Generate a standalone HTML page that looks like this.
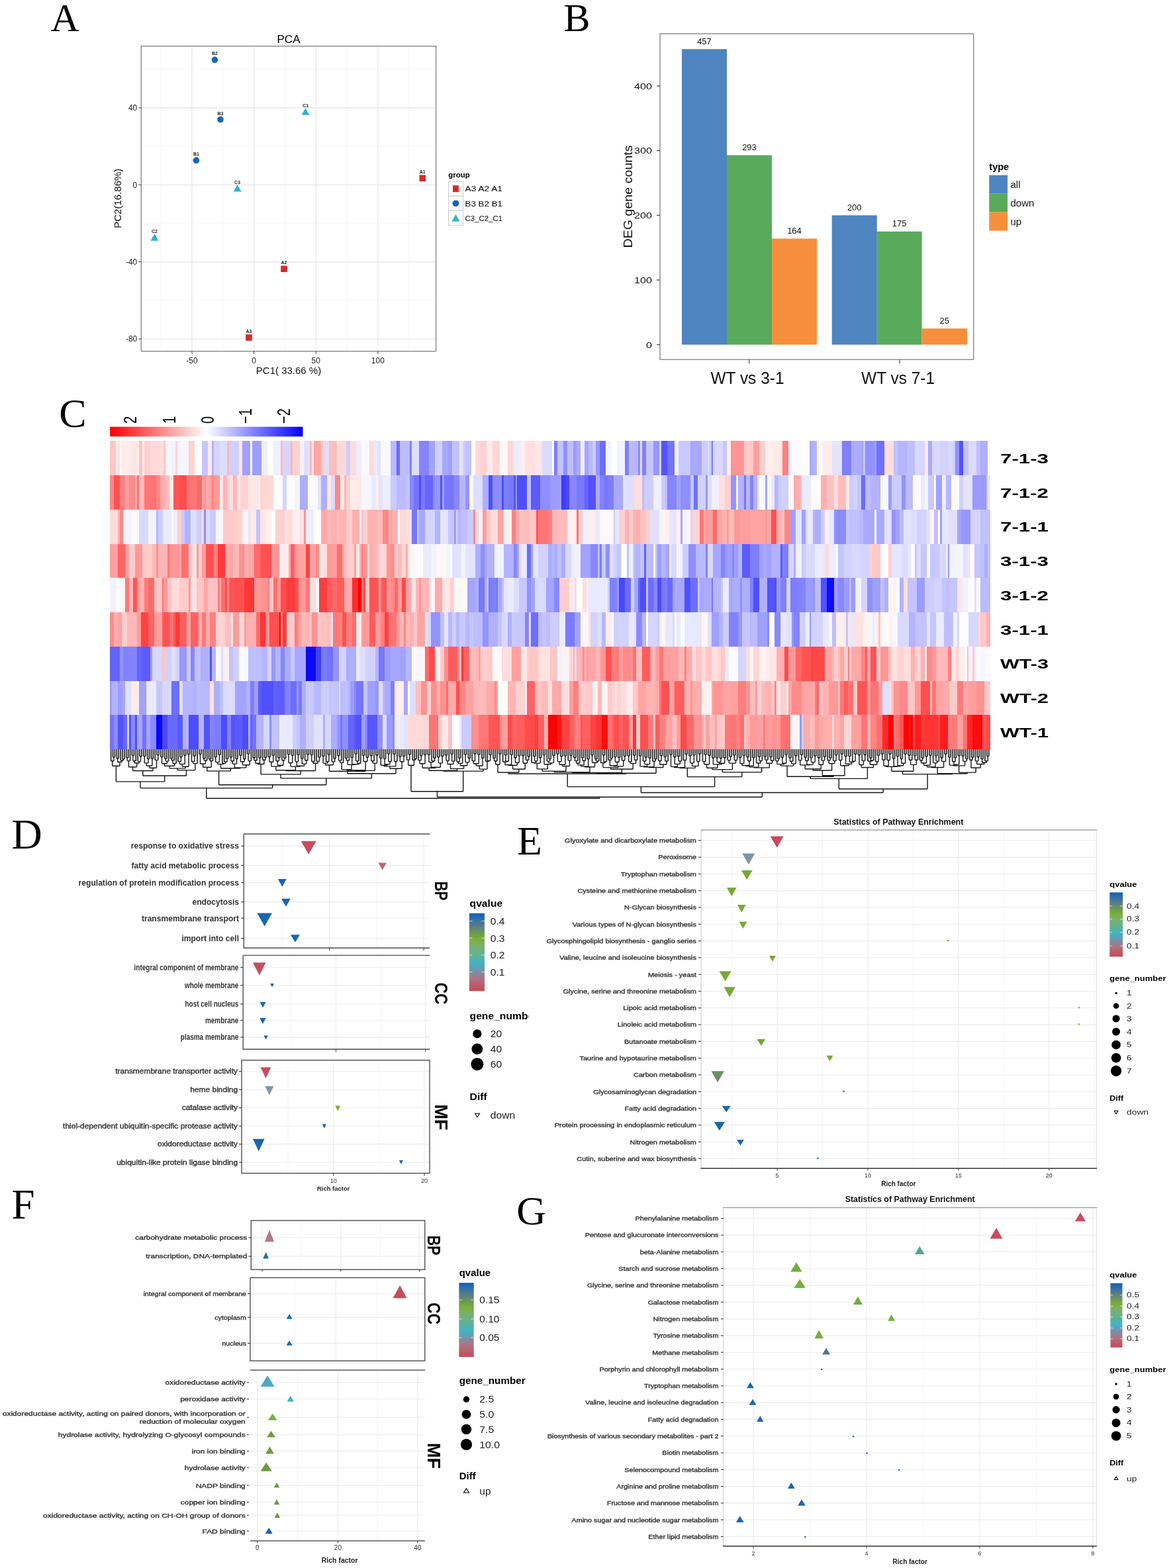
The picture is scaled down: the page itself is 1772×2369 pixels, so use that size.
<!DOCTYPE html>
<html lang="en"><head><meta charset="utf-8"><title>Figure</title>
<style>
html,body{margin:0;padding:0;background:#fff;width:1772px;height:2369px;overflow:hidden}
svg{display:block}
.hm rect{height:51.8px}
svg text{font-family:'Liberation Sans',Arial,Helvetica,sans-serif}
svg text[font-family]{font-family:'Liberation Serif','Times New Roman',serif}
</style></head><body>
<svg width="1772" height="2369" viewBox="0 0 1772 2369" font-family="'Liberation Sans', Arial, Helvetica, sans-serif">
<defs><linearGradient id="qg" x1="0" y1="0" x2="0" y2="1"><stop offset="0" stop-color="#1060b8"/><stop offset="0.1" stop-color="#3a74a0"/><stop offset="0.18" stop-color="#608080"/><stop offset="0.32" stop-color="#7aae32"/><stop offset="0.42" stop-color="#7ab070"/><stop offset="0.54" stop-color="#60b290"/><stop offset="0.64" stop-color="#40b4c8"/><stop offset="0.75" stop-color="#7890a8"/><stop offset="0.85" stop-color="#b07080"/><stop offset="1" stop-color="#c84858"/></linearGradient></defs>
<rect x="213.3" y="69.7" width="445.3" height="461" fill="#fff"/>
<line x1="243.2" y1="69.7" x2="243.2" y2="530.7" stroke="#f5f5f5" stroke-width="1"/>
<line x1="336.8" y1="69.7" x2="336.8" y2="530.7" stroke="#f5f5f5" stroke-width="1"/>
<line x1="430.4" y1="69.7" x2="430.4" y2="530.7" stroke="#f5f5f5" stroke-width="1"/>
<line x1="524" y1="69.7" x2="524" y2="530.7" stroke="#f5f5f5" stroke-width="1"/>
<line x1="617.6" y1="69.7" x2="617.6" y2="530.7" stroke="#f5f5f5" stroke-width="1"/>
<line x1="213.3" y1="104.7" x2="658.6" y2="104.7" stroke="#f5f5f5" stroke-width="1"/>
<line x1="213.3" y1="221.1" x2="658.6" y2="221.1" stroke="#f5f5f5" stroke-width="1"/>
<line x1="213.3" y1="337.5" x2="658.6" y2="337.5" stroke="#f5f5f5" stroke-width="1"/>
<line x1="213.3" y1="453.9" x2="658.6" y2="453.9" stroke="#f5f5f5" stroke-width="1"/>
<line x1="290" y1="69.7" x2="290" y2="530.7" stroke="#e6e6e6" stroke-width="1.2"/>
<line x1="383.6" y1="69.7" x2="383.6" y2="530.7" stroke="#e6e6e6" stroke-width="1.2"/>
<line x1="477.2" y1="69.7" x2="477.2" y2="530.7" stroke="#e6e6e6" stroke-width="1.2"/>
<line x1="570.8" y1="69.7" x2="570.8" y2="530.7" stroke="#e6e6e6" stroke-width="1.2"/>
<line x1="213.3" y1="162.9" x2="658.6" y2="162.9" stroke="#e6e6e6" stroke-width="1.2"/>
<line x1="213.3" y1="279.3" x2="658.6" y2="279.3" stroke="#e6e6e6" stroke-width="1.2"/>
<line x1="213.3" y1="395.7" x2="658.6" y2="395.7" stroke="#e6e6e6" stroke-width="1.2"/>
<line x1="213.3" y1="512.1" x2="658.6" y2="512.1" stroke="#e6e6e6" stroke-width="1.2"/>
<rect x="213.3" y="69.7" width="445.3" height="461" fill="none" stroke="#808080" stroke-width="1.3"/>
<line x1="290" y1="530.7" x2="290" y2="534.7" stroke="#333" stroke-width="1"/>
<text x="290" y="549" font-size="12" text-anchor="middle" fill="#222">-50</text>
<line x1="383.6" y1="530.7" x2="383.6" y2="534.7" stroke="#333" stroke-width="1"/>
<text x="383.6" y="549" font-size="12" text-anchor="middle" fill="#222">0</text>
<line x1="477.2" y1="530.7" x2="477.2" y2="534.7" stroke="#333" stroke-width="1"/>
<text x="477.2" y="549" font-size="12" text-anchor="middle" fill="#222">50</text>
<line x1="570.8" y1="530.7" x2="570.8" y2="534.7" stroke="#333" stroke-width="1"/>
<text x="570.8" y="549" font-size="12" text-anchor="middle" fill="#222">100</text>
<line x1="209.3" y1="162.9" x2="213.3" y2="162.9" stroke="#333" stroke-width="1"/>
<text x="207.3" y="167.2" font-size="12" text-anchor="end" fill="#222">40</text>
<line x1="209.3" y1="279.3" x2="213.3" y2="279.3" stroke="#333" stroke-width="1"/>
<text x="207.3" y="283.6" font-size="12" text-anchor="end" fill="#222">0</text>
<line x1="209.3" y1="395.7" x2="213.3" y2="395.7" stroke="#333" stroke-width="1"/>
<text x="207.3" y="400" font-size="12" text-anchor="end" fill="#222">-40</text>
<line x1="209.3" y1="512.1" x2="213.3" y2="512.1" stroke="#333" stroke-width="1"/>
<text x="207.3" y="516.4" font-size="12" text-anchor="end" fill="#222">-80</text>
<text x="436" y="64.5" font-size="17" text-anchor="middle">PCA</text>
<text x="436" y="565" font-size="15" text-anchor="middle" fill="#111">PC1( 33.66 %)</text>
<text x="183.5" y="299.7" font-size="15" text-anchor="middle" fill="#111" transform="rotate(-90 183.5 299.7)">PC2(16.86%)</text>
<circle cx="324.4" cy="90.4" r="4.8" fill="#1865b8"/>
<text x="324.4" y="83.4" font-size="7" text-anchor="middle" font-weight="bold" fill="#222">B2</text>
<circle cx="333" cy="180.6" r="4.8" fill="#1865b8"/>
<text x="333" y="173.6" font-size="7" text-anchor="middle" font-weight="bold" fill="#222">B3</text>
<circle cx="296.4" cy="242.3" r="4.8" fill="#1865b8"/>
<text x="296.4" y="235.3" font-size="7" text-anchor="middle" font-weight="bold" fill="#222">B1</text>
<path d="M461.6 163.2l6 10.5h-12z" fill="#2fb3cf"/>
<text x="461.6" y="162.2" font-size="7" text-anchor="middle" font-weight="bold" fill="#222">C1</text>
<path d="M358.6 279l6 10.5h-12z" fill="#2fb3cf"/>
<text x="358.6" y="278" font-size="7" text-anchor="middle" font-weight="bold" fill="#222">C3</text>
<path d="M233.5 353.3l6 10.5h-12z" fill="#2fb3cf"/>
<text x="233.5" y="352.3" font-size="7" text-anchor="middle" font-weight="bold" fill="#222">C2</text>
<rect x="633.5" y="264.4" width="9.6" height="9.6" fill="#d42a2e"/>
<text x="638.3" y="262.2" font-size="7" text-anchor="middle" font-weight="bold" fill="#222">A1</text>
<rect x="424.2" y="401.5" width="9.6" height="9.6" fill="#d42a2e"/>
<text x="429" y="399.3" font-size="7" text-anchor="middle" font-weight="bold" fill="#222">A2</text>
<rect x="371.2" y="505.2" width="9.6" height="9.6" fill="#d42a2e"/>
<text x="376" y="503" font-size="7" text-anchor="middle" font-weight="bold" fill="#222">A3</text>
<text x="677.2" y="268.4" font-size="11.5" font-weight="bold">group</text>
<rect x="677.5" y="274" width="22" height="22.1" fill="#fff" stroke="#cfcfcf" stroke-width="1.1"/>
<rect x="684" y="280.2" width="9" height="10" fill="#d42a2e"/>
<text x="702.5" y="289.4" font-size="11.5" textLength="56.5" lengthAdjust="spacingAndGlyphs">A3  A2  A1</text>
<rect x="677.5" y="296.1" width="22" height="22.1" fill="#fff" stroke="#cfcfcf" stroke-width="1.1"/>
<circle cx="688.5" cy="307.3" r="4.9" fill="#1865b8"/>
<text x="702.5" y="311.5" font-size="11.5" textLength="56.5" lengthAdjust="spacingAndGlyphs">B3  B2  B1</text>
<rect x="677.5" y="318.2" width="22" height="22.1" fill="#fff" stroke="#cfcfcf" stroke-width="1.1"/>
<path d="M688.5 323.8l6 10.8h-12z" fill="#2fb3cf"/>
<text x="702.5" y="333.6" font-size="11.5" textLength="56.5" lengthAdjust="spacingAndGlyphs">C3_C2_C1</text>
<rect x="997" y="51" width="473.7" height="492.2" fill="#fff" stroke="#7f7f7f" stroke-width="1.3"/>
<rect x="1030" y="74.21" width="68" height="446.49" fill="#4e84bf"/>
<text x="1064" y="66.71" font-size="13" text-anchor="middle" fill="#111">457</text>
<rect x="1098" y="234.44" width="68" height="286.26" fill="#5aaa5b"/>
<text x="1132" y="226.94" font-size="13" text-anchor="middle" fill="#111">293</text>
<rect x="1166" y="360.47" width="68" height="160.23" fill="#f68f3d"/>
<text x="1200" y="352.97" font-size="13" text-anchor="middle" fill="#111">164</text>
<rect x="1256.7" y="325.3" width="68.1" height="195.4" fill="#4e84bf"/>
<text x="1290.75" y="317.8" font-size="13" text-anchor="middle" fill="#111">200</text>
<rect x="1324.8" y="349.73" width="67.8" height="170.98" fill="#5aaa5b"/>
<text x="1358.7" y="342.23" font-size="13" text-anchor="middle" fill="#111">175</text>
<rect x="1392.6" y="496.28" width="68.4" height="24.43" fill="#f68f3d"/>
<text x="1426.8" y="488.78" font-size="13" text-anchor="middle" fill="#111">25</text>
<line x1="992" y1="520.7" x2="997" y2="520.7" stroke="#333" stroke-width="1.1"/>
<text x="985" y="525.5" font-size="13.5" text-anchor="end" fill="#111" textLength="9" lengthAdjust="spacingAndGlyphs">0</text>
<line x1="992" y1="423" x2="997" y2="423" stroke="#333" stroke-width="1.1"/>
<text x="985" y="427.8" font-size="13.5" text-anchor="end" fill="#111" textLength="27" lengthAdjust="spacingAndGlyphs">100</text>
<line x1="992" y1="325.3" x2="997" y2="325.3" stroke="#333" stroke-width="1.1"/>
<text x="985" y="330.1" font-size="13.5" text-anchor="end" fill="#111" textLength="27" lengthAdjust="spacingAndGlyphs">200</text>
<line x1="992" y1="227.6" x2="997" y2="227.6" stroke="#333" stroke-width="1.1"/>
<text x="985" y="232.4" font-size="13.5" text-anchor="end" fill="#111" textLength="27" lengthAdjust="spacingAndGlyphs">300</text>
<line x1="992" y1="129.9" x2="997" y2="129.9" stroke="#333" stroke-width="1.1"/>
<text x="985" y="134.7" font-size="13.5" text-anchor="end" fill="#111" textLength="27" lengthAdjust="spacingAndGlyphs">400</text>
<line x1="1131.8" y1="543.2" x2="1131.8" y2="549.2" stroke="#333" stroke-width="1.1"/>
<line x1="1359" y1="543.2" x2="1359" y2="549.2" stroke="#333" stroke-width="1.1"/>
<text x="1129" y="580" font-size="25" text-anchor="middle" fill="#111" textLength="111" lengthAdjust="spacingAndGlyphs">WT vs 3-1</text>
<text x="1356.6" y="580" font-size="25" text-anchor="middle" fill="#111" textLength="111" lengthAdjust="spacingAndGlyphs">WT vs 7-1</text>
<text x="954.5" y="297" font-size="18" text-anchor="middle" fill="#111" textLength="155" lengthAdjust="spacingAndGlyphs" transform="rotate(-90 954.5 297)">DEG gene counts</text>
<text x="1494.3" y="257" font-size="14.5" font-weight="bold">type</text>
<rect x="1494.3" y="264.6" width="27.8" height="28" fill="#4e84bf"/>
<text x="1526.5" y="283.6" font-size="15" fill="#111">all</text>
<rect x="1494.3" y="292.6" width="27.8" height="28" fill="#5aaa5b"/>
<text x="1526.5" y="311.6" font-size="15" fill="#111">down</text>
<rect x="1494.3" y="320.6" width="27.8" height="28" fill="#f68f3d"/>
<text x="1526.5" y="339.6" font-size="15" fill="#111">up</text>
<defs><linearGradient id="hmkey" x1="0" x2="1" y1="0" y2="0"><stop offset="0" stop-color="#f00"/><stop offset="0.5" stop-color="#fff"/><stop offset="1" stop-color="#00f"/></linearGradient></defs>
<rect x="166.2" y="644.8" width="291.2" height="14.7" fill="url(#hmkey)"/>
<text font-size="20" transform="translate(206 640) rotate(-90) scale(1 1.36)">2</text>
<text font-size="20" transform="translate(265.1 640) rotate(-90) scale(1 1.36)">1</text>
<text font-size="20" transform="translate(322.6 640) rotate(-90) scale(1 1.36)">0</text>
<text font-size="20" transform="translate(379.6 640) rotate(-90) scale(1 1.36)">−1</text>
<text font-size="20" transform="translate(438 640) rotate(-90) scale(1 1.36)">−2</text>
<g shape-rendering="crispEdges">
<g class="hm" transform="translate(0 666.4)">
<rect x="166.1" width="9.1" fill="#ffc6c6"/>
<rect x="174.8" width="3.3" fill="#fff0f0"/>
<rect x="177.7" width="3.3" fill="#ffdfdf"/>
<rect x="180.6" width="3.3" fill="#fff3f3"/>
<rect x="183.5" width="14.9" fill="#ffebeb"/>
<rect x="198" width="9.1" fill="#ffe5e5"/>
<rect x="206.7" width="3.3" fill="#ffefef"/>
<rect x="209.6" width="3.3" fill="#ffc5c5"/>
<rect x="212.5" width="3.3" fill="#ffbebe"/>
<rect x="215.4" width="3.3" fill="#fff5f5"/>
<rect x="218.3" width="9.1" fill="#ffcfcf"/>
<rect x="227" width="14.9" fill="#ffd9d9"/>
<rect x="241.6" width="6.2" fill="#fdd"/>
<rect x="247.4" width="3.3" fill="#ffc6c6"/>
<rect x="250.3" width="6.2" fill="#f5f5ff"/>
<rect x="256.1" width="3.3" fill="#fff6f6"/>
<rect x="259" width="6.2" fill="#f2f2ff"/>
<rect x="264.8" width="3.3" fill="#ffd6d6"/>
<rect x="267.7" width="3.3" fill="#f1f1ff"/>
<rect x="270.6" width="14.9" fill="#f6f6ff"/>
<rect x="285.1" width="9.1" fill="#ffd2d2"/>
<rect x="293.8" width="12" fill="#fff"/>
<rect x="305.4" width="9.1" fill="#c6c6ff"/>
<rect x="314.1" width="6.2" fill="#ffebeb"/>
<rect x="319.9" width="3.3" fill="#b3b3ff"/>
<rect x="322.8" width="9.1" fill="#d4d4ff"/>
<rect x="331.5" width="12" fill="#ddf"/>
<rect x="343.1" width="3.3" fill="#ffb6b6"/>
<rect x="346" width="14.9" fill="#d0d0ff"/>
<rect x="360.5" width="6.2" fill="#ffe6e6"/>
<rect x="366.4" width="12" fill="#a0a0ff"/>
<rect x="378" width="3.3" fill="#fffcfc"/>
<rect x="380.9" width="14.9" fill="#9e9eff"/>
<rect x="395.4" width="9.1" fill="#efefff"/>
<rect x="404.1" width="9.1" fill="#fdfdff"/>
<rect x="412.8" width="12" fill="#efefff"/>
<rect x="424.4" width="3.3" fill="#fbb"/>
<rect x="427.3" width="12" fill="#d6d6ff"/>
<rect x="438.9" width="3.3" fill="#ffb6b6"/>
<rect x="441.8" width="12" fill="#ffd2d2"/>
<rect x="453.4" width="6.2" fill="#fff1f1"/>
<rect x="459.2" width="9.1" fill="#dfdfff"/>
<rect x="467.9" width="3.3" fill="#fbb"/>
<rect x="470.8" width="3.3" fill="#ffe4e4"/>
<rect x="473.7" width="12" fill="#ffa6a6"/>
<rect x="485.3" width="6.2" fill="#ffd1d1"/>
<rect x="491.1" width="6.2" fill="#dedeff"/>
<rect x="496.9" width="12" fill="#ffbdbd"/>
<rect x="508.6" width="3.3" fill="#ffe2e2"/>
<rect x="511.5" width="6.2" fill="#ffd7d7"/>
<rect x="517.3" width="6.2" fill="#ffd8d8"/>
<rect x="523.1" width="6.2" fill="#cdcdff"/>
<rect x="528.9" width="9.1" fill="#ffdcdc"/>
<rect x="537.6" width="9.1" fill="#eef"/>
<rect x="546.3" width="6.2" fill="#fafaff"/>
<rect x="552.1" width="6.2" fill="#f7f7ff"/>
<rect x="557.9" width="6.2" fill="#ffdbdb"/>
<rect x="563.7" width="6.2" fill="#eaeaff"/>
<rect x="569.5" width="6.2" fill="#e2e2ff"/>
<rect x="575.3" width="14.9" fill="#f8f8ff"/>
<rect x="589.8" width="9.1" fill="#babaff"/>
<rect x="598.5" width="6.2" fill="#6969ff"/>
<rect x="604.3" width="14.9" fill="#bcbcff"/>
<rect x="618.8" width="3.3" fill="#8181ff"/>
<rect x="621.7" width="12" fill="#ddf"/>
<rect x="633.4" width="14.9" fill="#8484ff"/>
<rect x="647.9" width="9.1" fill="#a2a2ff"/>
<rect x="656.6" width="12" fill="#d1d1ff"/>
<rect x="668.2" width="9.1" fill="#a7a7ff"/>
<rect x="676.9" width="6.2" fill="#9f9fff"/>
<rect x="682.7" width="12" fill="#c2c2ff"/>
<rect x="694.3" width="3.3" fill="#e8e8ff"/>
<rect x="697.2" width="3.3" fill="#e0e0ff"/>
<rect x="700.1" width="3.3" fill="#ccf"/>
<rect x="703" width="9.1" fill="#c2c2ff"/>
<rect x="711.7" width="6.2" fill="#fffefe"/>
<rect x="717.5" width="9.1" fill="#ffd7d7"/>
<rect x="726.2" width="9.1" fill="#ffd1d1"/>
<rect x="734.9" width="9.1" fill="#ffeaea"/>
<rect x="743.6" width="12" fill="#ffd6d6"/>
<rect x="755.2" width="12" fill="#fff6f6"/>
<rect x="766.9" width="6.2" fill="#ffd5d5"/>
<rect x="772.7" width="3.3" fill="#ffd9d9"/>
<rect x="775.6" width="12" fill="#ededff"/>
<rect x="787.2" width="6.2" fill="#fff0f0"/>
<rect x="793" width="14.9" fill="#ffdfdf"/>
<rect x="807.5" width="9.1" fill="#ffe8e8"/>
<rect x="816.2" width="3.3" fill="#ffe1e1"/>
<rect x="819.1" width="14.9" fill="#dbdbff"/>
<rect x="833.6" width="3.3" fill="#fdfdff"/>
<rect x="836.5" width="6.2" fill="#7f7fff"/>
<rect x="842.3" width="9.1" fill="#c3c3ff"/>
<rect x="851" width="6.2" fill="#9090ff"/>
<rect x="856.8" width="9.1" fill="#bfbfff"/>
<rect x="865.5" width="6.2" fill="#9d9dff"/>
<rect x="871.3" width="6.2" fill="#acacff"/>
<rect x="877.1" width="6.2" fill="#f0f0ff"/>
<rect x="882.9" width="6.2" fill="#a6a6ff"/>
<rect x="888.7" width="6.2" fill="#b8b8ff"/>
<rect x="894.5" width="3.3" fill="#c8c8ff"/>
<rect x="897.5" width="3.3" fill="#ceceff"/>
<rect x="900.4" width="6.2" fill="#9797ff"/>
<rect x="906.2" width="9.1" fill="#6d6dff"/>
<rect x="914.9" width="9.1" fill="#f4f4ff"/>
<rect x="923.6" width="9.1" fill="#fff"/>
<rect x="932.3" width="12" fill="#f3f3ff"/>
<rect x="943.9" width="6.2" fill="#8080ff"/>
<rect x="949.7" width="3.3" fill="#c1c1ff"/>
<rect x="952.6" width="12" fill="#b8b8ff"/>
<rect x="964.2" width="3.3" fill="#8c8cff"/>
<rect x="967.1" width="3.3" fill="#dfdfff"/>
<rect x="970" width="6.2" fill="#8181ff"/>
<rect x="975.8" width="12" fill="#c6c6ff"/>
<rect x="987.4" width="9.1" fill="#9797ff"/>
<rect x="996.1" width="3.3" fill="#d2d2ff"/>
<rect x="999" width="9.1" fill="#5353ff"/>
<rect x="1007.7" width="12" fill="#7373ff"/>
<rect x="1019.3" width="6.2" fill="#f3f3ff"/>
<rect x="1025.1" width="6.2" fill="#c8c8ff"/>
<rect x="1031" width="12" fill="#c9c9ff"/>
<rect x="1042.6" width="6.2" fill="#a7a7ff"/>
<rect x="1048.4" width="12" fill="#a8a8ff"/>
<rect x="1060" width="9.1" fill="#cdcdff"/>
<rect x="1068.7" width="3.3" fill="#dadaff"/>
<rect x="1071.6" width="3.3" fill="#c5c5ff"/>
<rect x="1074.5" width="3.3" fill="#7b7bff"/>
<rect x="1077.4" width="14.9" fill="#d9d9ff"/>
<rect x="1091.9" width="6.2" fill="#c6c6ff"/>
<rect x="1097.7" width="6.2" fill="#ffefef"/>
<rect x="1103.5" width="14.9" fill="#ff9494"/>
<rect x="1118" width="6.2" fill="#ff9696"/>
<rect x="1123.8" width="14.9" fill="#ffc9c9"/>
<rect x="1138.3" width="9.1" fill="#ff9f9f"/>
<rect x="1147" width="9.1" fill="#ffcece"/>
<rect x="1155.7" width="12" fill="#fee"/>
<rect x="1167.4" width="14.9" fill="#ffeaea"/>
<rect x="1181.9" width="9.1" fill="#ff8080"/>
<rect x="1190.6" width="6.2" fill="#f1f1ff"/>
<rect x="1196.4" width="14.9" fill="#fcfcff"/>
<rect x="1210.9" width="12" fill="#fffcfc"/>
<rect x="1222.5" width="6.2" fill="#ababff"/>
<rect x="1228.3" width="6.2" fill="#b3b3ff"/>
<rect x="1234.1" width="6.2" fill="#f7f7ff"/>
<rect x="1239.9" width="3.3" fill="#fffafa"/>
<rect x="1242.8" width="14.9" fill="#ffeaea"/>
<rect x="1257.3" width="14.9" fill="#e4e4ff"/>
<rect x="1271.8" width="14.9" fill="#8080ff"/>
<rect x="1286.3" width="14.9" fill="#adadff"/>
<rect x="1300.9" width="3.3" fill="#a6a6ff"/>
<rect x="1303.8" width="3.3" fill="#c6c6ff"/>
<rect x="1306.7" width="14.9" fill="#9191ff"/>
<rect x="1321.2" width="3.3" fill="#9c9cff"/>
<rect x="1324.1" width="12" fill="#7070ff"/>
<rect x="1335.7" width="14.9" fill="#fdd"/>
<rect x="1350.2" width="6.2" fill="#c1c1ff"/>
<rect x="1356" width="14.9" fill="#b6b6ff"/>
<rect x="1370.5" width="12" fill="#bfbfff"/>
<rect x="1382.1" width="14.9" fill="#d7d7ff"/>
<rect x="1396.6" width="6.2" fill="#ffe8e8"/>
<rect x="1402.4" width="6.2" fill="#ababff"/>
<rect x="1408.2" width="12" fill="#d8d8ff"/>
<rect x="1419.8" width="12" fill="#d3d3ff"/>
<rect x="1431.5" width="9.1" fill="#d8d8ff"/>
<rect x="1440.2" width="3.3" fill="#cbcbff"/>
<rect x="1443.1" width="6.2" fill="#9191ff"/>
<rect x="1448.9" width="6.2" fill="#5252ff"/>
<rect x="1454.7" width="9.1" fill="#c2c2ff"/>
<rect x="1463.4" width="12" fill="#dcdcff"/>
<rect x="1475" width="6.2" fill="#bfbfff"/>
<rect x="1480.8" width="12" fill="#afafff"/>
<rect x="1492.4" width="3.3" fill="#fff9f9"/>
</g>
<g class="hm" transform="translate(0 718.13)">
<rect x="166.1" width="6.2" fill="#ff8585"/>
<rect x="171.9" width="9.1" fill="#ff5353"/>
<rect x="180.6" width="9.1" fill="#ff8282"/>
<rect x="189.3" width="6.2" fill="#ffa0a0"/>
<rect x="195.1" width="9.1" fill="#ff8b8b"/>
<rect x="203.8" width="3.3" fill="#ffb1b1"/>
<rect x="206.7" width="3.3" fill="#ff7474"/>
<rect x="209.6" width="9.1" fill="#ffbdbd"/>
<rect x="218.3" width="14.9" fill="#ff7676"/>
<rect x="232.9" width="3.3" fill="#ff6f6f"/>
<rect x="235.8" width="6.2" fill="#ff8686"/>
<rect x="241.6" width="3.3" fill="#ffa6a6"/>
<rect x="244.5" width="6.2" fill="#ffb0b0"/>
<rect x="250.3" width="6.2" fill="#ffbdbd"/>
<rect x="256.1" width="6.2" fill="#ffebeb"/>
<rect x="261.9" width="9.1" fill="#f55"/>
<rect x="270.6" width="12" fill="#ff4d4d"/>
<rect x="282.2" width="9.1" fill="#ff7373"/>
<rect x="290.9" width="6.2" fill="#ff7878"/>
<rect x="296.7" width="9.1" fill="#ff6969"/>
<rect x="305.4" width="3.3" fill="#ffa8a8"/>
<rect x="308.3" width="3.3" fill="#ff9494"/>
<rect x="311.2" width="6.2" fill="#ffa9a9"/>
<rect x="317" width="3.3" fill="#ff9b9b"/>
<rect x="319.9" width="3.3" fill="#ff8484"/>
<rect x="322.8" width="9.1" fill="#ff9a9a"/>
<rect x="331.5" width="6.2" fill="#ffe7e7"/>
<rect x="337.3" width="6.2" fill="#ffb4b4"/>
<rect x="343.1" width="3.3" fill="#ffd8d8"/>
<rect x="346" width="6.2" fill="#ffdede"/>
<rect x="351.8" width="6.2" fill="#ffb6b6"/>
<rect x="357.6" width="6.2" fill="#ffe4e4"/>
<rect x="363.4" width="12" fill="#ffd3d3"/>
<rect x="375.1" width="14.9" fill="#ffe6e6"/>
<rect x="389.6" width="3.3" fill="#fff1f1"/>
<rect x="392.5" width="6.2" fill="#ffd2d2"/>
<rect x="398.3" width="14.9" fill="#ffd7d7"/>
<rect x="412.8" width="14.9" fill="#fffcfc"/>
<rect x="427.3" width="6.2" fill="#d3d3ff"/>
<rect x="433.1" width="12" fill="#fffcfc"/>
<rect x="444.7" width="9.1" fill="#f5f5ff"/>
<rect x="453.4" width="12" fill="#adadff"/>
<rect x="465" width="14.9" fill="#f9f9ff"/>
<rect x="479.5" width="6.2" fill="#e3e3ff"/>
<rect x="485.3" width="9.1" fill="#afafff"/>
<rect x="494" width="6.2" fill="#ffe8e8"/>
<rect x="499.9" width="6.2" fill="#dbdbff"/>
<rect x="505.7" width="9.1" fill="#f88"/>
<rect x="514.4" width="6.2" fill="#ffecec"/>
<rect x="520.2" width="3.3" fill="#ffb5b5"/>
<rect x="523.1" width="6.2" fill="#ffd2d2"/>
<rect x="528.9" width="9.1" fill="#ffebeb"/>
<rect x="537.6" width="9.1" fill="#ffe7e7"/>
<rect x="546.3" width="14.9" fill="#f6f6ff"/>
<rect x="560.8" width="6.2" fill="#e9e9ff"/>
<rect x="566.6" width="6.2" fill="#ffeded"/>
<rect x="572.4" width="6.2" fill="#e4e4ff"/>
<rect x="578.2" width="12" fill="#eef"/>
<rect x="589.8" width="9.1" fill="#cacaff"/>
<rect x="598.5" width="14.9" fill="#bbf"/>
<rect x="613" width="6.2" fill="#c4c4ff"/>
<rect x="618.8" width="6.2" fill="#8989ff"/>
<rect x="624.6" width="9.1" fill="#7474ff"/>
<rect x="633.4" width="3.3" fill="#4d4dff"/>
<rect x="636.3" width="6.2" fill="#7a7aff"/>
<rect x="642.1" width="6.2" fill="#6565ff"/>
<rect x="647.9" width="6.2" fill="#66f"/>
<rect x="653.7" width="3.3" fill="#8c8cff"/>
<rect x="656.6" width="9.1" fill="#9696ff"/>
<rect x="665.3" width="3.3" fill="#5353ff"/>
<rect x="668.2" width="3.3" fill="#a4a4ff"/>
<rect x="671.1" width="14.9" fill="#7676ff"/>
<rect x="685.6" width="9.1" fill="#8989ff"/>
<rect x="694.3" width="9.1" fill="#b7b7ff"/>
<rect x="703" width="6.2" fill="#9595ff"/>
<rect x="708.8" width="6.2" fill="#fff7f7"/>
<rect x="714.6" width="14.9" fill="#dedeff"/>
<rect x="729.1" width="9.1" fill="#b0b0ff"/>
<rect x="737.8" width="6.2" fill="#4d4dff"/>
<rect x="743.6" width="14.9" fill="#8d8dff"/>
<rect x="758.1" width="3.3" fill="#4e4eff"/>
<rect x="761" width="6.2" fill="#7e7eff"/>
<rect x="766.9" width="9.1" fill="#7979ff"/>
<rect x="775.6" width="3.3" fill="#5252ff"/>
<rect x="778.5" width="3.3" fill="#9595ff"/>
<rect x="781.4" width="3.3" fill="#4e4eff"/>
<rect x="784.3" width="12" fill="#4e4eff"/>
<rect x="795.9" width="6.2" fill="#c3c3ff"/>
<rect x="801.7" width="14.9" fill="#5b5bff"/>
<rect x="816.2" width="14.9" fill="#8e8eff"/>
<rect x="830.7" width="12" fill="#9c9cff"/>
<rect x="842.3" width="6.2" fill="#9e9eff"/>
<rect x="848.1" width="6.2" fill="#3b3bff"/>
<rect x="853.9" width="6.2" fill="#4848ff"/>
<rect x="859.7" width="12" fill="#8787ff"/>
<rect x="871.3" width="12" fill="#7a7aff"/>
<rect x="882.9" width="6.2" fill="#6464ff"/>
<rect x="888.7" width="3.3" fill="#4e4eff"/>
<rect x="891.6" width="3.3" fill="#5050ff"/>
<rect x="894.5" width="6.2" fill="#5353ff"/>
<rect x="900.4" width="6.2" fill="#ababff"/>
<rect x="906.2" width="6.2" fill="#8282ff"/>
<rect x="912" width="6.2" fill="#77f"/>
<rect x="917.8" width="3.3" fill="#7e7eff"/>
<rect x="920.7" width="6.2" fill="#7d7dff"/>
<rect x="926.5" width="14.9" fill="#a9a9ff"/>
<rect x="941" width="3.3" fill="#e2e2ff"/>
<rect x="943.9" width="14.9" fill="#dfdfff"/>
<rect x="958.4" width="12" fill="#ffdede"/>
<rect x="970" width="3.3" fill="#bcbcff"/>
<rect x="972.9" width="14.9" fill="#cdcdff"/>
<rect x="987.4" width="12" fill="#efefff"/>
<rect x="999" width="6.2" fill="#cbcbff"/>
<rect x="1004.8" width="3.3" fill="#bbf"/>
<rect x="1007.7" width="14.9" fill="#8585ff"/>
<rect x="1022.2" width="6.2" fill="#a2a2ff"/>
<rect x="1028" width="14.9" fill="#8e8eff"/>
<rect x="1042.6" width="6.2" fill="#c9c9ff"/>
<rect x="1048.4" width="6.2" fill="#7070ff"/>
<rect x="1054.2" width="12" fill="#d2d2ff"/>
<rect x="1065.8" width="3.3" fill="#9898ff"/>
<rect x="1068.7" width="6.2" fill="#dfdfff"/>
<rect x="1074.5" width="12" fill="#f0f0ff"/>
<rect x="1086.1" width="9.1" fill="#ffdfdf"/>
<rect x="1094.8" width="9.1" fill="#ffd1d1"/>
<rect x="1103.5" width="9.1" fill="#9595ff"/>
<rect x="1112.2" width="3.3" fill="#f5f5ff"/>
<rect x="1115.1" width="9.1" fill="#b3b3ff"/>
<rect x="1123.8" width="3.3" fill="#7676ff"/>
<rect x="1126.7" width="6.2" fill="#b8b8ff"/>
<rect x="1132.5" width="6.2" fill="#8282ff"/>
<rect x="1138.3" width="6.2" fill="#b3b3ff"/>
<rect x="1144.1" width="3.3" fill="#e4e4ff"/>
<rect x="1147" width="9.1" fill="#f9f9ff"/>
<rect x="1155.7" width="3.3" fill="#a3a3ff"/>
<rect x="1158.6" width="6.2" fill="#f7f7ff"/>
<rect x="1164.5" width="6.2" fill="#e9e9ff"/>
<rect x="1170.3" width="6.2" fill="#b7b7ff"/>
<rect x="1176.1" width="14.9" fill="#d0d0ff"/>
<rect x="1190.6" width="9.1" fill="#fdfdff"/>
<rect x="1199.3" width="9.1" fill="#ffacac"/>
<rect x="1208" width="3.3" fill="#ffb9b9"/>
<rect x="1210.9" width="14.9" fill="#ededff"/>
<rect x="1225.4" width="14.9" fill="#fffbfb"/>
<rect x="1239.9" width="9.1" fill="#ffafaf"/>
<rect x="1248.6" width="12" fill="#ffc2c2"/>
<rect x="1260.2" width="6.2" fill="#ffdede"/>
<rect x="1266" width="12" fill="#ffbdbd"/>
<rect x="1277.6" width="6.2" fill="#ffeaea"/>
<rect x="1283.4" width="6.2" fill="#ccf"/>
<rect x="1289.2" width="6.2" fill="#d2d2ff"/>
<rect x="1295" width="6.2" fill="#c5c5ff"/>
<rect x="1300.9" width="6.2" fill="#6b6bff"/>
<rect x="1306.7" width="9.1" fill="#bbf"/>
<rect x="1315.4" width="14.9" fill="#b3b3ff"/>
<rect x="1329.9" width="9.1" fill="#f8f8ff"/>
<rect x="1338.6" width="3.3" fill="#fafaff"/>
<rect x="1341.5" width="6.2" fill="#9a9aff"/>
<rect x="1347.3" width="14.9" fill="#cbcbff"/>
<rect x="1361.8" width="6.2" fill="#9292ff"/>
<rect x="1367.6" width="12" fill="#bcbcff"/>
<rect x="1379.2" width="9.1" fill="#fff"/>
<rect x="1387.9" width="3.3" fill="#fffcfc"/>
<rect x="1390.8" width="6.2" fill="#ebebff"/>
<rect x="1396.6" width="6.2" fill="#f5f5ff"/>
<rect x="1402.4" width="9.1" fill="#cacaff"/>
<rect x="1411.1" width="3.3" fill="#fafaff"/>
<rect x="1414" width="9.1" fill="#a0a0ff"/>
<rect x="1422.7" width="6.2" fill="#ededff"/>
<rect x="1428.5" width="9.1" fill="#b7b7ff"/>
<rect x="1437.3" width="12" fill="#fcfcff"/>
<rect x="1448.9" width="6.2" fill="#d3d3ff"/>
<rect x="1454.7" width="14.9" fill="#e5e5ff"/>
<rect x="1469.2" width="14.9" fill="#9b9bff"/>
<rect x="1483.7" width="6.2" fill="#9898ff"/>
<rect x="1489.5" width="3.3" fill="#c8c8ff"/>
<rect x="1492.4" width="3.3" fill="#e7e7ff"/>
</g>
<g class="hm" transform="translate(0 769.87)">
<rect x="166.1" width="12" fill="#ffdcdc"/>
<rect x="177.7" width="3.3" fill="#ffb2b2"/>
<rect x="180.6" width="6.2" fill="#ff8686"/>
<rect x="186.4" width="12" fill="#f3f3ff"/>
<rect x="198" width="12" fill="#fbfbff"/>
<rect x="209.6" width="14.9" fill="#d9d9ff"/>
<rect x="224.1" width="12" fill="#f2f2ff"/>
<rect x="235.8" width="3.3" fill="#b8b8ff"/>
<rect x="238.7" width="6.2" fill="#cdcdff"/>
<rect x="244.5" width="3.3" fill="#d9d9ff"/>
<rect x="247.4" width="12" fill="#ebebff"/>
<rect x="259" width="3.3" fill="#f7f7ff"/>
<rect x="261.9" width="6.2" fill="#eef"/>
<rect x="267.7" width="6.2" fill="#ffcfcf"/>
<rect x="273.5" width="6.2" fill="#c9c9ff"/>
<rect x="279.3" width="9.1" fill="#b3b3ff"/>
<rect x="288" width="3.3" fill="#e4e4ff"/>
<rect x="290.9" width="6.2" fill="#dedeff"/>
<rect x="296.7" width="9.1" fill="#ceceff"/>
<rect x="305.4" width="3.3" fill="#ffdada"/>
<rect x="308.3" width="3.3" fill="#8b8bff"/>
<rect x="311.2" width="6.2" fill="#d9d9ff"/>
<rect x="317" width="9.1" fill="#cacaff"/>
<rect x="325.7" width="12" fill="#f7f7ff"/>
<rect x="337.3" width="14.9" fill="#ffc9c9"/>
<rect x="351.8" width="9.1" fill="#ffcdcd"/>
<rect x="360.5" width="6.2" fill="#ffd1d1"/>
<rect x="366.4" width="9.1" fill="#fff3f3"/>
<rect x="375.1" width="3.3" fill="#e3e3ff"/>
<rect x="378" width="9.1" fill="#ffe8e8"/>
<rect x="386.7" width="6.2" fill="#c2c2ff"/>
<rect x="392.5" width="9.1" fill="#ffe3e3"/>
<rect x="401.2" width="9.1" fill="#ffefef"/>
<rect x="409.9" width="6.2" fill="#fff"/>
<rect x="415.7" width="14.9" fill="#ffd0d0"/>
<rect x="430.2" width="6.2" fill="#ffdede"/>
<rect x="436" width="6.2" fill="#ffdbdb"/>
<rect x="441.8" width="12" fill="#ffefef"/>
<rect x="453.4" width="6.2" fill="#ffe0e0"/>
<rect x="459.2" width="3.3" fill="#ff9191"/>
<rect x="462.1" width="12" fill="#ededff"/>
<rect x="473.7" width="12" fill="#fefeff"/>
<rect x="485.3" width="9.1" fill="#ffa8a8"/>
<rect x="494" width="6.2" fill="#ffb9b9"/>
<rect x="499.9" width="9.1" fill="#ffb0b0"/>
<rect x="508.6" width="6.2" fill="#ffbdbd"/>
<rect x="514.4" width="9.1" fill="#ffb3b3"/>
<rect x="523.1" width="9.1" fill="#fcc"/>
<rect x="531.8" width="12" fill="#ffafaf"/>
<rect x="543.4" width="3.3" fill="#f0f0ff"/>
<rect x="546.3" width="3.3" fill="#ffc3c3"/>
<rect x="549.2" width="6.2" fill="#ffd3d3"/>
<rect x="555" width="14.9" fill="#ffb3b3"/>
<rect x="569.5" width="9.1" fill="#ffbcbc"/>
<rect x="578.2" width="9.1" fill="#ff8989"/>
<rect x="586.9" width="3.3" fill="#ffb6b6"/>
<rect x="589.8" width="3.3" fill="#ffa5a5"/>
<rect x="592.7" width="9.1" fill="#ffb2b2"/>
<rect x="601.4" width="3.3" fill="#fff9f9"/>
<rect x="604.3" width="9.1" fill="#ffd7d7"/>
<rect x="613" width="9.1" fill="#ffe0e0"/>
<rect x="621.7" width="9.1" fill="#7676ff"/>
<rect x="630.4" width="3.3" fill="#c5c5ff"/>
<rect x="633.4" width="9.1" fill="#a7a7ff"/>
<rect x="642.1" width="14.9" fill="#d4d4ff"/>
<rect x="656.6" width="9.1" fill="#b4b4ff"/>
<rect x="665.3" width="12" fill="#e4e4ff"/>
<rect x="676.9" width="9.1" fill="#c6c6ff"/>
<rect x="685.6" width="3.3" fill="#9e9eff"/>
<rect x="688.5" width="3.3" fill="#d5d5ff"/>
<rect x="691.4" width="6.2" fill="#b7b7ff"/>
<rect x="697.2" width="9.1" fill="#bfbfff"/>
<rect x="705.9" width="9.1" fill="#cacaff"/>
<rect x="714.6" width="3.3" fill="#ff8c8c"/>
<rect x="717.5" width="6.2" fill="#ffdada"/>
<rect x="723.3" width="6.2" fill="#f1f1ff"/>
<rect x="729.1" width="6.2" fill="#ff9d9d"/>
<rect x="734.9" width="3.3" fill="#ffcfcf"/>
<rect x="737.8" width="3.3" fill="#ffc5c5"/>
<rect x="740.7" width="12" fill="#ffdbdb"/>
<rect x="752.3" width="9.1" fill="#ffa5a5"/>
<rect x="761" width="12" fill="#fff0f0"/>
<rect x="772.7" width="6.2" fill="#ff8282"/>
<rect x="778.5" width="6.2" fill="#ffabab"/>
<rect x="784.3" width="6.2" fill="#ffc1c1"/>
<rect x="790.1" width="9.1" fill="#ffbcbc"/>
<rect x="798.8" width="12" fill="#ffc6c6"/>
<rect x="810.4" width="3.3" fill="#ff5454"/>
<rect x="813.3" width="14.9" fill="#ff7575"/>
<rect x="827.8" width="6.2" fill="#ff7f7f"/>
<rect x="833.6" width="9.1" fill="#ffb6b6"/>
<rect x="842.3" width="14.9" fill="#fbb"/>
<rect x="856.8" width="14.9" fill="#ffefef"/>
<rect x="871.3" width="3.3" fill="#ff7373"/>
<rect x="874.2" width="3.3" fill="#ffd5d5"/>
<rect x="877.1" width="3.3" fill="#ffcaca"/>
<rect x="880" width="9.1" fill="#efefff"/>
<rect x="888.7" width="12" fill="#fee"/>
<rect x="900.4" width="6.2" fill="#e9e9ff"/>
<rect x="906.2" width="6.2" fill="#fff6f6"/>
<rect x="912" width="14.9" fill="#fff7f7"/>
<rect x="926.5" width="3.3" fill="#ccf"/>
<rect x="929.4" width="6.2" fill="#e7e7ff"/>
<rect x="935.2" width="9.1" fill="#ffd0d0"/>
<rect x="943.9" width="6.2" fill="#ffb4b4"/>
<rect x="949.7" width="6.2" fill="#fcc"/>
<rect x="955.5" width="6.2" fill="#ffb2b2"/>
<rect x="961.3" width="6.2" fill="#ffadad"/>
<rect x="967.1" width="9.1" fill="#ffc1c1"/>
<rect x="975.8" width="6.2" fill="#ffcece"/>
<rect x="981.6" width="14.9" fill="#e1e1ff"/>
<rect x="996.1" width="3.3" fill="#f8f8ff"/>
<rect x="999" width="12" fill="#fff1f1"/>
<rect x="1010.6" width="12" fill="#e5e5ff"/>
<rect x="1022.2" width="6.2" fill="#fff1f1"/>
<rect x="1028" width="3.3" fill="#a8a8ff"/>
<rect x="1031" width="6.2" fill="#f3f3ff"/>
<rect x="1036.8" width="6.2" fill="#fff5f5"/>
<rect x="1042.6" width="3.3" fill="#d5d5ff"/>
<rect x="1045.5" width="12" fill="#ffd3d3"/>
<rect x="1057.1" width="6.2" fill="#f77"/>
<rect x="1062.9" width="3.3" fill="#ffa9a9"/>
<rect x="1065.8" width="3.3" fill="#ff9595"/>
<rect x="1068.7" width="9.1" fill="#ff9d9d"/>
<rect x="1077.4" width="6.2" fill="#ff6a6a"/>
<rect x="1083.2" width="3.3" fill="#faa"/>
<rect x="1086.1" width="6.2" fill="#ffa8a8"/>
<rect x="1091.9" width="6.2" fill="#ffb3b3"/>
<rect x="1097.7" width="3.3" fill="#ff9f9f"/>
<rect x="1100.6" width="9.1" fill="#ffbdbd"/>
<rect x="1109.3" width="6.2" fill="#f99"/>
<rect x="1115.1" width="3.3" fill="#ff9898"/>
<rect x="1118" width="12" fill="#ff9e9e"/>
<rect x="1129.6" width="3.3" fill="#ff9d9d"/>
<rect x="1132.5" width="9.1" fill="#ffa5a5"/>
<rect x="1141.2" width="14.9" fill="#ffa2a2"/>
<rect x="1155.7" width="3.3" fill="#ff9898"/>
<rect x="1158.6" width="6.2" fill="#ffa3a3"/>
<rect x="1164.5" width="9.1" fill="#ff5050"/>
<rect x="1173.2" width="9.1" fill="#ffb7b7"/>
<rect x="1181.9" width="3.3" fill="#ffc5c5"/>
<rect x="1184.8" width="9.1" fill="#ff8585"/>
<rect x="1193.5" width="9.1" fill="#9f9fff"/>
<rect x="1202.2" width="9.1" fill="#e4e4ff"/>
<rect x="1210.9" width="6.2" fill="#a3a3ff"/>
<rect x="1216.7" width="3.3" fill="#ddf"/>
<rect x="1219.6" width="9.1" fill="#eaeaff"/>
<rect x="1228.3" width="3.3" fill="#b6b6ff"/>
<rect x="1231.2" width="9.1" fill="#aeaeff"/>
<rect x="1239.9" width="6.2" fill="#cfcfff"/>
<rect x="1245.7" width="6.2" fill="#ffefef"/>
<rect x="1251.5" width="9.1" fill="#e9e9ff"/>
<rect x="1260.2" width="3.3" fill="#9393ff"/>
<rect x="1263.1" width="14.9" fill="#8c8cff"/>
<rect x="1277.6" width="6.2" fill="#c5c5ff"/>
<rect x="1283.4" width="14.9" fill="#c0c0ff"/>
<rect x="1298" width="6.2" fill="#b7b7ff"/>
<rect x="1303.8" width="12" fill="#a9a9ff"/>
<rect x="1315.4" width="6.2" fill="#a9a9ff"/>
<rect x="1321.2" width="3.3" fill="#fffcfc"/>
<rect x="1324.1" width="12" fill="#a9a9ff"/>
<rect x="1335.7" width="9.1" fill="#e2e2ff"/>
<rect x="1344.4" width="3.3" fill="#dedeff"/>
<rect x="1347.3" width="6.2" fill="#9494ff"/>
<rect x="1353.1" width="6.2" fill="#a1a1ff"/>
<rect x="1358.9" width="6.2" fill="#b8b8ff"/>
<rect x="1364.7" width="12" fill="#e3e3ff"/>
<rect x="1376.3" width="9.1" fill="#dedeff"/>
<rect x="1385" width="14.9" fill="#d3d3ff"/>
<rect x="1399.5" width="6.2" fill="#e3e3ff"/>
<rect x="1405.3" width="6.2" fill="#fff2f2"/>
<rect x="1411.1" width="6.2" fill="#c0c0ff"/>
<rect x="1416.9" width="3.3" fill="#fff"/>
<rect x="1419.8" width="3.3" fill="#9d9dff"/>
<rect x="1422.7" width="9.1" fill="#e7e7ff"/>
<rect x="1431.5" width="14.9" fill="#e1e1ff"/>
<rect x="1446" width="6.2" fill="#a5a5ff"/>
<rect x="1451.8" width="6.2" fill="#9898ff"/>
<rect x="1457.6" width="9.1" fill="#9696ff"/>
<rect x="1466.3" width="14.9" fill="#d3d3ff"/>
<rect x="1480.8" width="12" fill="#c1c1ff"/>
<rect x="1492.4" width="3.3" fill="#c2c2ff"/>
</g>
<g class="hm" transform="translate(0 821.6)">
<rect x="166.1" width="12" fill="#ffa0a0"/>
<rect x="177.7" width="12" fill="#ff6363"/>
<rect x="189.3" width="6.2" fill="#ffa2a2"/>
<rect x="195.1" width="3.3" fill="#ffd6d6"/>
<rect x="198" width="6.2" fill="#ffc9c9"/>
<rect x="203.8" width="12" fill="#f99"/>
<rect x="215.4" width="14.9" fill="#ffcaca"/>
<rect x="229.9" width="6.2" fill="#ffb9b9"/>
<rect x="235.8" width="3.3" fill="#ff8f8f"/>
<rect x="238.7" width="14.9" fill="#ffb6b6"/>
<rect x="253.2" width="3.3" fill="#ff7a7a"/>
<rect x="256.1" width="9.1" fill="#ff9696"/>
<rect x="264.8" width="6.2" fill="#ff9797"/>
<rect x="270.6" width="3.3" fill="#ffa3a3"/>
<rect x="273.5" width="6.2" fill="#ff6e6e"/>
<rect x="279.3" width="6.2" fill="#ff7272"/>
<rect x="285.1" width="6.2" fill="#ffcaca"/>
<rect x="290.9" width="6.2" fill="#ffebeb"/>
<rect x="296.7" width="3.3" fill="#ff9898"/>
<rect x="299.6" width="6.2" fill="#ffd1d1"/>
<rect x="305.4" width="6.2" fill="#ff9c9c"/>
<rect x="311.2" width="12" fill="#ff5050"/>
<rect x="322.8" width="6.2" fill="#ff7e7e"/>
<rect x="328.6" width="12" fill="#ff3a3a"/>
<rect x="340.2" width="6.2" fill="#ffa7a7"/>
<rect x="346" width="6.2" fill="#ffa6a6"/>
<rect x="351.8" width="9.1" fill="#ffb8b8"/>
<rect x="360.5" width="9.1" fill="#ff9393"/>
<rect x="369.3" width="6.2" fill="#ffadad"/>
<rect x="375.1" width="9.1" fill="#ffa6a6"/>
<rect x="383.8" width="9.1" fill="#ff6969"/>
<rect x="392.5" width="3.3" fill="#ff5858"/>
<rect x="395.4" width="14.9" fill="#ff5151"/>
<rect x="409.9" width="12" fill="#ff9696"/>
<rect x="421.5" width="14.9" fill="#ffecec"/>
<rect x="436" width="3.3" fill="#faa"/>
<rect x="438.9" width="6.2" fill="#ff6060"/>
<rect x="444.7" width="9.1" fill="#ff9c9c"/>
<rect x="453.4" width="9.1" fill="#ffa5a5"/>
<rect x="462.1" width="6.2" fill="#ff4343"/>
<rect x="467.9" width="9.1" fill="#ffa1a1"/>
<rect x="476.6" width="6.2" fill="#ff8a8a"/>
<rect x="482.4" width="6.2" fill="#ffe6e6"/>
<rect x="488.2" width="6.2" fill="#fdd"/>
<rect x="494" width="14.9" fill="#ff9c9c"/>
<rect x="508.6" width="9.1" fill="#ff6d6d"/>
<rect x="517.3" width="3.3" fill="#ffa6a6"/>
<rect x="520.2" width="6.2" fill="#ffc2c2"/>
<rect x="526" width="9.1" fill="#ffcfcf"/>
<rect x="534.7" width="3.3" fill="#ffa1a1"/>
<rect x="537.6" width="6.2" fill="#ffe7e7"/>
<rect x="543.4" width="3.3" fill="#ffafaf"/>
<rect x="546.3" width="3.3" fill="#ff8282"/>
<rect x="549.2" width="6.2" fill="#ff9a9a"/>
<rect x="555" width="3.3" fill="#ffd6d6"/>
<rect x="557.9" width="9.1" fill="#ffadad"/>
<rect x="566.6" width="6.2" fill="#ffbdbd"/>
<rect x="572.4" width="12" fill="#ffd7d7"/>
<rect x="584" width="6.2" fill="#ff9595"/>
<rect x="589.8" width="6.2" fill="#ff8d8d"/>
<rect x="595.6" width="6.2" fill="#ffd0d0"/>
<rect x="601.4" width="6.2" fill="#fbb"/>
<rect x="607.2" width="6.2" fill="#ffd7d7"/>
<rect x="613" width="3.3" fill="#ffafaf"/>
<rect x="615.9" width="3.3" fill="#ffe1e1"/>
<rect x="618.8" width="9.1" fill="#fff8f8"/>
<rect x="627.5" width="12" fill="#fffafa"/>
<rect x="639.2" width="12" fill="#ebebff"/>
<rect x="650.8" width="6.2" fill="#f3f3ff"/>
<rect x="656.6" width="3.3" fill="#f3f3ff"/>
<rect x="659.5" width="14.9" fill="#fff8f8"/>
<rect x="674" width="6.2" fill="#f5f5ff"/>
<rect x="679.8" width="3.3" fill="#fff"/>
<rect x="682.7" width="14.9" fill="#e3e3ff"/>
<rect x="697.2" width="6.2" fill="#f3f3ff"/>
<rect x="703" width="14.9" fill="#e4e4ff"/>
<rect x="717.5" width="9.1" fill="#afafff"/>
<rect x="726.2" width="6.2" fill="#8f8fff"/>
<rect x="732" width="3.3" fill="#a2a2ff"/>
<rect x="734.9" width="12" fill="#b2b2ff"/>
<rect x="746.5" width="14.9" fill="#f2f2ff"/>
<rect x="761" width="12" fill="#b5b5ff"/>
<rect x="772.7" width="3.3" fill="#b0b0ff"/>
<rect x="775.6" width="6.2" fill="#8686ff"/>
<rect x="781.4" width="3.3" fill="#a6a6ff"/>
<rect x="784.3" width="3.3" fill="#dedeff"/>
<rect x="787.2" width="9.1" fill="#ebebff"/>
<rect x="795.9" width="6.2" fill="#6d6dff"/>
<rect x="801.7" width="3.3" fill="#a6a6ff"/>
<rect x="804.6" width="9.1" fill="#e3e3ff"/>
<rect x="813.3" width="14.9" fill="#d2d2ff"/>
<rect x="827.8" width="6.2" fill="#adadff"/>
<rect x="833.6" width="3.3" fill="#b7b7ff"/>
<rect x="836.5" width="6.2" fill="#aeaeff"/>
<rect x="842.3" width="6.2" fill="#c0c0ff"/>
<rect x="848.1" width="6.2" fill="#adadff"/>
<rect x="853.9" width="9.1" fill="#d9d9ff"/>
<rect x="862.6" width="6.2" fill="#ededff"/>
<rect x="868.4" width="9.1" fill="#f1f1ff"/>
<rect x="877.1" width="14.9" fill="#a3a3ff"/>
<rect x="891.6" width="12" fill="#8989ff"/>
<rect x="903.3" width="3.3" fill="#bbf"/>
<rect x="906.2" width="3.3" fill="#7a7aff"/>
<rect x="909.1" width="6.2" fill="#cacaff"/>
<rect x="914.9" width="6.2" fill="#9090ff"/>
<rect x="920.7" width="6.2" fill="#dedeff"/>
<rect x="926.5" width="6.2" fill="#d1d1ff"/>
<rect x="932.3" width="6.2" fill="#c3c3ff"/>
<rect x="938.1" width="9.1" fill="#fefeff"/>
<rect x="946.8" width="3.3" fill="#c4c4ff"/>
<rect x="949.7" width="3.3" fill="#ededff"/>
<rect x="952.6" width="3.3" fill="#f3f3ff"/>
<rect x="955.5" width="3.3" fill="#cbcbff"/>
<rect x="958.4" width="9.1" fill="#b5b5ff"/>
<rect x="967.1" width="6.2" fill="#c4c4ff"/>
<rect x="972.9" width="3.3" fill="#6363ff"/>
<rect x="975.8" width="9.1" fill="#bbf"/>
<rect x="984.5" width="3.3" fill="#babaff"/>
<rect x="987.4" width="3.3" fill="#f7f7ff"/>
<rect x="990.3" width="3.3" fill="#c1c1ff"/>
<rect x="993.2" width="6.2" fill="#9e9eff"/>
<rect x="999" width="6.2" fill="#b5b5ff"/>
<rect x="1004.8" width="6.2" fill="#a7a7ff"/>
<rect x="1010.6" width="3.3" fill="#ececff"/>
<rect x="1013.5" width="9.1" fill="#d8d8ff"/>
<rect x="1022.2" width="9.1" fill="#f5f5ff"/>
<rect x="1031" width="9.1" fill="#ceceff"/>
<rect x="1039.7" width="12" fill="#8e8eff"/>
<rect x="1051.3" width="6.2" fill="#b8b8ff"/>
<rect x="1057.1" width="9.1" fill="#b9b9ff"/>
<rect x="1065.8" width="3.3" fill="#8585ff"/>
<rect x="1068.7" width="9.1" fill="#d8d8ff"/>
<rect x="1077.4" width="12" fill="#a7a7ff"/>
<rect x="1089" width="6.2" fill="#8585ff"/>
<rect x="1094.8" width="3.3" fill="#9696ff"/>
<rect x="1097.7" width="9.1" fill="#9f9fff"/>
<rect x="1106.4" width="3.3" fill="#8686ff"/>
<rect x="1109.3" width="3.3" fill="#a1a1ff"/>
<rect x="1112.2" width="3.3" fill="#9c9cff"/>
<rect x="1115.1" width="6.2" fill="#b4b4ff"/>
<rect x="1120.9" width="12" fill="#5c5cff"/>
<rect x="1132.5" width="14.9" fill="#7e7eff"/>
<rect x="1147" width="6.2" fill="#9f9fff"/>
<rect x="1152.8" width="6.2" fill="#a8a8ff"/>
<rect x="1158.6" width="6.2" fill="#a0a0ff"/>
<rect x="1164.5" width="3.3" fill="#b3b3ff"/>
<rect x="1167.4" width="12" fill="#b1b1ff"/>
<rect x="1179" width="3.3" fill="#5c5cff"/>
<rect x="1181.9" width="9.1" fill="#8080ff"/>
<rect x="1190.6" width="9.1" fill="#d6d6ff"/>
<rect x="1199.3" width="3.3" fill="#adadff"/>
<rect x="1202.2" width="9.1" fill="#f0f0ff"/>
<rect x="1210.9" width="6.2" fill="#cbcbff"/>
<rect x="1216.7" width="14.9" fill="#d9d9ff"/>
<rect x="1231.2" width="14.9" fill="#ebebff"/>
<rect x="1245.7" width="6.2" fill="#ffd9d9"/>
<rect x="1251.5" width="12" fill="#ededff"/>
<rect x="1263.1" width="3.3" fill="#fbfbff"/>
<rect x="1266" width="9.1" fill="#c3c3ff"/>
<rect x="1274.7" width="12" fill="#d2d2ff"/>
<rect x="1286.3" width="14.9" fill="#d8d8ff"/>
<rect x="1300.9" width="12" fill="#d3d3ff"/>
<rect x="1312.5" width="6.2" fill="#ffd0d0"/>
<rect x="1318.3" width="12" fill="#ffc8c8"/>
<rect x="1329.9" width="6.2" fill="#fff8f8"/>
<rect x="1335.7" width="6.2" fill="#fefeff"/>
<rect x="1341.5" width="6.2" fill="#ffcfcf"/>
<rect x="1347.3" width="14.9" fill="#e5e5ff"/>
<rect x="1361.8" width="9.1" fill="#ddf"/>
<rect x="1370.5" width="6.2" fill="#e7e7ff"/>
<rect x="1376.3" width="6.2" fill="#fff9f9"/>
<rect x="1382.1" width="3.3" fill="#c3c3ff"/>
<rect x="1385" width="6.2" fill="#dcdcff"/>
<rect x="1390.8" width="9.1" fill="#c8c8ff"/>
<rect x="1399.5" width="6.2" fill="#fff3f3"/>
<rect x="1405.3" width="6.2" fill="#c6c6ff"/>
<rect x="1411.1" width="9.1" fill="#c9c9ff"/>
<rect x="1419.8" width="3.3" fill="#ddf"/>
<rect x="1422.7" width="6.2" fill="#d6d6ff"/>
<rect x="1428.5" width="3.3" fill="#eef"/>
<rect x="1431.5" width="3.3" fill="#99f"/>
<rect x="1434.4" width="6.2" fill="#f1f1ff"/>
<rect x="1440.2" width="14.9" fill="#f4f4ff"/>
<rect x="1454.7" width="3.3" fill="#e2e2ff"/>
<rect x="1457.6" width="6.2" fill="#e3e3ff"/>
<rect x="1463.4" width="3.3" fill="#ffe3e3"/>
<rect x="1466.3" width="6.2" fill="#fffefe"/>
<rect x="1472.1" width="9.1" fill="#c5c5ff"/>
<rect x="1480.8" width="6.2" fill="#c0c0ff"/>
<rect x="1486.6" width="6.2" fill="#adadff"/>
<rect x="1492.4" width="3.3" fill="#c1c1ff"/>
</g>
<g class="hm" transform="translate(0 873.33)">
<rect x="166.1" width="9.1" fill="#f1f1ff"/>
<rect x="174.8" width="6.2" fill="#fffcfc"/>
<rect x="180.6" width="9.1" fill="#fff6f6"/>
<rect x="189.3" width="6.2" fill="#ff7a7a"/>
<rect x="195.1" width="6.2" fill="#ffb8b8"/>
<rect x="200.9" width="6.2" fill="#f55"/>
<rect x="206.7" width="3.3" fill="#ff9c9c"/>
<rect x="209.6" width="9.1" fill="#ffb4b4"/>
<rect x="218.3" width="6.2" fill="#ff7a7a"/>
<rect x="224.1" width="9.1" fill="#ff6b6b"/>
<rect x="232.9" width="12" fill="#ffc7c7"/>
<rect x="244.5" width="3.3" fill="#ff7676"/>
<rect x="247.4" width="6.2" fill="#ff9a9a"/>
<rect x="253.2" width="6.2" fill="#ffc5c5"/>
<rect x="259" width="12" fill="#ffdbdb"/>
<rect x="270.6" width="14.9" fill="#ffcaca"/>
<rect x="285.1" width="3.3" fill="#ff9797"/>
<rect x="288" width="9.1" fill="#ffe5e5"/>
<rect x="296.7" width="12" fill="#ffc4c4"/>
<rect x="308.3" width="6.2" fill="#ffa8a8"/>
<rect x="314.1" width="14.9" fill="#ffc1c1"/>
<rect x="328.6" width="3.3" fill="#ff7e7e"/>
<rect x="331.5" width="3.3" fill="#ffa5a5"/>
<rect x="334.4" width="6.2" fill="#ff6d6d"/>
<rect x="340.2" width="3.3" fill="#ff4b4b"/>
<rect x="343.1" width="3.3" fill="#ff9090"/>
<rect x="346" width="9.1" fill="#ff5252"/>
<rect x="354.7" width="6.2" fill="#ff5050"/>
<rect x="360.5" width="9.1" fill="#ff5151"/>
<rect x="369.3" width="14.9" fill="#ff3737"/>
<rect x="383.8" width="9.1" fill="#ff9a9a"/>
<rect x="392.5" width="12" fill="#ff9494"/>
<rect x="404.1" width="3.3" fill="#ff8484"/>
<rect x="407" width="6.2" fill="#ffc7c7"/>
<rect x="412.8" width="6.2" fill="#ff7070"/>
<rect x="418.6" width="6.2" fill="#f99"/>
<rect x="424.4" width="9.1" fill="#ff4d4d"/>
<rect x="433.1" width="12" fill="#ff3b3b"/>
<rect x="444.7" width="6.2" fill="#ff4e4e"/>
<rect x="450.5" width="12" fill="#f99"/>
<rect x="462.1" width="6.2" fill="#ff7878"/>
<rect x="467.9" width="9.1" fill="#ffdcdc"/>
<rect x="476.6" width="6.2" fill="#f6f6ff"/>
<rect x="482.4" width="12" fill="#ff3e3e"/>
<rect x="494" width="6.2" fill="#ff5858"/>
<rect x="499.9" width="9.1" fill="#ff6868"/>
<rect x="508.6" width="12" fill="#ff5b5b"/>
<rect x="520.2" width="12" fill="#ffabab"/>
<rect x="531.8" width="9.1" fill="#ff2e2e"/>
<rect x="540.5" width="6.2" fill="#f00"/>
<rect x="546.3" width="3.3" fill="#ff7b7b"/>
<rect x="549.2" width="3.3" fill="#ff4848"/>
<rect x="552.1" width="6.2" fill="#ffc6c6"/>
<rect x="557.9" width="14.9" fill="#ff5454"/>
<rect x="572.4" width="3.3" fill="#ffa5a5"/>
<rect x="575.3" width="3.3" fill="#ff6464"/>
<rect x="578.2" width="6.2" fill="#f55"/>
<rect x="584" width="6.2" fill="#ff9595"/>
<rect x="589.8" width="6.2" fill="#ff8c8c"/>
<rect x="595.6" width="6.2" fill="#ff6868"/>
<rect x="601.4" width="6.2" fill="#ff9b9b"/>
<rect x="607.2" width="6.2" fill="#ff4949"/>
<rect x="613" width="6.2" fill="#ffa2a2"/>
<rect x="618.8" width="3.3" fill="#ffb3b3"/>
<rect x="621.7" width="6.2" fill="#ffe4e4"/>
<rect x="627.5" width="6.2" fill="#ffb5b5"/>
<rect x="633.4" width="3.3" fill="#ff9898"/>
<rect x="636.3" width="12" fill="#ffb6b6"/>
<rect x="647.9" width="3.3" fill="#ffdcdc"/>
<rect x="650.8" width="6.2" fill="#f8f8ff"/>
<rect x="656.6" width="12" fill="#faa"/>
<rect x="668.2" width="12" fill="#ffe7e7"/>
<rect x="679.8" width="6.2" fill="#ffcece"/>
<rect x="685.6" width="12" fill="#fff9f9"/>
<rect x="697.2" width="3.3" fill="#fff9f9"/>
<rect x="700.1" width="6.2" fill="#fff9f9"/>
<rect x="705.9" width="12" fill="#a6a6ff"/>
<rect x="717.5" width="6.2" fill="#aeaeff"/>
<rect x="723.3" width="9.1" fill="#7878ff"/>
<rect x="732" width="3.3" fill="#adadff"/>
<rect x="734.9" width="3.3" fill="#c3c3ff"/>
<rect x="737.8" width="3.3" fill="#77f"/>
<rect x="740.7" width="9.1" fill="#8080ff"/>
<rect x="749.4" width="3.3" fill="#7878ff"/>
<rect x="752.3" width="6.2" fill="#a8a8ff"/>
<rect x="758.1" width="3.3" fill="#c0c0ff"/>
<rect x="761" width="6.2" fill="#e4e4ff"/>
<rect x="766.9" width="9.1" fill="#ececff"/>
<rect x="775.6" width="9.1" fill="#ddf"/>
<rect x="784.3" width="12" fill="#c8c8ff"/>
<rect x="795.9" width="6.2" fill="#9191ff"/>
<rect x="801.7" width="6.2" fill="#a4a4ff"/>
<rect x="807.5" width="14.9" fill="#dbdbff"/>
<rect x="822" width="3.3" fill="#d8d8ff"/>
<rect x="824.9" width="12" fill="#a5a5ff"/>
<rect x="836.5" width="9.1" fill="#8a8aff"/>
<rect x="845.2" width="14.9" fill="#ffcdcd"/>
<rect x="859.7" width="9.1" fill="#ffe9e9"/>
<rect x="868.4" width="3.3" fill="#e0e0ff"/>
<rect x="871.3" width="9.1" fill="#fffdfd"/>
<rect x="880" width="6.2" fill="#fdd"/>
<rect x="885.8" width="3.3" fill="#f4f4ff"/>
<rect x="888.7" width="14.9" fill="#e9e9ff"/>
<rect x="903.3" width="9.1" fill="#e9e9ff"/>
<rect x="912" width="6.2" fill="#eaeaff"/>
<rect x="917.8" width="3.3" fill="#cfcfff"/>
<rect x="920.7" width="12" fill="#8181ff"/>
<rect x="932.3" width="3.3" fill="#9797ff"/>
<rect x="935.2" width="9.1" fill="#4747ff"/>
<rect x="943.9" width="6.2" fill="#6d6dff"/>
<rect x="949.7" width="3.3" fill="#6c6cff"/>
<rect x="952.6" width="6.2" fill="#d1d1ff"/>
<rect x="958.4" width="6.2" fill="#a6a6ff"/>
<rect x="964.2" width="3.3" fill="#66f"/>
<rect x="967.1" width="9.1" fill="#4e4eff"/>
<rect x="975.8" width="3.3" fill="#c1c1ff"/>
<rect x="978.7" width="9.1" fill="#6d6dff"/>
<rect x="987.4" width="6.2" fill="#8686ff"/>
<rect x="993.2" width="6.2" fill="#4c4cff"/>
<rect x="999" width="6.2" fill="#77f"/>
<rect x="1004.8" width="3.3" fill="#7e7eff"/>
<rect x="1007.7" width="9.1" fill="#6969ff"/>
<rect x="1016.4" width="3.3" fill="#9e9eff"/>
<rect x="1019.3" width="12" fill="#a9a9ff"/>
<rect x="1031" width="3.3" fill="#a6a6ff"/>
<rect x="1033.9" width="9.1" fill="#5050ff"/>
<rect x="1042.6" width="12" fill="#6f6fff"/>
<rect x="1054.2" width="3.3" fill="#c5c5ff"/>
<rect x="1057.1" width="6.2" fill="#a7a7ff"/>
<rect x="1062.9" width="12" fill="#acacff"/>
<rect x="1074.5" width="3.3" fill="#7575ff"/>
<rect x="1077.4" width="12" fill="#b6b6ff"/>
<rect x="1089" width="3.3" fill="#c8c8ff"/>
<rect x="1091.9" width="9.1" fill="#ececff"/>
<rect x="1100.6" width="3.3" fill="#aaf"/>
<rect x="1103.5" width="3.3" fill="#a4a4ff"/>
<rect x="1106.4" width="12" fill="#adadff"/>
<rect x="1118" width="3.3" fill="#9191ff"/>
<rect x="1120.9" width="12" fill="#adadff"/>
<rect x="1132.5" width="6.2" fill="#8181ff"/>
<rect x="1138.3" width="6.2" fill="#4e4eff"/>
<rect x="1144.1" width="3.3" fill="#5151ff"/>
<rect x="1147" width="12" fill="#b2b2ff"/>
<rect x="1158.6" width="12" fill="#5353ff"/>
<rect x="1170.3" width="3.3" fill="#4d4dff"/>
<rect x="1173.2" width="3.3" fill="#9b9bff"/>
<rect x="1176.1" width="3.3" fill="#9a9aff"/>
<rect x="1179" width="9.1" fill="#8080ff"/>
<rect x="1187.7" width="6.2" fill="#d6d6ff"/>
<rect x="1193.5" width="12" fill="#7d7dff"/>
<rect x="1205.1" width="12" fill="#8383ff"/>
<rect x="1216.7" width="12" fill="#9c9cff"/>
<rect x="1228.3" width="3.3" fill="#9292ff"/>
<rect x="1231.2" width="9.1" fill="#bcbcff"/>
<rect x="1239.9" width="9.1" fill="#5252ff"/>
<rect x="1248.6" width="12" fill="#0c0cff"/>
<rect x="1260.2" width="6.2" fill="#9b9bff"/>
<rect x="1266" width="9.1" fill="#88f"/>
<rect x="1274.7" width="9.1" fill="#9b9bff"/>
<rect x="1283.4" width="3.3" fill="#bbf"/>
<rect x="1286.3" width="6.2" fill="#9a9aff"/>
<rect x="1292.1" width="9.1" fill="#f2f2ff"/>
<rect x="1300.9" width="9.1" fill="#d5d5ff"/>
<rect x="1309.6" width="9.1" fill="#9090ff"/>
<rect x="1318.3" width="12" fill="#9f9fff"/>
<rect x="1329.9" width="6.2" fill="#c0c0ff"/>
<rect x="1335.7" width="6.2" fill="#afafff"/>
<rect x="1341.5" width="9.1" fill="#f8f8ff"/>
<rect x="1350.2" width="3.3" fill="#ffefef"/>
<rect x="1353.1" width="6.2" fill="#f8f8ff"/>
<rect x="1358.9" width="6.2" fill="#b1b1ff"/>
<rect x="1364.7" width="6.2" fill="#ffdede"/>
<rect x="1370.5" width="14.9" fill="#c4c4ff"/>
<rect x="1385" width="12" fill="#9c9cff"/>
<rect x="1396.6" width="14.9" fill="#cdcdff"/>
<rect x="1411.1" width="12" fill="#d3d3ff"/>
<rect x="1422.7" width="6.2" fill="#c5c5ff"/>
<rect x="1428.5" width="6.2" fill="#bfbfff"/>
<rect x="1434.4" width="12" fill="#c7c7ff"/>
<rect x="1446" width="6.2" fill="#ffe4e4"/>
<rect x="1451.8" width="3.3" fill="#ededff"/>
<rect x="1454.7" width="9.1" fill="#f2f2ff"/>
<rect x="1463.4" width="9.1" fill="#fcfcff"/>
<rect x="1472.1" width="3.3" fill="#dedeff"/>
<rect x="1475" width="6.2" fill="#fbfbff"/>
<rect x="1480.8" width="14.9" fill="#babaff"/>
</g>
<g class="hm" transform="translate(0 925.07)">
<rect x="166.1" width="6.2" fill="#ff8a8a"/>
<rect x="171.9" width="6.2" fill="#ffafaf"/>
<rect x="177.7" width="6.2" fill="#ffa2a2"/>
<rect x="183.5" width="9.1" fill="#ffcece"/>
<rect x="192.2" width="14.9" fill="#ffb7b7"/>
<rect x="206.7" width="6.2" fill="#ff9b9b"/>
<rect x="212.5" width="12" fill="#ff4343"/>
<rect x="224.1" width="9.1" fill="#ff6464"/>
<rect x="232.9" width="12" fill="#ff9f9f"/>
<rect x="244.5" width="3.3" fill="#ff5f5f"/>
<rect x="247.4" width="9.1" fill="#ff5252"/>
<rect x="256.1" width="6.2" fill="#ff7272"/>
<rect x="261.9" width="3.3" fill="#ff5a5a"/>
<rect x="264.8" width="6.2" fill="#ff3838"/>
<rect x="270.6" width="12" fill="#ff5f5f"/>
<rect x="282.2" width="6.2" fill="#ffa6a6"/>
<rect x="288" width="9.1" fill="#ff6161"/>
<rect x="296.7" width="3.3" fill="#f66"/>
<rect x="299.6" width="6.2" fill="#ffb4b4"/>
<rect x="305.4" width="6.2" fill="#ff7878"/>
<rect x="311.2" width="6.2" fill="#ffacac"/>
<rect x="317" width="9.1" fill="#ff8080"/>
<rect x="325.7" width="14.9" fill="#ffd3d3"/>
<rect x="340.2" width="9.1" fill="#ffbfbf"/>
<rect x="348.9" width="3.3" fill="#fee"/>
<rect x="351.8" width="9.1" fill="#ff9b9b"/>
<rect x="360.5" width="3.3" fill="#ffe6e6"/>
<rect x="363.4" width="6.2" fill="#ffd7d7"/>
<rect x="369.3" width="3.3" fill="#ff9a9a"/>
<rect x="372.2" width="14.9" fill="#ffb0b0"/>
<rect x="386.7" width="6.2" fill="#ff6969"/>
<rect x="392.5" width="9.1" fill="#ff3434"/>
<rect x="401.2" width="6.2" fill="#ff9090"/>
<rect x="407" width="6.2" fill="#ff5050"/>
<rect x="412.8" width="9.1" fill="#ff4f4f"/>
<rect x="421.5" width="3.3" fill="#f00"/>
<rect x="424.4" width="3.3" fill="#ff8989"/>
<rect x="427.3" width="6.2" fill="#ff3b3b"/>
<rect x="433.1" width="12" fill="#fcc"/>
<rect x="444.7" width="3.3" fill="#ff7c7c"/>
<rect x="447.6" width="3.3" fill="#ff8484"/>
<rect x="450.5" width="6.2" fill="#ffa8a8"/>
<rect x="456.3" width="12" fill="#ffb8b8"/>
<rect x="467.9" width="3.3" fill="#ffc0c0"/>
<rect x="470.8" width="9.1" fill="#ff9292"/>
<rect x="479.5" width="3.3" fill="#fcc"/>
<rect x="482.4" width="12" fill="#ffc1c1"/>
<rect x="494" width="6.2" fill="#ffbebe"/>
<rect x="499.9" width="3.3" fill="#e7e7ff"/>
<rect x="502.8" width="12" fill="#ff7979"/>
<rect x="514.4" width="3.3" fill="#ff8484"/>
<rect x="517.3" width="6.2" fill="#ff5050"/>
<rect x="523.1" width="9.1" fill="#ff7f7f"/>
<rect x="531.8" width="6.2" fill="#ff6c6c"/>
<rect x="537.6" width="9.1" fill="#ffebeb"/>
<rect x="546.3" width="3.3" fill="#ff9f9f"/>
<rect x="549.2" width="9.1" fill="#f99"/>
<rect x="557.9" width="9.1" fill="#ff5c5c"/>
<rect x="566.6" width="9.1" fill="#ff9d9d"/>
<rect x="575.3" width="6.2" fill="#ff8080"/>
<rect x="581.1" width="6.2" fill="#ff4141"/>
<rect x="586.9" width="12" fill="#ff7474"/>
<rect x="598.5" width="6.2" fill="#ff9f9f"/>
<rect x="604.3" width="6.2" fill="#ffb4b4"/>
<rect x="610.1" width="3.3" fill="#ff8a8a"/>
<rect x="613" width="6.2" fill="#ffb9b9"/>
<rect x="618.8" width="6.2" fill="#ffb0b0"/>
<rect x="624.6" width="6.2" fill="#ffc8c8"/>
<rect x="630.4" width="12" fill="#ffa4a4"/>
<rect x="642.1" width="3.3" fill="#ffeded"/>
<rect x="645" width="6.2" fill="#d8d8ff"/>
<rect x="650.8" width="14.9" fill="#9393ff"/>
<rect x="665.3" width="6.2" fill="#c0c0ff"/>
<rect x="671.1" width="6.2" fill="#e6e6ff"/>
<rect x="676.9" width="6.2" fill="#b8b8ff"/>
<rect x="682.7" width="6.2" fill="#ceceff"/>
<rect x="688.5" width="6.2" fill="#b8b8ff"/>
<rect x="694.3" width="9.1" fill="#c9c9ff"/>
<rect x="703" width="6.2" fill="#b8b8ff"/>
<rect x="708.8" width="6.2" fill="#c6c6ff"/>
<rect x="714.6" width="14.9" fill="#bebeff"/>
<rect x="729.1" width="9.1" fill="#9393ff"/>
<rect x="737.8" width="14.9" fill="#b0b0ff"/>
<rect x="752.3" width="6.2" fill="#c3c3ff"/>
<rect x="758.1" width="9.1" fill="#d8d8ff"/>
<rect x="766.9" width="6.2" fill="#aeaeff"/>
<rect x="772.7" width="6.2" fill="#cacaff"/>
<rect x="778.5" width="14.9" fill="#c7c7ff"/>
<rect x="793" width="6.2" fill="#8686ff"/>
<rect x="798.8" width="3.3" fill="#e3e3ff"/>
<rect x="801.7" width="12" fill="#6e6eff"/>
<rect x="813.3" width="6.2" fill="#bcbcff"/>
<rect x="819.1" width="6.2" fill="#c5c5ff"/>
<rect x="824.9" width="6.2" fill="#bebeff"/>
<rect x="830.7" width="14.9" fill="#ccf"/>
<rect x="845.2" width="9.1" fill="#ececff"/>
<rect x="853.9" width="14.9" fill="#7a7aff"/>
<rect x="868.4" width="9.1" fill="#a2a2ff"/>
<rect x="877.1" width="12" fill="#fff7f7"/>
<rect x="888.7" width="3.3" fill="#ffe4e4"/>
<rect x="891.6" width="12" fill="#d4d4ff"/>
<rect x="903.3" width="6.2" fill="#dfdfff"/>
<rect x="909.1" width="6.2" fill="#b8b8ff"/>
<rect x="914.9" width="9.1" fill="#ffebeb"/>
<rect x="923.6" width="3.3" fill="#fdfdff"/>
<rect x="926.5" width="9.1" fill="#d0d0ff"/>
<rect x="935.2" width="14.9" fill="#d2d2ff"/>
<rect x="949.7" width="3.3" fill="#eaeaff"/>
<rect x="952.6" width="9.1" fill="#e7e7ff"/>
<rect x="961.3" width="9.1" fill="#8b8bff"/>
<rect x="970" width="6.2" fill="#b7b7ff"/>
<rect x="975.8" width="3.3" fill="#fff"/>
<rect x="978.7" width="14.9" fill="#d5d5ff"/>
<rect x="993.2" width="3.3" fill="#ccf"/>
<rect x="996.1" width="3.3" fill="#ebebff"/>
<rect x="999" width="6.2" fill="#fff6f6"/>
<rect x="1004.8" width="6.2" fill="#e8e8ff"/>
<rect x="1010.6" width="6.2" fill="#eaeaff"/>
<rect x="1016.4" width="3.3" fill="#dcdcff"/>
<rect x="1019.3" width="3.3" fill="#f9f9ff"/>
<rect x="1022.2" width="6.2" fill="#ebebff"/>
<rect x="1028" width="6.2" fill="#fff"/>
<rect x="1033.9" width="12" fill="#eaeaff"/>
<rect x="1045.5" width="14.9" fill="#e8e8ff"/>
<rect x="1060" width="9.1" fill="#fff5f5"/>
<rect x="1068.7" width="3.3" fill="#e3e3ff"/>
<rect x="1071.6" width="3.3" fill="#dcdcff"/>
<rect x="1074.5" width="12" fill="#a0a0ff"/>
<rect x="1086.1" width="6.2" fill="#b4b4ff"/>
<rect x="1091.9" width="3.3" fill="#cfcfff"/>
<rect x="1094.8" width="6.2" fill="#cdcdff"/>
<rect x="1100.6" width="14.9" fill="#8282ff"/>
<rect x="1115.1" width="6.2" fill="#9797ff"/>
<rect x="1120.9" width="12" fill="#c6c6ff"/>
<rect x="1132.5" width="3.3" fill="#b7b7ff"/>
<rect x="1135.4" width="9.1" fill="#bbf"/>
<rect x="1144.1" width="14.9" fill="#9f9fff"/>
<rect x="1158.6" width="3.3" fill="#8989ff"/>
<rect x="1161.5" width="9.1" fill="#fffefe"/>
<rect x="1170.3" width="9.1" fill="#8989ff"/>
<rect x="1179" width="9.1" fill="#e8e8ff"/>
<rect x="1187.7" width="9.1" fill="#e0e0ff"/>
<rect x="1196.4" width="3.3" fill="#9696ff"/>
<rect x="1199.3" width="9.1" fill="#8383ff"/>
<rect x="1208" width="9.1" fill="#cfcfff"/>
<rect x="1216.7" width="6.2" fill="#ececff"/>
<rect x="1222.5" width="3.3" fill="#9898ff"/>
<rect x="1225.4" width="9.1" fill="#d2d2ff"/>
<rect x="1234.1" width="9.1" fill="#d4d4ff"/>
<rect x="1242.8" width="9.1" fill="#e8e8ff"/>
<rect x="1251.5" width="6.2" fill="#fff5f5"/>
<rect x="1257.3" width="6.2" fill="#bebeff"/>
<rect x="1263.1" width="12" fill="#fff0f0"/>
<rect x="1274.7" width="3.3" fill="#ffe8e8"/>
<rect x="1277.6" width="3.3" fill="#c4c4ff"/>
<rect x="1280.5" width="3.3" fill="#ffe3e3"/>
<rect x="1283.4" width="6.2" fill="#e9e9ff"/>
<rect x="1289.2" width="14.9" fill="#ffe2e2"/>
<rect x="1303.8" width="3.3" fill="#fee"/>
<rect x="1306.7" width="6.2" fill="#fff3f3"/>
<rect x="1312.5" width="6.2" fill="#f6f6ff"/>
<rect x="1318.3" width="3.3" fill="#ececff"/>
<rect x="1321.2" width="6.2" fill="#fff1f1"/>
<rect x="1327" width="3.3" fill="#ffc1c1"/>
<rect x="1329.9" width="14.9" fill="#fff9f9"/>
<rect x="1344.4" width="6.2" fill="#fff3f3"/>
<rect x="1350.2" width="6.2" fill="#f7f7ff"/>
<rect x="1356" width="12" fill="#d9d9ff"/>
<rect x="1367.6" width="6.2" fill="#d9d9ff"/>
<rect x="1373.4" width="9.1" fill="#b3b3ff"/>
<rect x="1382.1" width="3.3" fill="#bfbfff"/>
<rect x="1385" width="14.9" fill="#c3c3ff"/>
<rect x="1399.5" width="6.2" fill="#e6e6ff"/>
<rect x="1405.3" width="9.1" fill="#c5c5ff"/>
<rect x="1414" width="12" fill="#ececff"/>
<rect x="1425.6" width="14.9" fill="#bfbfff"/>
<rect x="1440.2" width="6.2" fill="#f2f2ff"/>
<rect x="1446" width="3.3" fill="#d8d8ff"/>
<rect x="1448.9" width="14.9" fill="#fdfdff"/>
<rect x="1463.4" width="14.9" fill="#d7d7ff"/>
<rect x="1477.9" width="3.3" fill="#ffd6d6"/>
<rect x="1480.8" width="9.1" fill="#ffc9c9"/>
<rect x="1489.5" width="6.2" fill="#ffb0b0"/>
</g>
<g class="hm" transform="translate(0 976.8)">
<rect x="166.1" width="14.9" fill="#6363ff"/>
<rect x="180.6" width="6.2" fill="#9292ff"/>
<rect x="186.4" width="6.2" fill="#8282ff"/>
<rect x="192.2" width="14.9" fill="#8383ff"/>
<rect x="206.7" width="3.3" fill="#6060ff"/>
<rect x="209.6" width="3.3" fill="#6767ff"/>
<rect x="212.5" width="14.9" fill="#5c5cff"/>
<rect x="227" width="3.3" fill="#9e9eff"/>
<rect x="229.9" width="14.9" fill="#d8d8ff"/>
<rect x="244.5" width="6.2" fill="#ffc6c6"/>
<rect x="250.3" width="9.1" fill="#d1d1ff"/>
<rect x="259" width="6.2" fill="#e0e0ff"/>
<rect x="264.8" width="6.2" fill="#d2d2ff"/>
<rect x="270.6" width="12" fill="#9797ff"/>
<rect x="282.2" width="6.2" fill="#ccf"/>
<rect x="288" width="6.2" fill="#8787ff"/>
<rect x="293.8" width="9.1" fill="#c2c2ff"/>
<rect x="302.5" width="14.9" fill="#b0b0ff"/>
<rect x="317" width="3.3" fill="#5252ff"/>
<rect x="319.9" width="6.2" fill="#b6b6ff"/>
<rect x="325.7" width="9.1" fill="#f7f7ff"/>
<rect x="334.4" width="3.3" fill="#dedeff"/>
<rect x="337.3" width="9.1" fill="#ffefef"/>
<rect x="346" width="6.2" fill="#c1c1ff"/>
<rect x="351.8" width="9.1" fill="#d0d0ff"/>
<rect x="360.5" width="14.9" fill="#f9f9ff"/>
<rect x="375.1" width="9.1" fill="#bdbdff"/>
<rect x="383.8" width="12" fill="#bfbfff"/>
<rect x="395.4" width="9.1" fill="#b7b7ff"/>
<rect x="404.1" width="6.2" fill="#d4d4ff"/>
<rect x="409.9" width="6.2" fill="#9898ff"/>
<rect x="415.7" width="6.2" fill="#b5b5ff"/>
<rect x="421.5" width="3.3" fill="#b5b5ff"/>
<rect x="424.4" width="6.2" fill="#8686ff"/>
<rect x="430.2" width="9.1" fill="#adadff"/>
<rect x="438.9" width="3.3" fill="#c3c3ff"/>
<rect x="441.8" width="3.3" fill="#cbcbff"/>
<rect x="444.7" width="12" fill="#a8a8ff"/>
<rect x="456.3" width="6.2" fill="#a9a9ff"/>
<rect x="462.1" width="14.9" fill="#0a0aff"/>
<rect x="476.6" width="9.1" fill="#4141ff"/>
<rect x="485.3" width="9.1" fill="#7a7aff"/>
<rect x="494" width="9.1" fill="#7373ff"/>
<rect x="502.8" width="9.1" fill="#9595ff"/>
<rect x="511.5" width="12" fill="#d3d3ff"/>
<rect x="523.1" width="14.9" fill="#aeaeff"/>
<rect x="537.6" width="6.2" fill="#e8e8ff"/>
<rect x="543.4" width="9.1" fill="#dedeff"/>
<rect x="552.1" width="14.9" fill="#d2d2ff"/>
<rect x="566.6" width="6.2" fill="#b6b6ff"/>
<rect x="572.4" width="9.1" fill="#7676ff"/>
<rect x="581.1" width="9.1" fill="#9d9dff"/>
<rect x="589.8" width="14.9" fill="#a6a6ff"/>
<rect x="604.3" width="9.1" fill="#a2a2ff"/>
<rect x="613" width="9.1" fill="#b7b7ff"/>
<rect x="621.7" width="6.2" fill="#fcfcff"/>
<rect x="627.5" width="14.9" fill="#fff7f7"/>
<rect x="642.1" width="6.2" fill="#ff6a6a"/>
<rect x="647.9" width="9.1" fill="#ff4b4b"/>
<rect x="656.6" width="9.1" fill="#ffeded"/>
<rect x="665.3" width="6.2" fill="#fcc"/>
<rect x="671.1" width="6.2" fill="#ff8c8c"/>
<rect x="676.9" width="14.9" fill="#ff5d5d"/>
<rect x="691.4" width="3.3" fill="#ff8585"/>
<rect x="694.3" width="3.3" fill="#ffbebe"/>
<rect x="697.2" width="3.3" fill="#ff3636"/>
<rect x="700.1" width="9.1" fill="#ff6363"/>
<rect x="708.8" width="14.9" fill="#ffbaba"/>
<rect x="723.3" width="3.3" fill="#ff9f9f"/>
<rect x="726.2" width="3.3" fill="#ffd2d2"/>
<rect x="729.1" width="3.3" fill="#ffcbcb"/>
<rect x="732" width="12" fill="#ffcbcb"/>
<rect x="743.6" width="14.9" fill="#fff9f9"/>
<rect x="758.1" width="14.9" fill="#ffdede"/>
<rect x="772.7" width="14.9" fill="#ffa0a0"/>
<rect x="787.2" width="9.1" fill="#ffe6e6"/>
<rect x="795.9" width="3.3" fill="#ffcdcd"/>
<rect x="798.8" width="14.9" fill="#ffc6c6"/>
<rect x="813.3" width="3.3" fill="#ffd9d9"/>
<rect x="816.2" width="14.9" fill="#ffe2e2"/>
<rect x="830.7" width="12" fill="#ffc4c4"/>
<rect x="842.3" width="3.3" fill="#fbfbff"/>
<rect x="845.2" width="3.3" fill="#ffecec"/>
<rect x="848.1" width="6.2" fill="#f5f5ff"/>
<rect x="853.9" width="6.2" fill="#fff2f2"/>
<rect x="859.7" width="6.2" fill="#ffd6d6"/>
<rect x="865.5" width="3.3" fill="#ffb3b3"/>
<rect x="868.4" width="3.3" fill="#e0e0ff"/>
<rect x="871.3" width="9.1" fill="#ffb5b5"/>
<rect x="880" width="3.3" fill="#ff8f8f"/>
<rect x="882.9" width="3.3" fill="#ffb8b8"/>
<rect x="885.8" width="3.3" fill="#ff9b9b"/>
<rect x="888.7" width="12" fill="#ffa6a6"/>
<rect x="900.4" width="6.2" fill="#ffb6b6"/>
<rect x="906.2" width="3.3" fill="#ffa5a5"/>
<rect x="909.1" width="6.2" fill="#ff9696"/>
<rect x="914.9" width="9.1" fill="#ff5151"/>
<rect x="923.6" width="12" fill="#ff7c7c"/>
<rect x="935.2" width="6.2" fill="#ff9e9e"/>
<rect x="941" width="12" fill="#ff8a8a"/>
<rect x="952.6" width="3.3" fill="#ff9797"/>
<rect x="955.5" width="6.2" fill="#ff7171"/>
<rect x="961.3" width="9.1" fill="#ffbebe"/>
<rect x="970" width="12" fill="#ff5b5b"/>
<rect x="981.6" width="3.3" fill="#ff9e9e"/>
<rect x="984.5" width="6.2" fill="#ffb8b8"/>
<rect x="990.3" width="6.2" fill="#ff9d9d"/>
<rect x="996.1" width="6.2" fill="#f77"/>
<rect x="1001.9" width="9.1" fill="#ff9f9f"/>
<rect x="1010.6" width="14.9" fill="#ffa1a1"/>
<rect x="1025.1" width="9.1" fill="#ffb8b8"/>
<rect x="1033.9" width="3.3" fill="#ff8282"/>
<rect x="1036.8" width="9.1" fill="#ffb0b0"/>
<rect x="1045.5" width="6.2" fill="#ffdede"/>
<rect x="1051.3" width="9.1" fill="#ffc7c7"/>
<rect x="1060" width="6.2" fill="#ffdada"/>
<rect x="1065.8" width="9.1" fill="#ffc5c5"/>
<rect x="1074.5" width="9.1" fill="#ffdede"/>
<rect x="1083.2" width="6.2" fill="#ffd8d8"/>
<rect x="1089" width="6.2" fill="#ffc7c7"/>
<rect x="1094.8" width="6.2" fill="#ebebff"/>
<rect x="1100.6" width="14.9" fill="#fcfcff"/>
<rect x="1115.1" width="12" fill="#d5d5ff"/>
<rect x="1126.7" width="6.2" fill="#ffdbdb"/>
<rect x="1132.5" width="6.2" fill="#fff5f5"/>
<rect x="1138.3" width="9.1" fill="#ffd5d5"/>
<rect x="1147" width="9.1" fill="#fff2f2"/>
<rect x="1155.7" width="6.2" fill="#fee"/>
<rect x="1161.5" width="12" fill="#ffe6e6"/>
<rect x="1173.2" width="12" fill="#ffb3b3"/>
<rect x="1184.8" width="6.2" fill="#ff4a4a"/>
<rect x="1190.6" width="12" fill="#ff9a9a"/>
<rect x="1202.2" width="9.1" fill="#ff6565"/>
<rect x="1210.9" width="14.9" fill="#ff5252"/>
<rect x="1225.4" width="6.2" fill="#f44"/>
<rect x="1231.2" width="14.9" fill="#ff4949"/>
<rect x="1245.7" width="3.3" fill="#ffb8b8"/>
<rect x="1248.6" width="9.1" fill="#ffa2a2"/>
<rect x="1257.3" width="3.3" fill="#ffb6b6"/>
<rect x="1260.2" width="6.2" fill="#ffcece"/>
<rect x="1266" width="3.3" fill="#ffbcbc"/>
<rect x="1268.9" width="6.2" fill="#ffa8a8"/>
<rect x="1274.7" width="6.2" fill="#ffcbcb"/>
<rect x="1280.5" width="3.3" fill="#ff8080"/>
<rect x="1283.4" width="3.3" fill="#ffcece"/>
<rect x="1286.3" width="14.9" fill="#ffa8a8"/>
<rect x="1300.9" width="6.2" fill="#ff8282"/>
<rect x="1306.7" width="3.3" fill="#ff5c5c"/>
<rect x="1309.6" width="6.2" fill="#ffabab"/>
<rect x="1315.4" width="9.1" fill="#ff5252"/>
<rect x="1324.1" width="6.2" fill="#ffcaca"/>
<rect x="1329.9" width="12" fill="#ff9595"/>
<rect x="1341.5" width="6.2" fill="#ffc5c5"/>
<rect x="1347.3" width="9.1" fill="#ffe1e1"/>
<rect x="1356" width="9.1" fill="#ffd3d3"/>
<rect x="1364.7" width="12" fill="#fdd"/>
<rect x="1376.3" width="6.2" fill="#ffafaf"/>
<rect x="1382.1" width="3.3" fill="#fcc"/>
<rect x="1385" width="6.2" fill="#ffd3d3"/>
<rect x="1390.8" width="6.2" fill="#ffb1b1"/>
<rect x="1396.6" width="3.3" fill="#fff1f1"/>
<rect x="1399.5" width="9.1" fill="#ff8a8a"/>
<rect x="1408.2" width="6.2" fill="#ff9898"/>
<rect x="1414" width="3.3" fill="#ffb1b1"/>
<rect x="1416.9" width="14.9" fill="#ffb9b9"/>
<rect x="1431.5" width="6.2" fill="#ff8080"/>
<rect x="1437.3" width="6.2" fill="#ffe9e9"/>
<rect x="1443.1" width="6.2" fill="#ffd6d6"/>
<rect x="1448.9" width="9.1" fill="#fee"/>
<rect x="1457.6" width="3.3" fill="#fefeff"/>
<rect x="1460.5" width="3.3" fill="#fbb"/>
<rect x="1463.4" width="6.2" fill="#f2f2ff"/>
<rect x="1469.2" width="3.3" fill="#ffcaca"/>
<rect x="1472.1" width="3.3" fill="#ececff"/>
<rect x="1475" width="6.2" fill="#fbfbff"/>
<rect x="1480.8" width="9.1" fill="#f7f7ff"/>
<rect x="1489.5" width="6.2" fill="#fffafa"/>
</g>
<g class="hm" transform="translate(0 1028.53)">
<rect x="166.1" width="3.3" fill="#9e9eff"/>
<rect x="169" width="9.1" fill="#b3b3ff"/>
<rect x="177.7" width="6.2" fill="#9d9dff"/>
<rect x="183.5" width="6.2" fill="#a6a6ff"/>
<rect x="189.3" width="9.1" fill="#e0e0ff"/>
<rect x="198" width="12" fill="#ffebeb"/>
<rect x="209.6" width="12" fill="#a1a1ff"/>
<rect x="221.2" width="14.9" fill="#eaeaff"/>
<rect x="235.8" width="9.1" fill="#c6c6ff"/>
<rect x="244.5" width="14.9" fill="#d8d8ff"/>
<rect x="259" width="12" fill="#6e6eff"/>
<rect x="270.6" width="6.2" fill="#e1e1ff"/>
<rect x="276.4" width="14.9" fill="#b6b6ff"/>
<rect x="290.9" width="6.2" fill="#b1b1ff"/>
<rect x="296.7" width="6.2" fill="#bbf"/>
<rect x="302.5" width="14.9" fill="#b9b9ff"/>
<rect x="317" width="6.2" fill="#ffe0e0"/>
<rect x="322.8" width="9.1" fill="#afafff"/>
<rect x="331.5" width="6.2" fill="#c0c0ff"/>
<rect x="337.3" width="6.2" fill="#dadaff"/>
<rect x="343.1" width="12" fill="#dcdcff"/>
<rect x="354.7" width="6.2" fill="#a5a5ff"/>
<rect x="360.5" width="12" fill="#a2a2ff"/>
<rect x="372.2" width="6.2" fill="#b2b2ff"/>
<rect x="378" width="6.2" fill="#7d7dff"/>
<rect x="383.8" width="6.2" fill="#9e9eff"/>
<rect x="389.6" width="6.2" fill="#5c5cff"/>
<rect x="395.4" width="9.1" fill="#5050ff"/>
<rect x="404.1" width="9.1" fill="#5050ff"/>
<rect x="412.8" width="6.2" fill="#6262ff"/>
<rect x="418.6" width="12" fill="#5c5cff"/>
<rect x="430.2" width="9.1" fill="#8282ff"/>
<rect x="438.9" width="6.2" fill="#6d6dff"/>
<rect x="444.7" width="3.3" fill="#6d6dff"/>
<rect x="447.6" width="3.3" fill="#9696ff"/>
<rect x="450.5" width="6.2" fill="#7979ff"/>
<rect x="456.3" width="6.2" fill="#adadff"/>
<rect x="462.1" width="12" fill="#c9c9ff"/>
<rect x="473.7" width="12" fill="#b9b9ff"/>
<rect x="485.3" width="12" fill="#cdcdff"/>
<rect x="496.9" width="14.9" fill="#c4c4ff"/>
<rect x="511.5" width="3.3" fill="#dcdcff"/>
<rect x="514.4" width="12" fill="#bfbfff"/>
<rect x="526" width="3.3" fill="#b7b7ff"/>
<rect x="528.9" width="6.2" fill="#9d9dff"/>
<rect x="534.7" width="3.3" fill="#8787ff"/>
<rect x="537.6" width="12" fill="#7676ff"/>
<rect x="549.2" width="6.2" fill="#c6c6ff"/>
<rect x="555" width="9.1" fill="#a0a0ff"/>
<rect x="563.7" width="3.3" fill="#9f9fff"/>
<rect x="566.6" width="6.2" fill="#9696ff"/>
<rect x="572.4" width="6.2" fill="#e0e0ff"/>
<rect x="578.2" width="3.3" fill="#b9b9ff"/>
<rect x="581.1" width="9.1" fill="#ababff"/>
<rect x="589.8" width="6.2" fill="#7f7fff"/>
<rect x="595.6" width="14.9" fill="#fee"/>
<rect x="610.1" width="6.2" fill="#a7a7ff"/>
<rect x="615.9" width="3.3" fill="#fffefe"/>
<rect x="618.8" width="9.1" fill="#dedeff"/>
<rect x="627.5" width="9.1" fill="#ffbfbf"/>
<rect x="636.3" width="9.1" fill="#ff9393"/>
<rect x="645" width="6.2" fill="#ffd3d3"/>
<rect x="650.8" width="9.1" fill="#ff8f8f"/>
<rect x="659.5" width="6.2" fill="#ffafaf"/>
<rect x="665.3" width="9.1" fill="#ff9090"/>
<rect x="674" width="3.3" fill="#ff6c6c"/>
<rect x="676.9" width="12" fill="#ffa9a9"/>
<rect x="688.5" width="6.2" fill="#ff5151"/>
<rect x="694.3" width="3.3" fill="#ff8181"/>
<rect x="697.2" width="6.2" fill="#ff8989"/>
<rect x="703" width="12" fill="#ffa1a1"/>
<rect x="714.6" width="9.1" fill="#ffb6b6"/>
<rect x="723.3" width="12" fill="#ffbaba"/>
<rect x="734.9" width="12" fill="#faa"/>
<rect x="746.5" width="3.3" fill="#f88"/>
<rect x="749.4" width="3.3" fill="#ff9898"/>
<rect x="752.3" width="14.9" fill="#fffcfc"/>
<rect x="766.9" width="9.1" fill="#ffb6b6"/>
<rect x="775.6" width="3.3" fill="#ffb4b4"/>
<rect x="778.5" width="14.9" fill="#ffd2d2"/>
<rect x="793" width="3.3" fill="#f4f4ff"/>
<rect x="795.9" width="12" fill="#ff6363"/>
<rect x="807.5" width="6.2" fill="#ffbaba"/>
<rect x="813.3" width="6.2" fill="#ffc2c2"/>
<rect x="819.1" width="9.1" fill="#fbb"/>
<rect x="827.8" width="6.2" fill="#ffe2e2"/>
<rect x="833.6" width="14.9" fill="#ffa9a9"/>
<rect x="848.1" width="12" fill="#fdd"/>
<rect x="859.7" width="6.2" fill="#ff9e9e"/>
<rect x="865.5" width="9.1" fill="#ff7f7f"/>
<rect x="874.2" width="3.3" fill="#ffbfbf"/>
<rect x="877.1" width="9.1" fill="#ffcbcb"/>
<rect x="885.8" width="9.1" fill="#ffc7c7"/>
<rect x="894.5" width="9.1" fill="#fff2f2"/>
<rect x="903.3" width="6.2" fill="#ffb9b9"/>
<rect x="909.1" width="9.1" fill="#fff3f3"/>
<rect x="917.8" width="6.2" fill="#ffc9c9"/>
<rect x="923.6" width="6.2" fill="#ffd1d1"/>
<rect x="929.4" width="3.3" fill="#ffe3e3"/>
<rect x="932.3" width="6.2" fill="#ffd2d2"/>
<rect x="938.1" width="9.1" fill="#fdd"/>
<rect x="946.8" width="9.1" fill="#fee"/>
<rect x="955.5" width="9.1" fill="#ffc8c8"/>
<rect x="964.2" width="6.2" fill="#ffa4a4"/>
<rect x="970" width="6.2" fill="#ffa3a3"/>
<rect x="975.8" width="14.9" fill="#ffb3b3"/>
<rect x="990.3" width="6.2" fill="#faa"/>
<rect x="996.1" width="3.3" fill="#ff7474"/>
<rect x="999" width="12" fill="#ff5353"/>
<rect x="1010.6" width="6.2" fill="#ffa9a9"/>
<rect x="1016.4" width="3.3" fill="#ff9696"/>
<rect x="1019.3" width="14.9" fill="#ff5e5e"/>
<rect x="1033.9" width="9.1" fill="#ffb5b5"/>
<rect x="1042.6" width="3.3" fill="#ff9292"/>
<rect x="1045.5" width="14.9" fill="#ffaeae"/>
<rect x="1060" width="14.9" fill="#fff1f1"/>
<rect x="1074.5" width="3.3" fill="#ffabab"/>
<rect x="1077.4" width="14.9" fill="#ff9696"/>
<rect x="1091.9" width="9.1" fill="#ffa4a4"/>
<rect x="1100.6" width="14.9" fill="#ffa1a1"/>
<rect x="1115.1" width="12" fill="#ff7d7d"/>
<rect x="1126.7" width="3.3" fill="#f99"/>
<rect x="1129.6" width="3.3" fill="#ff8f8f"/>
<rect x="1132.5" width="9.1" fill="#ffbcbc"/>
<rect x="1141.2" width="3.3" fill="#ff9c9c"/>
<rect x="1144.1" width="6.2" fill="#ffd1d1"/>
<rect x="1149.9" width="6.2" fill="#fbb"/>
<rect x="1155.7" width="9.1" fill="#ffb2b2"/>
<rect x="1164.5" width="6.2" fill="#ffc8c8"/>
<rect x="1170.3" width="3.3" fill="#ff8686"/>
<rect x="1173.2" width="6.2" fill="#ffefef"/>
<rect x="1179" width="9.1" fill="#ffcdcd"/>
<rect x="1187.7" width="3.3" fill="#ffecec"/>
<rect x="1190.6" width="6.2" fill="#ffa6a6"/>
<rect x="1196.4" width="14.9" fill="#ff8b8b"/>
<rect x="1210.9" width="9.1" fill="#ffa5a5"/>
<rect x="1219.6" width="9.1" fill="#ffa5a5"/>
<rect x="1228.3" width="3.3" fill="#ffafaf"/>
<rect x="1231.2" width="3.3" fill="#ff7c7c"/>
<rect x="1234.1" width="3.3" fill="#ff6262"/>
<rect x="1237" width="6.2" fill="#ffc2c2"/>
<rect x="1242.8" width="9.1" fill="#ffb1b1"/>
<rect x="1251.5" width="12" fill="#ff9a9a"/>
<rect x="1263.1" width="3.3" fill="#ff9797"/>
<rect x="1266" width="3.3" fill="#ffc1c1"/>
<rect x="1268.9" width="6.2" fill="#f77"/>
<rect x="1274.7" width="6.2" fill="#ff5b5b"/>
<rect x="1280.5" width="9.1" fill="#ff7373"/>
<rect x="1289.2" width="6.2" fill="#ffc8c8"/>
<rect x="1295" width="14.9" fill="#ff5454"/>
<rect x="1309.6" width="6.2" fill="#ff9a9a"/>
<rect x="1315.4" width="12" fill="#ff7474"/>
<rect x="1327" width="6.2" fill="#ffa0a0"/>
<rect x="1332.8" width="12" fill="#e0e0ff"/>
<rect x="1344.4" width="3.3" fill="#ffdada"/>
<rect x="1347.3" width="3.3" fill="#ffbfbf"/>
<rect x="1350.2" width="9.1" fill="#ff9595"/>
<rect x="1358.9" width="12" fill="#f88"/>
<rect x="1370.5" width="12" fill="#ffc6c6"/>
<rect x="1382.1" width="9.1" fill="#f99"/>
<rect x="1390.8" width="14.9" fill="#ff4e4e"/>
<rect x="1405.3" width="3.3" fill="#ffb9b9"/>
<rect x="1408.2" width="6.2" fill="#ff7373"/>
<rect x="1414" width="6.2" fill="#ffa3a3"/>
<rect x="1419.8" width="6.2" fill="#ffa3a3"/>
<rect x="1425.6" width="9.1" fill="#ffabab"/>
<rect x="1434.4" width="12" fill="#ffc9c9"/>
<rect x="1446" width="9.1" fill="#ff7c7c"/>
<rect x="1454.7" width="9.1" fill="#ffa7a7"/>
<rect x="1463.4" width="12" fill="#ff9d9d"/>
<rect x="1475" width="12" fill="#ff9292"/>
<rect x="1486.6" width="3.3" fill="#ffc6c6"/>
<rect x="1489.5" width="6.2" fill="#ffc9c9"/>
</g>
<g class="hm" transform="translate(0 1080.27)">
<rect x="166.1" width="6.2" fill="#7474ff"/>
<rect x="171.9" width="6.2" fill="#8a8aff"/>
<rect x="177.7" width="9.1" fill="#5252ff"/>
<rect x="186.4" width="6.2" fill="#6969ff"/>
<rect x="192.2" width="3.3" fill="#d0d0ff"/>
<rect x="195.1" width="3.3" fill="#5252ff"/>
<rect x="198" width="6.2" fill="#8989ff"/>
<rect x="203.8" width="3.3" fill="#4e4eff"/>
<rect x="206.7" width="9.1" fill="#a6a6ff"/>
<rect x="215.4" width="6.2" fill="#7171ff"/>
<rect x="221.2" width="6.2" fill="#a5a5ff"/>
<rect x="227" width="9.1" fill="#8a8aff"/>
<rect x="235.8" width="9.1" fill="#0808ff"/>
<rect x="244.5" width="9.1" fill="#4949ff"/>
<rect x="253.2" width="14.9" fill="#6a6aff"/>
<rect x="267.7" width="9.1" fill="#5959ff"/>
<rect x="276.4" width="9.1" fill="#b3b3ff"/>
<rect x="285.1" width="14.9" fill="#4d4dff"/>
<rect x="299.6" width="9.1" fill="#b8b8ff"/>
<rect x="308.3" width="9.1" fill="#5252ff"/>
<rect x="317" width="6.2" fill="#8383ff"/>
<rect x="322.8" width="12" fill="#7b7bff"/>
<rect x="334.4" width="9.1" fill="#4c4cff"/>
<rect x="343.1" width="6.2" fill="#8585ff"/>
<rect x="348.9" width="6.2" fill="#5454ff"/>
<rect x="354.7" width="6.2" fill="#5959ff"/>
<rect x="360.5" width="6.2" fill="#5d5dff"/>
<rect x="366.4" width="9.1" fill="#4b4bff"/>
<rect x="375.1" width="3.3" fill="#b2b2ff"/>
<rect x="378" width="3.3" fill="#6464ff"/>
<rect x="380.9" width="6.2" fill="#7272ff"/>
<rect x="386.7" width="12" fill="#b4b4ff"/>
<rect x="398.3" width="9.1" fill="#d6d6ff"/>
<rect x="407" width="3.3" fill="#8e8eff"/>
<rect x="409.9" width="12" fill="#c2c2ff"/>
<rect x="421.5" width="6.2" fill="#ececff"/>
<rect x="427.3" width="14.9" fill="#e9e9ff"/>
<rect x="441.8" width="6.2" fill="#cfcfff"/>
<rect x="447.6" width="6.2" fill="#c5c5ff"/>
<rect x="453.4" width="9.1" fill="#afafff"/>
<rect x="462.1" width="12" fill="#cfcfff"/>
<rect x="473.7" width="14.9" fill="#e2e2ff"/>
<rect x="488.2" width="3.3" fill="#afafff"/>
<rect x="491.1" width="6.2" fill="#d8d8ff"/>
<rect x="496.9" width="3.3" fill="#dadaff"/>
<rect x="499.9" width="9.1" fill="#aeaeff"/>
<rect x="508.6" width="6.2" fill="#9696ff"/>
<rect x="514.4" width="3.3" fill="#7474ff"/>
<rect x="517.3" width="9.1" fill="#8e8eff"/>
<rect x="526" width="9.1" fill="#6464ff"/>
<rect x="534.7" width="3.3" fill="#5858ff"/>
<rect x="537.6" width="9.1" fill="#5151ff"/>
<rect x="546.3" width="6.2" fill="#9e9eff"/>
<rect x="552.1" width="3.3" fill="#8383ff"/>
<rect x="555" width="3.3" fill="#5656ff"/>
<rect x="557.9" width="12" fill="#5656ff"/>
<rect x="569.5" width="9.1" fill="#9090ff"/>
<rect x="578.2" width="3.3" fill="#ddf"/>
<rect x="581.1" width="3.3" fill="#dedeff"/>
<rect x="584" width="9.1" fill="#9c9cff"/>
<rect x="592.7" width="3.3" fill="#8787ff"/>
<rect x="595.6" width="9.1" fill="#eef"/>
<rect x="604.3" width="6.2" fill="#e9e9ff"/>
<rect x="610.1" width="6.2" fill="#e4e4ff"/>
<rect x="615.9" width="14.9" fill="#ffd8d8"/>
<rect x="630.4" width="9.1" fill="#ffdbdb"/>
<rect x="639.2" width="9.1" fill="#ffd7d7"/>
<rect x="647.9" width="14.9" fill="#ff7474"/>
<rect x="662.4" width="6.2" fill="#ffcdcd"/>
<rect x="668.2" width="9.1" fill="#ffe9e9"/>
<rect x="676.9" width="6.2" fill="#ffc1c1"/>
<rect x="682.7" width="12" fill="#fefeff"/>
<rect x="694.3" width="3.3" fill="#eaeaff"/>
<rect x="697.2" width="14.9" fill="#cacaff"/>
<rect x="711.7" width="12" fill="#ff8f8f"/>
<rect x="723.3" width="14.9" fill="#ff7676"/>
<rect x="737.8" width="6.2" fill="#f55"/>
<rect x="743.6" width="12" fill="#f55"/>
<rect x="755.2" width="3.3" fill="#ff8787"/>
<rect x="758.1" width="9.1" fill="#ff9d9d"/>
<rect x="766.9" width="6.2" fill="#ff4b4b"/>
<rect x="772.7" width="3.3" fill="#ff5b5b"/>
<rect x="775.6" width="3.3" fill="#ff6a6a"/>
<rect x="778.5" width="14.9" fill="#ff5e5e"/>
<rect x="793" width="14.9" fill="#ff4a4a"/>
<rect x="807.5" width="6.2" fill="#ff3d3d"/>
<rect x="813.3" width="9.1" fill="#ff6161"/>
<rect x="822" width="6.2" fill="#ffb4b4"/>
<rect x="827.8" width="14.9" fill="#f00"/>
<rect x="842.3" width="6.2" fill="#ff1717"/>
<rect x="848.1" width="12" fill="#ff4343"/>
<rect x="859.7" width="9.1" fill="#ff5f5f"/>
<rect x="868.4" width="9.1" fill="#ff8282"/>
<rect x="877.1" width="3.3" fill="#ff5252"/>
<rect x="880" width="3.3" fill="#ff5e5e"/>
<rect x="882.9" width="9.1" fill="#ff6060"/>
<rect x="891.6" width="9.1" fill="#ff4242"/>
<rect x="900.4" width="9.1" fill="#ff3535"/>
<rect x="909.1" width="9.1" fill="#ff0c0c"/>
<rect x="917.8" width="6.2" fill="#ff7474"/>
<rect x="923.6" width="3.3" fill="#f66"/>
<rect x="926.5" width="9.1" fill="#ff4e4e"/>
<rect x="935.2" width="6.2" fill="#ff6363"/>
<rect x="941" width="9.1" fill="#ff5353"/>
<rect x="949.7" width="6.2" fill="#ff9e9e"/>
<rect x="955.5" width="6.2" fill="#f33"/>
<rect x="961.3" width="6.2" fill="#ffd2d2"/>
<rect x="967.1" width="6.2" fill="#ff5050"/>
<rect x="972.9" width="6.2" fill="#ff5050"/>
<rect x="978.7" width="9.1" fill="#ff7c7c"/>
<rect x="987.4" width="3.3" fill="#ffc2c2"/>
<rect x="990.3" width="6.2" fill="#ff5d5d"/>
<rect x="996.1" width="9.1" fill="#ff7f7f"/>
<rect x="1004.8" width="12" fill="#ffa4a4"/>
<rect x="1016.4" width="6.2" fill="#ffc4c4"/>
<rect x="1022.2" width="6.2" fill="#ff9f9f"/>
<rect x="1028" width="9.1" fill="#ff4848"/>
<rect x="1036.8" width="12" fill="#ff6a6a"/>
<rect x="1048.4" width="6.2" fill="#ff9595"/>
<rect x="1054.2" width="6.2" fill="#ff9090"/>
<rect x="1060" width="3.3" fill="#faa"/>
<rect x="1062.9" width="3.3" fill="#ffc7c7"/>
<rect x="1065.8" width="6.2" fill="#ffa0a0"/>
<rect x="1071.6" width="9.1" fill="#ffbdbd"/>
<rect x="1080.3" width="3.3" fill="#ffa1a1"/>
<rect x="1083.2" width="9.1" fill="#ffc7c7"/>
<rect x="1091.9" width="3.3" fill="#ffcbcb"/>
<rect x="1094.8" width="9.1" fill="#ff7979"/>
<rect x="1103.5" width="9.1" fill="#ff7474"/>
<rect x="1112.2" width="6.2" fill="#ff8181"/>
<rect x="1118" width="6.2" fill="#ff6e6e"/>
<rect x="1123.8" width="3.3" fill="#ffc9c9"/>
<rect x="1126.7" width="6.2" fill="#ffb4b4"/>
<rect x="1132.5" width="9.1" fill="#ff9a9a"/>
<rect x="1141.2" width="3.3" fill="#ff9b9b"/>
<rect x="1144.1" width="9.1" fill="#ffa0a0"/>
<rect x="1152.8" width="3.3" fill="#ff7d7d"/>
<rect x="1155.7" width="12" fill="#ff9b9b"/>
<rect x="1167.4" width="6.2" fill="#ff9393"/>
<rect x="1173.2" width="6.2" fill="#f99"/>
<rect x="1179" width="14.9" fill="#ff7171"/>
<rect x="1193.5" width="14.9" fill="#fff8f8"/>
<rect x="1208" width="3.3" fill="#9898ff"/>
<rect x="1210.9" width="3.3" fill="#cdcdff"/>
<rect x="1213.8" width="9.1" fill="#ffacac"/>
<rect x="1222.5" width="6.2" fill="#ffc0c0"/>
<rect x="1228.3" width="3.3" fill="#ffb6b6"/>
<rect x="1231.2" width="6.2" fill="#ff9b9b"/>
<rect x="1237" width="6.2" fill="#ffa8a8"/>
<rect x="1242.8" width="14.9" fill="#ffaeae"/>
<rect x="1257.3" width="3.3" fill="#ffdbdb"/>
<rect x="1260.2" width="9.1" fill="#ffafaf"/>
<rect x="1268.9" width="6.2" fill="#ffa5a5"/>
<rect x="1274.7" width="12" fill="#ffd5d5"/>
<rect x="1286.3" width="14.9" fill="#ffa0a0"/>
<rect x="1300.9" width="9.1" fill="#ff7575"/>
<rect x="1309.6" width="6.2" fill="#ffb6b6"/>
<rect x="1315.4" width="9.1" fill="#ff8484"/>
<rect x="1324.1" width="9.1" fill="#ff7171"/>
<rect x="1332.8" width="9.1" fill="#ff2828"/>
<rect x="1341.5" width="9.1" fill="#f00"/>
<rect x="1350.2" width="3.3" fill="#ff7e7e"/>
<rect x="1353.1" width="6.2" fill="#ff6c6c"/>
<rect x="1358.9" width="6.2" fill="#ff5454"/>
<rect x="1364.7" width="9.1" fill="#f00"/>
<rect x="1373.4" width="3.3" fill="#ff1212"/>
<rect x="1376.3" width="3.3" fill="#f00"/>
<rect x="1379.2" width="3.3" fill="#ff5656"/>
<rect x="1382.1" width="9.1" fill="#ff1c1c"/>
<rect x="1390.8" width="12" fill="#ff3636"/>
<rect x="1402.4" width="14.9" fill="#ff3535"/>
<rect x="1416.9" width="3.3" fill="#ff4949"/>
<rect x="1419.8" width="12" fill="#ff1c1c"/>
<rect x="1431.5" width="14.9" fill="#ff7b7b"/>
<rect x="1446" width="9.1" fill="#ffa1a1"/>
<rect x="1454.7" width="6.2" fill="#ff7272"/>
<rect x="1460.5" width="9.1" fill="#ff2525"/>
<rect x="1469.2" width="14.9" fill="#ff0b0b"/>
<rect x="1483.7" width="6.2" fill="#ff5252"/>
<rect x="1489.5" width="6.2" fill="#ff4a4a"/>
</g>
</g>
<path d="M170.5 1132V1144M173.4 1132V1144M167.6 1132V1149.8M176.3 1132V1145.7M179.2 1132V1145.7M185 1132V1147M187.9 1132V1147M182.1 1132V1148.7M190.8 1132V1144.9M193.7 1132V1144.9M196.6 1132V1149.6M199.5 1132V1141.4M202.4 1132V1141.4M205.3 1132V1149.8M211.1 1132V1142.8M214 1132V1142.8M208.2 1132V1150.6M216.9 1132V1142.6M219.8 1132V1142.6M222.7 1132V1146.5M225.6 1132V1146.5M228.5 1132V1146M231.4 1132V1146M237.2 1132V1140.7M240.1 1132V1140.7M234.3 1132V1148.4M243 1132V1143.7M245.9 1132V1143.7M248.8 1132V1146.4M251.7 1132V1146.4M254.6 1132V1150.1M257.5 1132V1145.9M260.4 1132V1145.9M263.3 1132V1148.5M266.2 1132V1153.6M272 1132V1143.6M274.9 1132V1143.6M269.1 1132V1150.5M277.8 1132V1141.3M280.7 1132V1141.3M283.6 1132V1139.5M286.5 1132V1139.5M292.3 1132V1142.3M295.2 1132V1142.3M289.4 1132V1150.4M298.1 1132V1153.6M301.1 1132V1139.4M304 1132V1139.4M306.9 1132V1146M309.8 1132V1146M312.7 1132V1149M315.6 1132V1147M318.5 1132V1147M321.4 1132V1149.5M324.3 1132V1143.9M327.2 1132V1143.9M330.1 1132V1140.2M333 1132V1140.2M341.7 1132V1146.2M344.6 1132V1146.2M338.8 1132V1150.9M335.9 1132V1153.1M347.5 1132V1144M350.4 1132V1144M353.3 1132V1149.7M356.2 1132V1146.5M359.1 1132V1146.5M362 1132V1141.4M364.9 1132V1141.4M367.8 1132V1146.8M370.7 1132V1146.8M373.6 1132V1139.1M376.5 1132V1139.1M379.4 1132V1149.6M382.3 1132V1144.7M385.2 1132V1144.7M388.1 1132V1149M391 1132V1144.9M393.9 1132V1144.9M399.7 1132V1144.4M402.6 1132V1144.4M396.8 1132V1148.2M405.5 1132V1143.8M408.4 1132V1143.8M411.3 1132V1141.4M414.2 1132V1141.4M420 1132V1144.9M422.9 1132V1144.9M417.1 1132V1149.7M428.7 1132V1145.4M431.6 1132V1145.4M425.8 1132V1148.7M434.6 1132V1139.8M437.5 1132V1139.8M440.4 1132V1141.6M443.3 1132V1141.6M449.1 1132V1140.4M452 1132V1140.4M446.2 1132V1150.6M454.9 1132V1146.1M457.8 1132V1146.1M463.6 1132V1140M466.5 1132V1140M460.7 1132V1148.7M469.4 1132V1140.5M472.3 1132V1140.5M475.2 1132V1150.5M481 1132V1144.1M483.9 1132V1144.1M478.1 1132V1150.4M486.8 1132V1142.4M489.7 1132V1142.4M495.5 1132V1140.2M498.4 1132V1140.2M492.6 1132V1150.8M504.2 1132V1146M507.1 1132V1146M501.3 1132V1150.9M510 1132V1141.7M512.9 1132V1141.7M515.8 1132V1148.9M518.7 1132V1152.4M521.6 1132V1145.5M524.5 1132V1145.5M527.4 1132V1148.8M530.3 1132V1144.5M533.2 1132V1144.5M536.1 1132V1139.1M539 1132V1139.1M541.9 1132V1149.7M544.8 1132V1153.3M547.7 1132V1141.4M550.6 1132V1141.4M553.5 1132V1144.3M556.4 1132V1144.3M559.3 1132V1141.7M562.2 1132V1141.7M565.2 1132V1149.8M568.1 1132V1141M571 1132V1141M573.9 1132V1145.5M576.8 1132V1145.5M579.7 1132V1146.4M582.6 1132V1146.4M585.5 1132V1139.1M588.4 1132V1139.1M591.3 1132V1150.5M594.2 1132V1139.4M597.1 1132V1139.4M600 1132V1150.6M602.9 1132V1143.2M605.8 1132V1143.2M608.7 1132V1142.4M611.6 1132V1142.4M617.4 1132V1140M620.3 1132V1140M614.5 1132V1148.1M626.1 1132V1146.8M629 1132V1146.8M623.2 1132V1148.2M634.8 1132V1141.6M637.7 1132V1141.6M631.9 1132V1148.6M640.6 1132V1140M643.5 1132V1140M646.4 1132V1140.4M649.3 1132V1140.4M655.1 1132V1145.3M658 1132V1145.3M652.2 1132V1149.8M660.9 1132V1144M663.8 1132V1144M666.7 1132V1142.5M669.6 1132V1142.5M672.5 1132V1141M675.4 1132V1141M678.3 1132V1149.4M681.2 1132V1139.6M684.1 1132V1139.6M687 1132V1150.1M692.8 1132V1145.3M695.7 1132V1145.3M689.9 1132V1150.7M698.7 1132V1153.4M701.6 1132V1140M704.5 1132V1140M707.4 1132V1145.5M710.3 1132V1145.5M716.1 1132V1139M719 1132V1139M713.2 1132V1149.8M721.9 1132V1140.1M724.8 1132V1140.1M727.7 1132V1145.2M730.6 1132V1145.2M739.3 1132V1140.4M742.2 1132V1140.4M736.4 1132V1149.4M733.5 1132V1150.2M745.1 1132V1145.4M748 1132V1145.4M750.9 1132V1149.7M753.8 1132V1139.3M756.7 1132V1139.3M762.5 1132V1140.9M765.4 1132V1140.9M768.3 1132V1150.2M759.6 1132V1151M771.2 1132V1140.4M774.1 1132V1140.4M777 1132V1145M779.9 1132V1145M782.8 1132V1142.1M785.7 1132V1142.1M788.6 1132V1141.8M791.5 1132V1141.8M797.3 1132V1143M800.2 1132V1143M794.4 1132V1148.2M806 1132V1142.5M808.9 1132V1142.5M811.8 1132V1149.6M803.1 1132V1152.3M814.7 1132V1144.8M817.6 1132V1144.8M820.5 1132V1140.6M823.4 1132V1140.6M829.2 1132V1146.6M832.2 1132V1146.6M826.3 1132V1150.1M835.1 1132V1141.4M838 1132V1141.4M840.9 1132V1139.2M843.8 1132V1139.2M846.7 1132V1142.8M849.6 1132V1142.8M852.5 1132V1142.1M855.4 1132V1142.1M861.2 1132V1141.6M864.1 1132V1141.6M858.3 1132V1149.1M867 1132V1144.8M869.9 1132V1144.8M872.8 1132V1149.4M875.7 1132V1153M878.6 1132V1144.9M881.5 1132V1144.9M884.4 1132V1149.2M887.3 1132V1146.7M890.2 1132V1146.7M893.1 1132V1140.9M896 1132V1140.9M898.9 1132V1146.7M901.8 1132V1146.7M904.7 1132V1150M910.5 1132V1141M913.4 1132V1141M916.3 1132V1150.7M907.6 1132V1152.5M922.1 1132V1145.7M925 1132V1145.7M919.2 1132V1148.3M927.9 1132V1143.6M930.8 1132V1143.6M933.7 1132V1144.4M936.6 1132V1144.4M942.4 1132V1142.5M945.3 1132V1142.5M939.5 1132V1149M948.2 1132V1142.1M951.1 1132V1142.1M954 1132V1150.9M956.9 1132V1141.2M959.8 1132V1141.2M962.7 1132V1148.3M965.7 1132V1142M968.6 1132V1142M974.4 1132V1144.2M977.3 1132V1144.2M971.5 1132V1150M980.2 1132V1145.4M983.1 1132V1145.4M988.9 1132V1146.7M991.8 1132V1146.7M986 1132V1150.3M997.6 1132V1141.8M1000.5 1132V1141.8M994.7 1132V1149.5M1003.4 1132V1143.5M1006.3 1132V1143.5M1009.2 1132V1150M1012.1 1132V1140.1M1015 1132V1140.1M1017.9 1132V1143.8M1020.8 1132V1143.8M1023.7 1132V1142.7M1026.6 1132V1142.7M1029.5 1132V1149.9M1035.3 1132V1139.5M1038.2 1132V1139.5M1032.4 1132V1148.5M1041.1 1132V1141.9M1044 1132V1141.9M1046.9 1132V1141.1M1049.8 1132V1141.1M1055.6 1132V1139.3M1058.5 1132V1139.3M1052.7 1132V1150.6M1064.3 1132V1139.9M1067.2 1132V1139.9M1061.4 1132V1150.6M1070.1 1132V1141.2M1073 1132V1141.2M1075.9 1132V1145.2M1078.8 1132V1145.2M1081.7 1132V1144.9M1084.6 1132V1144.9M1087.5 1132V1145.5M1090.4 1132V1145.5M1093.3 1132V1145M1096.2 1132V1145M1102.1 1132V1143.2M1105 1132V1143.2M1099.2 1132V1148.6M1107.9 1132V1141M1110.8 1132V1141M1113.7 1132V1148.6M1116.6 1132V1144.5M1119.5 1132V1144.5M1122.4 1132V1141.4M1125.3 1132V1141.4M1128.2 1132V1143.8M1131.1 1132V1143.8M1134 1132V1149.5M1136.9 1132V1144.8M1139.8 1132V1144.8M1145.6 1132V1143.2M1148.5 1132V1143.2M1151.4 1132V1149.5M1142.7 1132V1152.8M1154.3 1132V1143M1157.2 1132V1143M1160.1 1132V1148.1M1163 1132V1143.5M1165.9 1132V1143.5M1168.8 1132V1149.3M1174.6 1132V1146.4M1177.5 1132V1146.4M1171.7 1132V1149.6M1180.4 1132V1144.6M1183.3 1132V1144.6M1186.2 1132V1140.1M1189.1 1132V1140.1M1192 1132V1144.9M1194.9 1132V1144.9M1197.8 1132V1150.2M1200.7 1132V1141.7M1203.6 1132V1141.7M1209.4 1132V1140.3M1212.3 1132V1140.3M1206.5 1132V1148.6M1215.2 1132V1144.2M1218.1 1132V1144.2M1221 1132V1149.3M1223.9 1132V1145.1M1226.8 1132V1145.1M1229.8 1132V1142.2M1232.7 1132V1142.2M1235.6 1132V1144.8M1238.5 1132V1144.8M1244.3 1132V1143.2M1247.2 1132V1143.2M1241.4 1132V1149.1M1253 1132V1145.3M1255.9 1132V1145.3M1250.1 1132V1148.6M1261.7 1132V1140.6M1264.6 1132V1140.6M1258.8 1132V1149.4M1270.4 1132V1139.2M1273.3 1132V1139.2M1267.5 1132V1148.5M1276.2 1132V1142.9M1279.1 1132V1142.9M1282 1132V1142.6M1284.9 1132V1142.6M1290.7 1132V1139.4M1293.6 1132V1139.4M1287.8 1132V1150.1M1296.5 1132V1140.8M1299.4 1132V1140.8M1305.2 1132V1140.3M1308.1 1132V1140.3M1302.3 1132V1149.4M1313.9 1132V1145.3M1316.8 1132V1145.3M1319.7 1132V1148.8M1311 1132V1150M1325.5 1132V1141.4M1328.4 1132V1141.4M1322.6 1132V1150.8M1331.3 1132V1139.2M1334.2 1132V1139.2M1337.1 1132V1148M1342.9 1132V1139.3M1345.8 1132V1139.3M1340 1132V1148.5M1348.7 1132V1146.2M1351.6 1132V1146.2M1354.5 1132V1142.8M1357.4 1132V1142.8M1360.3 1132V1146.5M1363.3 1132V1146.5M1366.2 1132V1139.3M1369.1 1132V1139.3M1372 1132V1141.3M1374.9 1132V1141.3M1377.8 1132V1148.2M1380.7 1132V1142.1M1383.6 1132V1142.1M1386.5 1132V1148.3M1392.3 1132V1145.2M1395.2 1132V1145.2M1389.4 1132V1148.7M1398.1 1132V1142.8M1401 1132V1142.8M1403.9 1132V1141.2M1406.8 1132V1141.2M1412.6 1132V1142.1M1415.5 1132V1142.1M1418.4 1132V1150.1M1409.7 1132V1152.6M1421.3 1132V1144.7M1424.2 1132V1144.7M1427.1 1132V1139.2M1430 1132V1139.2M1432.9 1132V1144.1M1435.8 1132V1144.1M1441.6 1132V1144.9M1444.5 1132V1144.9M1438.7 1132V1150.7M1447.4 1132V1141.7M1450.3 1132V1141.7M1453.2 1132V1142.2M1456.1 1132V1142.2M1459 1132V1146.6M1461.9 1132V1146.6M1467.7 1132V1144.2M1470.6 1132V1144.2M1464.8 1132V1148.2M1476.4 1132V1143.7M1479.3 1132V1143.7M1473.5 1132V1149.9M1482.2 1132V1146.7M1485.1 1132V1146.7M1490.9 1132V1142.4M1493.8 1132V1142.4M1488 1132V1149.7" stroke="#383838" stroke-width="1.9" fill="none"/>
<path d="M170.5 1144H173.4M171.9 1144V1149.8M167.6 1149.8H171.9M176.3 1145.7H179.2M185 1147H187.9M186.4 1147V1148.7M182.1 1148.7H186.4M177.7 1145.7V1151.3M184.2 1148.7V1151.3M177.7 1151.3H184.2M169.7 1149.8V1157.3M181 1151.3V1157.3M169.7 1157.3H181M190.8 1144.9H193.7M192.2 1144.9V1149.6M192.2 1149.6H196.6M199.5 1141.4H202.4M200.9 1141.4V1149.8M200.9 1149.8H205.3M211.1 1142.8H214M212.5 1142.8V1150.6M208.2 1150.6H212.5M203.1 1149.8V1152.7M210.4 1150.6V1152.7M203.1 1152.7H210.4M194.4 1149.6V1158.8M206.7 1152.7V1158.8M194.4 1158.8H206.7M216.9 1142.6H219.8M222.7 1146.5H225.6M218.3 1142.6V1152.9M224.1 1146.5V1152.9M218.3 1152.9H224.1M228.5 1146H231.4M221.2 1152.9V1157M229.9 1146V1157M221.2 1157H229.9M237.2 1140.7H240.1M238.7 1140.7V1148.4M234.3 1148.4H238.7M225.6 1157V1160.3M236.5 1148.4V1160.3M225.6 1160.3H236.5M200.6 1158.8V1164.5M231 1160.3V1164.5M200.6 1164.5H231M243 1143.7H245.9M248.8 1146.4H251.7M250.3 1146.4V1150.1M250.3 1150.1H254.6M244.5 1143.7V1153.8M252.4 1150.1V1153.8M244.5 1153.8H252.4M257.5 1145.9H260.4M259 1145.9V1148.5M259 1148.5H263.3M261.1 1148.5V1153.6M261.1 1153.6H266.2M248.4 1153.8V1157.3M263.7 1153.6V1157.3M248.4 1157.3H263.7M272 1143.6H274.9M273.5 1143.6V1150.5M269.1 1150.5H273.5M277.8 1141.3H280.7M271.3 1150.5V1154.4M279.3 1141.3V1154.4M271.3 1154.4H279.3M283.6 1139.5H286.5M275.3 1154.4V1158.2M285.1 1139.5V1158.2M275.3 1158.2H285.1M256.1 1157.3V1160.9M280.2 1158.2V1160.9M256.1 1160.9H280.2M292.3 1142.3H295.2M293.8 1142.3V1150.4M289.4 1150.4H293.8M291.6 1150.4V1153.6M291.6 1153.6H298.1M268.1 1160.9V1163.6M294.9 1153.6V1163.6M268.1 1163.6H294.9M215.8 1164.5V1172M281.5 1163.6V1172M215.8 1172H281.5M175.4 1157.3V1180.9M248.7 1172V1180.9M175.4 1180.9H248.7M301.1 1139.4H304M306.9 1146H309.8M308.3 1146V1149M308.3 1149H312.7M302.5 1139.4V1154M310.5 1149V1154M302.5 1154H310.5M315.6 1147H318.5M317 1147V1149.5M317 1149.5H321.4M306.5 1154V1159.2M319.2 1149.5V1159.2M306.5 1159.2H319.2M324.3 1143.9H327.2M330.1 1140.2H333M325.7 1143.9V1151.4M331.5 1140.2V1151.4M325.7 1151.4H331.5M341.7 1146.2H344.6M343.1 1146.2V1150.9M338.8 1150.9H343.1M341 1150.9V1153.1M335.9 1153.1H341M328.6 1151.4V1154.4M338.4 1153.1V1154.4M328.6 1154.4H338.4M347.5 1144H350.4M348.9 1144V1149.7M348.9 1149.7H353.3M356.2 1146.5H359.1M351.1 1149.7V1154.1M357.6 1146.5V1154.1M351.1 1154.1H357.6M362 1141.4H364.9M367.8 1146.8H370.7M363.4 1141.4V1150.7M369.3 1146.8V1150.7M363.4 1150.7H369.3M373.6 1139.1H376.5M375.1 1139.1V1149.6M375.1 1149.6H379.4M366.4 1150.7V1155.7M377.2 1149.6V1155.7M366.4 1155.7H377.2M354.4 1154.1V1159.9M371.8 1155.7V1159.9M354.4 1159.9H371.8M333.5 1154.4V1160.7M363.1 1159.9V1160.7M333.5 1160.7H363.1M312.8 1159.2V1164.9M348.3 1160.7V1164.9M312.8 1164.9H348.3M382.3 1144.7H385.2M383.8 1144.7V1149M383.8 1149H388.1M391 1144.9H393.9M385.9 1149V1153.3M392.5 1144.9V1153.3M385.9 1153.3H392.5M399.7 1144.4H402.6M401.2 1144.4V1148.2M396.8 1148.2H401.2M389.2 1153.3V1154.5M399 1148.2V1154.5M389.2 1154.5H399M405.5 1143.8H408.4M411.3 1141.4H414.2M407 1143.8V1151.2M412.8 1141.4V1151.2M407 1151.2H412.8M420 1144.9H422.9M421.5 1144.9V1149.7M417.1 1149.7H421.5M428.7 1145.4H431.6M430.2 1145.4V1148.7M425.8 1148.7H430.2M419.3 1149.7V1156.2M428 1148.7V1156.2M419.3 1156.2H428M409.9 1151.2V1157.9M423.7 1156.2V1157.9M409.9 1157.9H423.7M434.6 1139.8H437.5M440.4 1141.6H443.3M436 1139.8V1152.5M441.8 1141.6V1152.5M436 1152.5H441.8M449.1 1140.4H452M450.5 1140.4V1150.6M446.2 1150.6H450.5M454.9 1146.1H457.8M463.6 1140H466.5M465 1140V1148.7M460.7 1148.7H465M456.3 1146.1V1154.1M462.8 1148.7V1154.1M456.3 1154.1H462.8M448.3 1150.6V1157.3M459.6 1154.1V1157.3M448.3 1157.3H459.6M438.9 1152.5V1158.1M454 1157.3V1158.1M438.9 1158.1H454M416.8 1157.9V1163.7M446.4 1158.1V1163.7M416.8 1163.7H446.4M469.4 1140.5H472.3M470.8 1140.5V1150.5M470.8 1150.5H475.2M481 1144.1H483.9M482.4 1144.1V1150.4M478.1 1150.4H482.4M473 1150.5V1153.3M480.3 1150.4V1153.3M473 1153.3H480.3M431.6 1163.7V1164.5M476.6 1153.3V1164.5M431.6 1164.5H476.6M394.1 1154.5V1169.9M454.1 1164.5V1169.9M394.1 1169.9H454.1M486.8 1142.4H489.7M495.5 1140.2H498.4M496.9 1140.2V1150.8M492.6 1150.8H496.9M488.2 1142.4V1153.1M494.8 1150.8V1153.1M488.2 1153.1H494.8M504.2 1146H507.1M505.7 1146V1150.9M501.3 1150.9H505.7M491.5 1153.1V1155.8M503.5 1150.9V1155.8M491.5 1155.8H503.5M510 1141.7H512.9M511.5 1141.7V1148.9M511.5 1148.9H515.8M513.6 1148.9V1152.4M513.6 1152.4H518.7M521.6 1145.5H524.5M523.1 1145.5V1148.8M523.1 1148.8H527.4M530.3 1144.5H533.2M536.1 1139.1H539M537.6 1139.1V1149.7M537.6 1149.7H541.9M539.8 1149.7V1153.3M539.8 1153.3H544.8M531.8 1144.5V1154.6M542.3 1153.3V1154.6M531.8 1154.6H542.3M525.2 1148.8V1155.4M537 1154.6V1155.4M525.2 1155.4H537M516.2 1152.4V1162.6M531.1 1155.4V1162.6M516.2 1162.6H531.1M547.7 1141.4H550.6M553.5 1144.3H556.4M549.2 1141.4V1150.5M555 1144.3V1150.5M549.2 1150.5H555M523.7 1162.6V1163.6M552.1 1150.5V1163.6M523.7 1163.6H552.1M559.3 1141.7H562.2M560.8 1141.7V1149.8M560.8 1149.8H565.2M568.1 1141H571M563 1149.8V1153.1M569.5 1141V1153.1M563 1153.1H569.5M537.9 1163.6V1164.4M566.2 1153.1V1164.4M537.9 1164.4H566.2M497.5 1155.8V1165.3M552.1 1164.4V1165.3M497.5 1165.3H552.1M573.9 1145.5H576.8M579.7 1146.4H582.6M585.5 1139.1H588.4M586.9 1139.1V1150.5M586.9 1150.5H591.3M581.1 1146.4V1154.8M589.1 1150.5V1154.8M581.1 1154.8H589.1M575.3 1145.5V1156.2M585.1 1154.8V1156.2M575.3 1156.2H585.1M594.2 1139.4H597.1M595.6 1139.4V1150.6M595.6 1150.6H600M580.2 1156.2V1157.9M597.8 1150.6V1157.9M580.2 1157.9H597.8M602.9 1143.2H605.8M608.7 1142.4H611.6M604.3 1143.2V1150.8M610.1 1142.4V1150.8M604.3 1150.8H610.1M589 1157.9V1161.2M607.2 1150.8V1161.2M589 1161.2H607.2M524.8 1165.3V1168.7M598.1 1161.2V1168.7M524.8 1168.7H598.1M424.1 1169.9V1175.9M561.4 1168.7V1175.9M424.1 1175.9H561.4M330.6 1164.9V1185.7M492.8 1175.9V1185.7M330.6 1185.7H492.8M212 1180.9V1190.6M411.7 1185.7V1190.6M212 1190.6H411.7M617.4 1140H620.3M618.8 1140V1148.1M614.5 1148.1H618.8M626.1 1146.8H629M627.5 1146.8V1148.2M623.2 1148.2H627.5M616.7 1148.1V1156.2M625.4 1148.2V1156.2M616.7 1156.2H625.4M634.8 1141.6H637.7M636.3 1141.6V1148.6M631.9 1148.6H636.3M640.6 1140H643.5M634.1 1148.6V1153.8M642.1 1140V1153.8M634.1 1153.8H642.1M646.4 1140.4H649.3M655.1 1145.3H658M656.6 1145.3V1149.8M652.2 1149.8H656.6M647.9 1140.4V1151.6M654.4 1149.8V1151.6M647.9 1151.6H654.4M660.9 1144H663.8M666.7 1142.5H669.6M662.4 1144V1152.9M668.2 1142.5V1152.9M662.4 1152.9H668.2M651.1 1151.6V1159.3M665.3 1152.9V1159.3M651.1 1159.3H665.3M638.1 1153.8V1160.3M658.2 1159.3V1160.3M638.1 1160.3H658.2M672.5 1141H675.4M674 1141V1149.4M674 1149.4H678.3M681.2 1139.6H684.1M682.7 1139.6V1150.1M682.7 1150.1H687M676.2 1149.4V1154.5M684.9 1150.1V1154.5M676.2 1154.5H684.9M692.8 1145.3H695.7M694.3 1145.3V1150.7M689.9 1150.7H694.3M692.1 1150.7V1153.4M692.1 1153.4H698.7M701.6 1140H704.5M707.4 1145.5H710.3M703 1140V1151.6M708.8 1145.5V1151.6M703 1151.6H708.8M695.4 1153.4V1156.7M705.9 1151.6V1156.7M695.4 1156.7H705.9M680.5 1154.5V1161.4M700.6 1156.7V1161.4M680.5 1161.4H700.6M648.1 1160.3V1164.3M690.6 1161.4V1164.3M648.1 1164.3H690.6M716.1 1139H719M717.5 1139V1149.8M713.2 1149.8H717.5M721.9 1140.1H724.8M715.3 1149.8V1153.7M723.3 1140.1V1153.7M715.3 1153.7H723.3M727.7 1145.2H730.6M719.3 1153.7V1157M729.1 1145.2V1157M719.3 1157H729.1M739.3 1140.4H742.2M740.7 1140.4V1149.4M736.4 1149.4H740.7M738.6 1149.4V1150.2M733.5 1150.2H738.6M724.2 1157V1162.1M736 1150.2V1162.1M724.2 1162.1H736M669.4 1164.3V1165.1M730.1 1162.1V1165.1M669.4 1165.1H730.1M621 1156.2V1195.7M699.7 1165.1V1195.7M621 1195.7H699.7M745.1 1145.4H748M746.5 1145.4V1149.7M746.5 1149.7H750.9M753.8 1139.3H756.7M748.7 1149.7V1155M755.2 1139.3V1155M748.7 1155H755.2M762.5 1140.9H765.4M763.9 1140.9V1150.2M763.9 1150.2H768.3M766.1 1150.2V1151M759.6 1151H766.1M771.2 1140.4H774.1M762.9 1151V1155.5M772.7 1140.4V1155.5M762.9 1155.5H772.7M777 1145H779.9M782.8 1142.1H785.7M778.5 1145V1152.2M784.3 1142.1V1152.2M778.5 1152.2H784.3M767.8 1155.5V1156.3M781.4 1152.2V1156.3M767.8 1156.3H781.4M788.6 1141.8H791.5M797.3 1143H800.2M798.8 1143V1148.2M794.4 1148.2H798.8M790.1 1141.8V1153M796.6 1148.2V1153M790.1 1153H796.6M774.6 1156.3V1162M793.3 1153V1162M774.6 1162H793.3M752 1155V1167M783.9 1162V1167M752 1167H783.9M806 1142.5H808.9M807.5 1142.5V1149.6M807.5 1149.6H811.8M809.7 1149.6V1152.3M803.1 1152.3H809.7M814.7 1144.8H817.6M806.4 1152.3V1153.1M816.2 1144.8V1153.1M806.4 1153.1H816.2M820.5 1140.6H823.4M829.2 1146.6H832.2M830.7 1146.6V1150.1M826.3 1150.1H830.7M835.1 1141.4H838M828.5 1150.1V1152.6M836.5 1141.4V1152.6M828.5 1152.6H836.5M822 1140.6V1154.8M832.5 1152.6V1154.8M822 1154.8H832.5M811.3 1153.1V1161.9M827.3 1154.8V1161.9M811.3 1161.9H827.3M840.9 1139.2H843.8M846.7 1142.8H849.6M842.3 1139.2V1150.6M848.1 1142.8V1150.6M842.3 1150.6H848.1M852.5 1142.1H855.4M845.2 1150.6V1155.3M853.9 1142.1V1155.3M845.2 1155.3H853.9M861.2 1141.6H864.1M862.6 1141.6V1149.1M858.3 1149.1H862.6M849.6 1155.3V1157.5M860.4 1149.1V1157.5M849.6 1157.5H860.4M819.3 1161.9V1165.1M855 1157.5V1165.1M819.3 1165.1H855M867 1144.8H869.9M868.4 1144.8V1149.4M868.4 1149.4H872.8M870.6 1149.4V1153M870.6 1153H875.7M878.6 1144.9H881.5M880 1144.9V1149.2M880 1149.2H884.4M873.1 1153V1155.9M882.2 1149.2V1155.9M873.1 1155.9H882.2M887.3 1146.7H890.2M877.7 1155.9V1157.9M888.7 1146.7V1157.9M877.7 1157.9H888.7M893.1 1140.9H896M898.9 1146.7H901.8M900.4 1146.7V1150M900.4 1150H904.7M894.5 1140.9V1152.2M902.5 1150V1152.2M894.5 1152.2H902.5M883.2 1157.9V1158.8M898.5 1152.2V1158.8M883.2 1158.8H898.5M837.1 1165.1V1166.6M890.9 1158.8V1166.6M837.1 1166.6H890.9M910.5 1141H913.4M912 1141V1150.7M912 1150.7H916.3M914.1 1150.7V1152.5M907.6 1152.5H914.1M922.1 1145.7H925M923.6 1145.7V1148.3M919.2 1148.3H923.6M927.9 1143.6H930.8M933.7 1144.4H936.6M929.4 1143.6V1151.2M935.2 1144.4V1151.2M929.4 1151.2H935.2M921.4 1148.3V1156.8M932.3 1151.2V1156.8M921.4 1156.8H932.3M942.4 1142.5H945.3M943.9 1142.5V1149M939.5 1149H943.9M926.8 1156.8V1157.6M941.7 1149V1157.6M926.8 1157.6H941.7M910.9 1152.5V1159.6M934.3 1157.6V1159.6M910.9 1159.6H934.3M948.2 1142.1H951.1M949.7 1142.1V1150.9M949.7 1150.9H954M956.9 1141.2H959.8M958.4 1141.2V1148.3M958.4 1148.3H962.7M951.9 1150.9V1153.4M960.6 1148.3V1153.4M951.9 1153.4H960.6M922.6 1159.6V1162M956.2 1153.4V1162M922.6 1162H956.2M864 1166.6V1167.4M939.4 1162V1167.4M864 1167.4H939.4M965.7 1142H968.6M974.4 1144.2H977.3M975.8 1144.2V1150M971.5 1150H975.8M980.2 1145.4H983.1M973.6 1150V1154.6M981.6 1145.4V1154.6M973.6 1154.6H981.6M967.1 1142V1157.9M977.6 1154.6V1157.9M967.1 1157.9H977.6M988.9 1146.7H991.8M990.3 1146.7V1150.3M986 1150.3H990.3M972.4 1157.9V1158.7M988.1 1150.3V1158.7M972.4 1158.7H988.1M997.6 1141.8H1000.5M999 1141.8V1149.5M994.7 1149.5H999M1003.4 1143.5H1006.3M1004.8 1143.5V1150M1004.8 1150H1009.2M996.9 1149.5V1155M1007 1150V1155M996.9 1155H1007M980.3 1158.7V1159.5M1001.9 1155V1159.5M980.3 1159.5H1001.9M901.7 1167.4V1168.2M991.1 1159.5V1168.2M901.7 1168.2H991.1M768 1167V1169M946.4 1168.2V1169M768 1169H946.4M1012.1 1140.1H1015M1017.9 1143.8H1020.8M1023.7 1142.7H1026.6M1025.1 1142.7V1149.9M1025.1 1149.9H1029.5M1019.3 1143.8V1154.4M1027.3 1149.9V1154.4M1019.3 1154.4H1027.3M1013.5 1140.1V1158.4M1023.3 1154.4V1158.4M1013.5 1158.4H1023.3M1035.3 1139.5H1038.2M1036.8 1139.5V1148.5M1032.4 1148.5H1036.8M1018.4 1158.4V1159.6M1034.6 1148.5V1159.6M1018.4 1159.6H1034.6M1041.1 1141.9H1044M1046.9 1141.1H1049.8M1042.6 1141.9V1152.6M1048.4 1141.1V1152.6M1042.6 1152.6H1048.4M1055.6 1139.3H1058.5M1057.1 1139.3V1150.6M1052.7 1150.6H1057.1M1045.5 1152.6V1157.4M1054.9 1150.6V1157.4M1045.5 1157.4H1054.9M1026.5 1159.6V1160.4M1050.2 1157.4V1160.4M1026.5 1160.4H1050.2M1064.3 1139.9H1067.2M1065.8 1139.9V1150.6M1061.4 1150.6H1065.8M1070.1 1141.2H1073M1063.6 1150.6V1154.7M1071.6 1141.2V1154.7M1063.6 1154.7H1071.6M1075.9 1145.2H1078.8M1081.7 1144.9H1084.6M1087.5 1145.5H1090.4M1083.2 1144.9V1151.4M1089 1145.5V1151.4M1083.2 1151.4H1089M1093.3 1145H1096.2M1086.1 1151.4V1153.3M1094.8 1145V1153.3M1086.1 1153.3H1094.8M1077.4 1145.2V1154.9M1090.4 1153.3V1154.9M1077.4 1154.9H1090.4M1067.6 1154.7V1160.2M1083.9 1154.9V1160.2M1067.6 1160.2H1083.9M1102.1 1143.2H1105M1103.5 1143.2V1148.6M1099.2 1148.6H1103.5M1107.9 1141H1110.8M1109.3 1141V1148.6M1109.3 1148.6H1113.7M1101.3 1148.6V1153.1M1111.5 1148.6V1153.1M1101.3 1153.1H1111.5M1075.8 1160.2V1162.6M1106.4 1153.1V1162.6M1075.8 1162.6H1106.4M1116.6 1144.5H1119.5M1122.4 1141.4H1125.3M1118 1144.5V1153.6M1123.8 1141.4V1153.6M1118 1153.6H1123.8M1128.2 1143.8H1131.1M1129.6 1143.8V1149.5M1129.6 1149.5H1134M1120.9 1153.6V1156.5M1131.8 1149.5V1156.5M1120.9 1156.5H1131.8M1136.9 1144.8H1139.8M1126.4 1156.5V1157.3M1138.3 1144.8V1157.3M1126.4 1157.3H1138.3M1145.6 1143.2H1148.5M1147 1143.2V1149.5M1147 1149.5H1151.4M1149.2 1149.5V1152.8M1142.7 1152.8H1149.2M1132.3 1157.3V1159.1M1145.9 1152.8V1159.1M1132.3 1159.1H1145.9M1154.3 1143H1157.2M1155.7 1143V1148.1M1155.7 1148.1H1160.1M1163 1143.5H1165.9M1164.5 1143.5V1149.3M1164.5 1149.3H1168.8M1157.9 1148.1V1153.3M1166.6 1149.3V1153.3M1157.9 1153.3H1166.6M1139.1 1159.1V1159.9M1162.3 1153.3V1159.9M1139.1 1159.9H1162.3M1091.1 1162.6V1166.6M1150.7 1159.9V1166.6M1091.1 1166.6H1150.7M1038.3 1160.4V1173.6M1120.9 1166.6V1173.6M1038.3 1173.6H1120.9M857.2 1169V1188.6M1079.6 1173.6V1188.6M857.2 1188.6H1079.6M1174.6 1146.4H1177.5M1176.1 1146.4V1149.6M1171.7 1149.6H1176.1M1180.4 1144.6H1183.3M1186.2 1140.1H1189.1M1181.9 1144.6V1153.2M1187.7 1140.1V1153.2M1181.9 1153.2H1187.7M1173.9 1149.6V1154.6M1184.8 1153.2V1154.6M1173.9 1154.6H1184.8M1192 1144.9H1194.9M1193.5 1144.9V1150.2M1193.5 1150.2H1197.8M1200.7 1141.7H1203.6M1195.6 1150.2V1153.9M1202.2 1141.7V1153.9M1195.6 1153.9H1202.2M1179.3 1154.6V1157.1M1198.9 1153.9V1157.1M1179.3 1157.1H1198.9M1209.4 1140.3H1212.3M1210.9 1140.3V1148.6M1206.5 1148.6H1210.9M1215.2 1144.2H1218.1M1216.7 1144.2V1149.3M1216.7 1149.3H1221M1223.9 1145.1H1226.8M1229.8 1142.2H1232.7M1225.4 1145.1V1151.6M1231.2 1142.2V1151.6M1225.4 1151.6H1231.2M1218.9 1149.3V1155.1M1228.3 1151.6V1155.1M1218.9 1155.1H1228.3M1208.7 1148.6V1155.9M1223.6 1155.1V1155.9M1208.7 1155.9H1223.6M1235.6 1144.8H1238.5M1244.3 1143.2H1247.2M1245.7 1143.2V1149.1M1241.4 1149.1H1245.7M1237 1144.8V1155.2M1243.5 1149.1V1155.2M1237 1155.2H1243.5M1216.1 1155.9V1161.8M1240.3 1155.2V1161.8M1216.1 1161.8H1240.3M1253 1145.3H1255.9M1254.4 1145.3V1148.6M1250.1 1148.6H1254.4M1261.7 1140.6H1264.6M1263.1 1140.6V1149.4M1258.8 1149.4H1263.1M1252.2 1148.6V1153.5M1260.9 1149.4V1153.5M1252.2 1153.5H1260.9M1228.2 1161.8V1164M1256.6 1153.5V1164M1228.2 1164H1256.6M1270.4 1139.2H1273.3M1271.8 1139.2V1148.5M1267.5 1148.5H1271.8M1276.2 1142.9H1279.1M1282 1142.6H1284.9M1290.7 1139.4H1293.6M1292.1 1139.4V1150.1M1287.8 1150.1H1292.1M1283.4 1142.6V1151.3M1290 1150.1V1151.3M1283.4 1151.3H1290M1277.6 1142.9V1154.3M1286.7 1151.3V1154.3M1277.6 1154.3H1286.7M1269.7 1148.5V1156.7M1282.2 1154.3V1156.7M1269.7 1156.7H1282.2M1242.4 1164V1171.7M1275.9 1156.7V1171.7M1242.4 1171.7H1275.9M1189.1 1157.1V1173.2M1259.2 1171.7V1173.2M1189.1 1173.2H1259.2M1296.5 1140.8H1299.4M1305.2 1140.3H1308.1M1306.7 1140.3V1149.4M1302.3 1149.4H1306.7M1298 1140.8V1155.5M1304.5 1149.4V1155.5M1298 1155.5H1304.5M1313.9 1145.3H1316.8M1315.4 1145.3V1148.8M1315.4 1148.8H1319.7M1317.5 1148.8V1150M1311 1150H1317.5M1325.5 1141.4H1328.4M1327 1141.4V1150.8M1322.6 1150.8H1327M1314.3 1150V1155.2M1324.8 1150.8V1155.2M1314.3 1155.2H1324.8M1301.2 1155.5V1159.5M1319.5 1155.2V1159.5M1301.2 1159.5H1319.5M1224.1 1173.2V1176.4M1310.4 1159.5V1176.4M1224.1 1176.4H1310.4M1331.3 1139.2H1334.2M1332.8 1139.2V1148M1332.8 1148H1337.1M1342.9 1139.3H1345.8M1344.4 1139.3V1148.5M1340 1148.5H1344.4M1335 1148V1157.2M1342.2 1148.5V1157.2M1335 1157.2H1342.2M1348.7 1146.2H1351.6M1354.5 1142.8H1357.4M1360.3 1146.5H1363.3M1366.2 1139.3H1369.1M1361.8 1146.5V1153.3M1367.6 1139.3V1153.3M1361.8 1153.3H1367.6M1356 1142.8V1156.8M1364.7 1153.3V1156.8M1356 1156.8H1364.7M1350.2 1146.2V1157.6M1360.3 1156.8V1157.6M1350.2 1157.6H1360.3M1338.6 1157.2V1158.4M1355.3 1157.6V1158.4M1338.6 1158.4H1355.3M1372 1141.3H1374.9M1373.4 1141.3V1148.2M1373.4 1148.2H1377.8M1380.7 1142.1H1383.6M1382.1 1142.1V1148.3M1382.1 1148.3H1386.5M1375.6 1148.2V1155.4M1384.3 1148.3V1155.4M1375.6 1155.4H1384.3M1346.9 1158.4V1165.3M1379.9 1155.4V1165.3M1346.9 1165.3H1379.9M1392.3 1145.2H1395.2M1393.7 1145.2V1148.7M1389.4 1148.7H1393.7M1398.1 1142.8H1401M1391.5 1148.7V1152.8M1399.5 1142.8V1152.8M1391.5 1152.8H1399.5M1403.9 1141.2H1406.8M1395.5 1152.8V1156.3M1405.3 1141.2V1156.3M1395.5 1156.3H1405.3M1412.6 1142.1H1415.5M1414 1142.1V1150.1M1414 1150.1H1418.4M1416.2 1150.1V1152.6M1409.7 1152.6H1416.2M1400.4 1156.3V1158.7M1413 1152.6V1158.7M1400.4 1158.7H1413M1421.3 1144.7H1424.2M1427.1 1139.2H1430M1422.7 1144.7V1150.4M1428.5 1139.2V1150.4M1422.7 1150.4H1428.5M1406.7 1158.7V1159.5M1425.6 1150.4V1159.5M1406.7 1159.5H1425.6M1432.9 1144.1H1435.8M1441.6 1144.9H1444.5M1443.1 1144.9V1150.7M1438.7 1150.7H1443.1M1447.4 1141.7H1450.3M1440.9 1150.7V1155.1M1448.9 1141.7V1155.1M1440.9 1155.1H1448.9M1434.4 1144.1V1156.1M1444.9 1155.1V1156.1M1434.4 1156.1H1444.9M1453.2 1142.2H1456.1M1459 1146.6H1461.9M1454.7 1142.2V1150.1M1460.5 1146.6V1150.1M1454.7 1150.1H1460.5M1439.6 1156.1V1156.9M1457.6 1150.1V1156.9M1439.6 1156.9H1457.6M1467.7 1144.2H1470.6M1469.2 1144.2V1148.2M1464.8 1148.2H1469.2M1476.4 1143.7H1479.3M1477.9 1143.7V1149.9M1473.5 1149.9H1477.9M1482.2 1146.7H1485.1M1490.9 1142.4H1493.8M1492.4 1142.4V1149.7M1488 1149.7H1492.4M1483.7 1146.7V1152.2M1490.2 1149.7V1152.2M1483.7 1152.2H1490.2M1475.7 1149.9V1154.5M1487 1152.2V1154.5M1475.7 1154.5H1487M1467 1148.2V1160M1481.3 1154.5V1160M1467 1160H1481.3M1448.6 1156.9V1167.1M1474.2 1160V1167.1M1448.6 1167.1H1474.2M1416.2 1159.5V1168.8M1461.4 1167.1V1168.8M1416.2 1168.8H1461.4M1363.4 1165.3V1169.6M1438.8 1168.8V1169.6M1363.4 1169.6H1438.8M1267.3 1176.4V1192M1401.1 1169.6V1192M1267.3 1192H1401.1M968.4 1188.6V1197.5M1334.2 1192V1197.5M968.4 1197.5H1334.2M660.4 1195.7V1204.3M1151.3 1197.5V1204.3M660.4 1204.3H1151.3M311.8 1190.6V1206.2M905.8 1204.3V1206.2M311.8 1206.2H905.8" stroke="#141414" stroke-width="1.4" fill="none"/>
<text x="1511" y="699.8" font-size="21" font-weight="bold" textLength="73" lengthAdjust="spacingAndGlyphs">7-1-3</text>
<text x="1511" y="751.6" font-size="21" font-weight="bold" textLength="73" lengthAdjust="spacingAndGlyphs">7-1-2</text>
<text x="1511" y="803.4" font-size="21" font-weight="bold" textLength="73" lengthAdjust="spacingAndGlyphs">7-1-1</text>
<text x="1511" y="855.2" font-size="21" font-weight="bold" textLength="73" lengthAdjust="spacingAndGlyphs">3-1-3</text>
<text x="1511" y="906.95" font-size="21" font-weight="bold" textLength="73" lengthAdjust="spacingAndGlyphs">3-1-2</text>
<text x="1511" y="958.65" font-size="21" font-weight="bold" textLength="73" lengthAdjust="spacingAndGlyphs">3-1-1</text>
<text x="1511" y="1010.3" font-size="21" font-weight="bold" textLength="73" lengthAdjust="spacingAndGlyphs">WT-3</text>
<text x="1511" y="1061.95" font-size="21" font-weight="bold" textLength="73" lengthAdjust="spacingAndGlyphs">WT-2</text>
<text x="1511" y="1113.65" font-size="21" font-weight="bold" textLength="73" lengthAdjust="spacingAndGlyphs">WT-1</text>
<rect x="368.3" y="1260" width="281" height="172.2" fill="#fff"/>
<line x1="426.3" y1="1260" x2="426.3" y2="1432.2" stroke="#f4f4f4" stroke-width="1.1"/>
<line x1="568.8" y1="1260" x2="568.8" y2="1432.2" stroke="#f4f4f4" stroke-width="1.1"/>
<line x1="497.7" y1="1260" x2="497.7" y2="1432.2" stroke="#ebebeb" stroke-width="1.1"/>
<line x1="640.2" y1="1260" x2="640.2" y2="1432.2" stroke="#ebebeb" stroke-width="1.1"/>
<line x1="368.3" y1="1278.1" x2="649.3" y2="1278.1" stroke="#ebebeb" stroke-width="1.1"/>
<line x1="368.3" y1="1307.4" x2="649.3" y2="1307.4" stroke="#ebebeb" stroke-width="1.1"/>
<line x1="368.3" y1="1333.5" x2="649.3" y2="1333.5" stroke="#ebebeb" stroke-width="1.1"/>
<line x1="368.3" y1="1362.6" x2="649.3" y2="1362.6" stroke="#ebebeb" stroke-width="1.1"/>
<line x1="368.3" y1="1387.2" x2="649.3" y2="1387.2" stroke="#ebebeb" stroke-width="1.1"/>
<line x1="368.3" y1="1417.7" x2="649.3" y2="1417.7" stroke="#ebebeb" stroke-width="1.1"/>
<path d="M649.3 1260H368.3 M368.3 1260V1432.2H649.3" stroke="#4d4d4d" stroke-width="1.4" fill="none"/>
<line x1="497.7" y1="1432.2" x2="497.7" y2="1436.2" stroke="#333" stroke-width="1"/>
<line x1="640.2" y1="1432.2" x2="640.2" y2="1436.2" stroke="#333" stroke-width="1"/>
<text x="361" y="1282.47" font-size="12.5" text-anchor="end" font-weight="bold" fill="#333" textLength="163.22" lengthAdjust="spacingAndGlyphs">response to oxidative stress</text>
<line x1="364.3" y1="1278.1" x2="368.3" y2="1278.1" stroke="#333" stroke-width="1.1"/>
<text x="361" y="1311.78" font-size="12.5" text-anchor="end" font-weight="bold" fill="#333" textLength="162.54" lengthAdjust="spacingAndGlyphs">fatty acid metabolic process</text>
<line x1="364.3" y1="1307.4" x2="368.3" y2="1307.4" stroke="#333" stroke-width="1.1"/>
<text x="361" y="1337.88" font-size="12.5" text-anchor="end" font-weight="bold" fill="#333" textLength="242.4" lengthAdjust="spacingAndGlyphs">regulation of protein modification process</text>
<line x1="364.3" y1="1333.5" x2="368.3" y2="1333.5" stroke="#333" stroke-width="1.1"/>
<text x="361" y="1366.97" font-size="12.5" text-anchor="end" font-weight="bold" fill="#333" textLength="70.52" lengthAdjust="spacingAndGlyphs">endocytosis</text>
<line x1="364.3" y1="1362.6" x2="368.3" y2="1362.6" stroke="#333" stroke-width="1.1"/>
<text x="361" y="1391.58" font-size="12.5" text-anchor="end" font-weight="bold" fill="#333" textLength="147.08" lengthAdjust="spacingAndGlyphs">transmembrane transport</text>
<line x1="364.3" y1="1387.2" x2="368.3" y2="1387.2" stroke="#333" stroke-width="1.1"/>
<text x="361" y="1422.08" font-size="12.5" text-anchor="end" font-weight="bold" fill="#333" textLength="86.62" lengthAdjust="spacingAndGlyphs">import into cell</text>
<line x1="364.3" y1="1417.7" x2="368.3" y2="1417.7" stroke="#333" stroke-width="1.1"/>
<path d="M454.7 1270.8h23l-11.5 20z" fill="#c64d5f"/>
<path d="M571.35 1303.5h12.7l-6.35 10.8z" fill="#c0666f"/>
<path d="M419.8 1328h13l-6.5 11.7z" fill="#1a66b2"/>
<path d="M425.1 1357.8h13.8l-6.9 12z" fill="#1a66b2"/>
<path d="M388.35 1379.6h22.7l-11.35 20z" fill="#1a66b2"/>
<path d="M439.1 1412.2h13.8l-6.9 11.6z" fill="#1a66b2"/>
<text x="656.5" y="1331.5" font-size="27" font-weight="bold" textLength="29" lengthAdjust="spacingAndGlyphs" transform="rotate(90 656.5 1331.5)" dominant-baseline="auto">BP</text>
<rect x="367.2" y="1443.4" width="282.1" height="141.8" fill="#fff"/>
<line x1="439.4" y1="1443.4" x2="439.4" y2="1585.2" stroke="#f4f4f4" stroke-width="1.1"/>
<line x1="575.7" y1="1443.4" x2="575.7" y2="1585.2" stroke="#f4f4f4" stroke-width="1.1"/>
<line x1="507.5" y1="1443.4" x2="507.5" y2="1585.2" stroke="#ebebeb" stroke-width="1.1"/>
<line x1="642.8" y1="1443.4" x2="642.8" y2="1585.2" stroke="#ebebeb" stroke-width="1.1"/>
<line x1="367.2" y1="1461.5" x2="649.3" y2="1461.5" stroke="#ebebeb" stroke-width="1.1"/>
<line x1="367.2" y1="1488.7" x2="649.3" y2="1488.7" stroke="#ebebeb" stroke-width="1.1"/>
<line x1="367.2" y1="1517" x2="649.3" y2="1517" stroke="#ebebeb" stroke-width="1.1"/>
<line x1="367.2" y1="1541.7" x2="649.3" y2="1541.7" stroke="#ebebeb" stroke-width="1.1"/>
<line x1="367.2" y1="1567.1" x2="649.3" y2="1567.1" stroke="#ebebeb" stroke-width="1.1"/>
<path d="M649.3 1443.4H367.2 M367.2 1443.4V1585.2H649.3" stroke="#4d4d4d" stroke-width="1.4" fill="none"/>
<line x1="507.5" y1="1585.2" x2="507.5" y2="1589.2" stroke="#333" stroke-width="1"/>
<line x1="642.8" y1="1585.2" x2="642.8" y2="1589.2" stroke="#333" stroke-width="1"/>
<text x="360.3" y="1465.77" font-size="12.2" text-anchor="end" font-weight="bold" fill="#333" textLength="157.7" lengthAdjust="spacingAndGlyphs">integral component of membrane</text>
<line x1="363.2" y1="1461.5" x2="367.2" y2="1461.5" stroke="#333" stroke-width="1.1"/>
<text x="360.3" y="1492.97" font-size="12.2" text-anchor="end" font-weight="bold" fill="#333" textLength="81.35" lengthAdjust="spacingAndGlyphs">whole membrane</text>
<line x1="363.2" y1="1488.7" x2="367.2" y2="1488.7" stroke="#333" stroke-width="1.1"/>
<text x="360.3" y="1521.27" font-size="12.2" text-anchor="end" font-weight="bold" fill="#333" textLength="80.79" lengthAdjust="spacingAndGlyphs">host cell nucleus</text>
<line x1="363.2" y1="1517" x2="367.2" y2="1517" stroke="#333" stroke-width="1.1"/>
<text x="360.3" y="1545.97" font-size="12.2" text-anchor="end" font-weight="bold" fill="#333" textLength="50.37" lengthAdjust="spacingAndGlyphs">membrane</text>
<line x1="363.2" y1="1541.7" x2="367.2" y2="1541.7" stroke="#333" stroke-width="1.1"/>
<text x="360.3" y="1571.37" font-size="12.2" text-anchor="end" font-weight="bold" fill="#333" textLength="87.46" lengthAdjust="spacingAndGlyphs">plasma membrane</text>
<line x1="363.2" y1="1567.1" x2="367.2" y2="1567.1" stroke="#333" stroke-width="1.1"/>
<path d="M382 1454.3h19.6l-9.8 19.2z" fill="#c64d5f"/>
<path d="M408.1 1486h6l-3 5.6z" fill="#1a66b2"/>
<path d="M392.6 1514h9l-4.5 8.5z" fill="#1a66b2"/>
<path d="M392.3 1538h9.4l-4.7 9z" fill="#1a66b2"/>
<path d="M398.35 1564.5h6.5l-3.25 5.8z" fill="#1a66b2"/>
<text x="656.5" y="1484.4" font-size="27" font-weight="bold" textLength="33" lengthAdjust="spacingAndGlyphs" transform="rotate(90 656.5 1484.4)">CC</text>
<rect x="365" y="1601.8" width="284" height="170.8" fill="#fff"/>
<line x1="434.9" y1="1601.8" x2="434.9" y2="1772.6" stroke="#f4f4f4" stroke-width="1.1"/>
<line x1="572.4" y1="1601.8" x2="572.4" y2="1772.6" stroke="#f4f4f4" stroke-width="1.1"/>
<line x1="503.7" y1="1601.8" x2="503.7" y2="1772.6" stroke="#ebebeb" stroke-width="1.1"/>
<line x1="641.1" y1="1601.8" x2="641.1" y2="1772.6" stroke="#ebebeb" stroke-width="1.1"/>
<line x1="365" y1="1618.7" x2="649" y2="1618.7" stroke="#ebebeb" stroke-width="1.1"/>
<line x1="365" y1="1646.2" x2="649" y2="1646.2" stroke="#ebebeb" stroke-width="1.1"/>
<line x1="365" y1="1673.7" x2="649" y2="1673.7" stroke="#ebebeb" stroke-width="1.1"/>
<line x1="365" y1="1701.2" x2="649" y2="1701.2" stroke="#ebebeb" stroke-width="1.1"/>
<line x1="365" y1="1728.6" x2="649" y2="1728.6" stroke="#ebebeb" stroke-width="1.1"/>
<line x1="365" y1="1756.1" x2="649" y2="1756.1" stroke="#ebebeb" stroke-width="1.1"/>
<rect x="365" y="1601.8" width="284" height="170.8" fill="none" stroke="#4d4d4d" stroke-width="1.4"/>
<line x1="503.7" y1="1772.6" x2="503.7" y2="1776.6" stroke="#333" stroke-width="1"/>
<text x="503.7" y="1787" font-size="9" text-anchor="middle" fill="#333">10</text>
<line x1="641.1" y1="1772.6" x2="641.1" y2="1776.6" stroke="#333" stroke-width="1"/>
<text x="641.1" y="1787" font-size="9" text-anchor="middle" fill="#333">20</text>
<text x="503.7" y="1798.5" font-size="9.5" text-anchor="middle" font-weight="bold" fill="#222">Rich factor</text>
<text x="359.1" y="1622.41" font-size="10.6" text-anchor="end" fill="#333" textLength="184.83" lengthAdjust="spacingAndGlyphs" stroke="#333" stroke-width="0.38">transmembrane transporter activity</text>
<line x1="361" y1="1618.7" x2="365" y2="1618.7" stroke="#333" stroke-width="1.1"/>
<text x="359.1" y="1649.91" font-size="10.6" text-anchor="end" fill="#333" textLength="71.83" lengthAdjust="spacingAndGlyphs" stroke="#333" stroke-width="0.38">heme binding</text>
<line x1="361" y1="1646.2" x2="365" y2="1646.2" stroke="#333" stroke-width="1.1"/>
<text x="359.1" y="1677.41" font-size="10.6" text-anchor="end" fill="#333" textLength="84.44" lengthAdjust="spacingAndGlyphs" stroke="#333" stroke-width="0.38">catalase activity</text>
<line x1="361" y1="1673.7" x2="365" y2="1673.7" stroke="#333" stroke-width="1.1"/>
<text x="359.1" y="1704.91" font-size="10.6" text-anchor="end" fill="#333" textLength="264" lengthAdjust="spacingAndGlyphs" stroke="#333" stroke-width="0.38">thiol-dependent ubiquitin-specific protease activity</text>
<line x1="361" y1="1701.2" x2="365" y2="1701.2" stroke="#333" stroke-width="1.1"/>
<text x="359.1" y="1732.31" font-size="10.6" text-anchor="end" fill="#333" textLength="121.02" lengthAdjust="spacingAndGlyphs" stroke="#333" stroke-width="0.38">oxidoreductase activity</text>
<line x1="361" y1="1728.6" x2="365" y2="1728.6" stroke="#333" stroke-width="1.1"/>
<text x="359.1" y="1759.81" font-size="10.6" text-anchor="end" fill="#333" textLength="182.88" lengthAdjust="spacingAndGlyphs" stroke="#333" stroke-width="0.38">ubiquitin-like protein ligase binding</text>
<line x1="361" y1="1756.1" x2="365" y2="1756.1" stroke="#333" stroke-width="1.1"/>
<path d="M393.65 1612.4h15.7l-7.85 16.9z" fill="#c64d5f"/>
<path d="M400.4 1641h13l-6.5 13.8z" fill="#8197a8"/>
<path d="M506.4 1670.5h7.8l-3.9 7.9z" fill="#7cb030"/>
<path d="M486.75 1698.4h6.3l-3.15 6.3z" fill="#1a66b2"/>
<path d="M381.95 1720.8h17.7l-8.85 18.5z" fill="#1a66b2"/>
<path d="M602.95 1753h5.9l-2.95 6z" fill="#1a66b2"/>
<text x="656.5" y="1668.6" font-size="27" font-weight="bold" textLength="39" lengthAdjust="spacingAndGlyphs" transform="rotate(90 656.5 1668.6)">MF</text>
<text x="709.6" y="1369.7" font-size="14.5" font-weight="bold" textLength="49.61" lengthAdjust="spacingAndGlyphs">qvalue</text>
<rect x="708.9" y="1379.8" width="23.1" height="117.5" fill="url(#qg)"/>
<line x1="708.9" y1="1391.7" x2="713.52" y2="1391.7" stroke="#fff" stroke-width="1" opacity="0.7"/>
<line x1="727.38" y1="1391.7" x2="732" y2="1391.7" stroke="#fff" stroke-width="1" opacity="0.7"/>
<text x="740.8" y="1396.92" font-size="14.5" fill="#1a1a1a" textLength="21.77" lengthAdjust="spacingAndGlyphs">0.4</text>
<line x1="708.9" y1="1417.3" x2="713.52" y2="1417.3" stroke="#fff" stroke-width="1" opacity="0.7"/>
<line x1="727.38" y1="1417.3" x2="732" y2="1417.3" stroke="#fff" stroke-width="1" opacity="0.7"/>
<text x="740.8" y="1422.52" font-size="14.5" fill="#1a1a1a" textLength="21.77" lengthAdjust="spacingAndGlyphs">0.3</text>
<line x1="708.9" y1="1442.9" x2="713.52" y2="1442.9" stroke="#fff" stroke-width="1" opacity="0.7"/>
<line x1="727.38" y1="1442.9" x2="732" y2="1442.9" stroke="#fff" stroke-width="1" opacity="0.7"/>
<text x="740.8" y="1448.12" font-size="14.5" fill="#1a1a1a" textLength="21.77" lengthAdjust="spacingAndGlyphs">0.2</text>
<line x1="708.9" y1="1468.4" x2="713.52" y2="1468.4" stroke="#fff" stroke-width="1" opacity="0.7"/>
<line x1="727.38" y1="1468.4" x2="732" y2="1468.4" stroke="#fff" stroke-width="1" opacity="0.7"/>
<text x="740.8" y="1473.62" font-size="14.5" fill="#1a1a1a" textLength="21.77" lengthAdjust="spacingAndGlyphs">0.1</text>
<text x="709.6" y="1539.9" font-size="14.5" font-weight="bold" textLength="102.68" lengthAdjust="spacingAndGlyphs">gene_number</text>
<circle cx="720.9" cy="1561.9" r="6.6" fill="#000"/>
<text x="740.8" y="1567.12" font-size="14.5" fill="#1a1a1a" textLength="17.42" lengthAdjust="spacingAndGlyphs">20</text>
<circle cx="720.9" cy="1584.9" r="8.4" fill="#000"/>
<text x="740.8" y="1590.12" font-size="14.5" fill="#1a1a1a" textLength="17.42" lengthAdjust="spacingAndGlyphs">40</text>
<circle cx="720.9" cy="1607.8" r="9.5" fill="#000"/>
<text x="740.8" y="1613.02" font-size="14.5" fill="#1a1a1a" textLength="17.42" lengthAdjust="spacingAndGlyphs">60</text>
<rect x="798.6" y="1520" width="50" height="26" fill="#fff"/>
<text x="709.6" y="1662.4" font-size="14.5" font-weight="bold" textLength="26.09" lengthAdjust="spacingAndGlyphs">Diff</text>
<path d="M717.5 1682.2h7l-3.5 5.6z" fill="none" stroke="#000" stroke-width="1.1"/>
<text x="740.8" y="1690.22" font-size="14.5" fill="#1a1a1a" textLength="37.43" lengthAdjust="spacingAndGlyphs">down</text>
<rect x="1059.2" y="1254.1" width="597.3" height="511.1" fill="#fff"/>
<line x1="1105.65" y1="1254.1" x2="1105.65" y2="1765.2" stroke="#f4f4f4" stroke-width="1.1"/>
<line x1="1242.55" y1="1254.1" x2="1242.55" y2="1765.2" stroke="#f4f4f4" stroke-width="1.1"/>
<line x1="1379.45" y1="1254.1" x2="1379.45" y2="1765.2" stroke="#f4f4f4" stroke-width="1.1"/>
<line x1="1516.35" y1="1254.1" x2="1516.35" y2="1765.2" stroke="#f4f4f4" stroke-width="1.1"/>
<line x1="1653.25" y1="1254.1" x2="1653.25" y2="1765.2" stroke="#f4f4f4" stroke-width="1.1"/>
<line x1="1174.1" y1="1254.1" x2="1174.1" y2="1765.2" stroke="#ebebeb" stroke-width="1.1"/>
<line x1="1311" y1="1254.1" x2="1311" y2="1765.2" stroke="#ebebeb" stroke-width="1.1"/>
<line x1="1447.9" y1="1254.1" x2="1447.9" y2="1765.2" stroke="#ebebeb" stroke-width="1.1"/>
<line x1="1584.8" y1="1254.1" x2="1584.8" y2="1765.2" stroke="#ebebeb" stroke-width="1.1"/>
<line x1="1059.2" y1="1269.8" x2="1656.5" y2="1269.8" stroke="#ebebeb" stroke-width="1.1"/>
<line x1="1059.2" y1="1295.1" x2="1656.5" y2="1295.1" stroke="#ebebeb" stroke-width="1.1"/>
<line x1="1059.2" y1="1320.4" x2="1656.5" y2="1320.4" stroke="#ebebeb" stroke-width="1.1"/>
<line x1="1059.2" y1="1345.7" x2="1656.5" y2="1345.7" stroke="#ebebeb" stroke-width="1.1"/>
<line x1="1059.2" y1="1371" x2="1656.5" y2="1371" stroke="#ebebeb" stroke-width="1.1"/>
<line x1="1059.2" y1="1396.3" x2="1656.5" y2="1396.3" stroke="#ebebeb" stroke-width="1.1"/>
<line x1="1059.2" y1="1421.6" x2="1656.5" y2="1421.6" stroke="#ebebeb" stroke-width="1.1"/>
<line x1="1059.2" y1="1446.9" x2="1656.5" y2="1446.9" stroke="#ebebeb" stroke-width="1.1"/>
<line x1="1059.2" y1="1472.2" x2="1656.5" y2="1472.2" stroke="#ebebeb" stroke-width="1.1"/>
<line x1="1059.2" y1="1497.5" x2="1656.5" y2="1497.5" stroke="#ebebeb" stroke-width="1.1"/>
<line x1="1059.2" y1="1522.8" x2="1656.5" y2="1522.8" stroke="#ebebeb" stroke-width="1.1"/>
<line x1="1059.2" y1="1548.1" x2="1656.5" y2="1548.1" stroke="#ebebeb" stroke-width="1.1"/>
<line x1="1059.2" y1="1573.4" x2="1656.5" y2="1573.4" stroke="#ebebeb" stroke-width="1.1"/>
<line x1="1059.2" y1="1598.7" x2="1656.5" y2="1598.7" stroke="#ebebeb" stroke-width="1.1"/>
<line x1="1059.2" y1="1624" x2="1656.5" y2="1624" stroke="#ebebeb" stroke-width="1.1"/>
<line x1="1059.2" y1="1649.3" x2="1656.5" y2="1649.3" stroke="#ebebeb" stroke-width="1.1"/>
<line x1="1059.2" y1="1674.6" x2="1656.5" y2="1674.6" stroke="#ebebeb" stroke-width="1.1"/>
<line x1="1059.2" y1="1699.9" x2="1656.5" y2="1699.9" stroke="#ebebeb" stroke-width="1.1"/>
<line x1="1059.2" y1="1725.2" x2="1656.5" y2="1725.2" stroke="#ebebeb" stroke-width="1.1"/>
<line x1="1059.2" y1="1750.5" x2="1656.5" y2="1750.5" stroke="#ebebeb" stroke-width="1.1"/>
<line x1="1059.2" y1="1254.1" x2="1059.2" y2="1765.2" stroke="#cdcdcd" stroke-width="1.1"/>
<line x1="1656.5" y1="1254.1" x2="1656.5" y2="1765.2" stroke="#dedede" stroke-width="1.1"/>
<line x1="1058.6" y1="1254.1" x2="1657.1" y2="1254.1" stroke="#a2a2a2" stroke-width="1.5"/>
<line x1="1058.6" y1="1765.2" x2="1657.1" y2="1765.2" stroke="#333" stroke-width="1.5"/>
<line x1="1174.1" y1="1765.2" x2="1174.1" y2="1768.7" stroke="#333" stroke-width="1"/>
<text x="1174.1" y="1779" font-size="9" text-anchor="middle" fill="#333">5</text>
<line x1="1311" y1="1765.2" x2="1311" y2="1768.7" stroke="#333" stroke-width="1"/>
<text x="1311" y="1779" font-size="9" text-anchor="middle" fill="#333">10</text>
<line x1="1447.9" y1="1765.2" x2="1447.9" y2="1768.7" stroke="#333" stroke-width="1"/>
<text x="1447.9" y="1779" font-size="9" text-anchor="middle" fill="#333">15</text>
<line x1="1584.8" y1="1765.2" x2="1584.8" y2="1768.7" stroke="#333" stroke-width="1"/>
<text x="1584.8" y="1779" font-size="9" text-anchor="middle" fill="#333">20</text>
<text x="1357.3" y="1791.5" font-size="10" text-anchor="middle" font-weight="bold" fill="#222">Rich factor</text>
<text x="1357.3" y="1245.8" font-size="12" text-anchor="middle" font-weight="bold" fill="#111" textLength="196" lengthAdjust="spacingAndGlyphs">Statistics of Pathway Enrichment</text>
<text x="1052" y="1273.16" font-size="9.6" text-anchor="end" fill="#333" textLength="199" lengthAdjust="spacingAndGlyphs" stroke="#333" stroke-width="0.38">Glyoxylate and dicarboxylate metabolism</text>
<line x1="1055" y1="1269.8" x2="1059.2" y2="1269.8" stroke="#333" stroke-width="1.1"/>
<text x="1052" y="1298.46" font-size="9.6" text-anchor="end" fill="#333" textLength="57.81" lengthAdjust="spacingAndGlyphs" stroke="#333" stroke-width="0.38">Peroxisome</text>
<line x1="1055" y1="1295.1" x2="1059.2" y2="1295.1" stroke="#333" stroke-width="1.1"/>
<text x="1052" y="1323.76" font-size="9.6" text-anchor="end" fill="#333" textLength="114" lengthAdjust="spacingAndGlyphs" stroke="#333" stroke-width="0.38">Tryptophan metabolism</text>
<line x1="1055" y1="1320.4" x2="1059.2" y2="1320.4" stroke="#333" stroke-width="1.1"/>
<text x="1052" y="1349.06" font-size="9.6" text-anchor="end" fill="#333" textLength="179.53" lengthAdjust="spacingAndGlyphs" stroke="#333" stroke-width="0.38">Cysteine and methionine metabolism</text>
<line x1="1055" y1="1345.7" x2="1059.2" y2="1345.7" stroke="#333" stroke-width="1.1"/>
<text x="1052" y="1374.36" font-size="9.6" text-anchor="end" fill="#333" textLength="108.92" lengthAdjust="spacingAndGlyphs" stroke="#333" stroke-width="0.38">N-Glycan biosynthesis</text>
<line x1="1055" y1="1371" x2="1059.2" y2="1371" stroke="#333" stroke-width="1.1"/>
<text x="1052" y="1399.66" font-size="9.6" text-anchor="end" fill="#333" textLength="187.23" lengthAdjust="spacingAndGlyphs" stroke="#333" stroke-width="0.38">Various types of N-glycan biosynthesis</text>
<line x1="1055" y1="1396.3" x2="1059.2" y2="1396.3" stroke="#333" stroke-width="1.1"/>
<text x="1052" y="1424.96" font-size="9.6" text-anchor="end" fill="#333" textLength="226.4" lengthAdjust="spacingAndGlyphs" stroke="#333" stroke-width="0.38">Glycosphingolipid biosynthesis - ganglio series</text>
<line x1="1055" y1="1421.6" x2="1059.2" y2="1421.6" stroke="#333" stroke-width="1.1"/>
<text x="1052" y="1450.26" font-size="9.6" text-anchor="end" fill="#333" textLength="206.74" lengthAdjust="spacingAndGlyphs" stroke="#333" stroke-width="0.38">Valine, leucine and isoleucine biosynthesis</text>
<line x1="1055" y1="1446.9" x2="1059.2" y2="1446.9" stroke="#333" stroke-width="1.1"/>
<text x="1052" y="1475.56" font-size="9.6" text-anchor="end" fill="#333" textLength="73.01" lengthAdjust="spacingAndGlyphs" stroke="#333" stroke-width="0.38">Meiosis - yeast</text>
<line x1="1055" y1="1472.2" x2="1059.2" y2="1472.2" stroke="#333" stroke-width="1.1"/>
<text x="1052" y="1500.86" font-size="9.6" text-anchor="end" fill="#333" textLength="201.44" lengthAdjust="spacingAndGlyphs" stroke="#333" stroke-width="0.38">Glycine, serine and threonine metabolism</text>
<line x1="1055" y1="1497.5" x2="1059.2" y2="1497.5" stroke="#333" stroke-width="1.1"/>
<text x="1052" y="1526.16" font-size="9.6" text-anchor="end" fill="#333" textLength="110.76" lengthAdjust="spacingAndGlyphs" stroke="#333" stroke-width="0.38">Lipoic acid metabolism</text>
<line x1="1055" y1="1522.8" x2="1059.2" y2="1522.8" stroke="#333" stroke-width="1.1"/>
<text x="1052" y="1551.46" font-size="9.6" text-anchor="end" fill="#333" textLength="119.28" lengthAdjust="spacingAndGlyphs" stroke="#333" stroke-width="0.38">Linoleic acid metabolism</text>
<line x1="1055" y1="1548.1" x2="1059.2" y2="1548.1" stroke="#333" stroke-width="1.1"/>
<text x="1052" y="1576.76" font-size="9.6" text-anchor="end" fill="#333" textLength="108.94" lengthAdjust="spacingAndGlyphs" stroke="#333" stroke-width="0.38">Butanoate metabolism</text>
<line x1="1055" y1="1573.4" x2="1059.2" y2="1573.4" stroke="#333" stroke-width="1.1"/>
<text x="1052" y="1602.06" font-size="9.6" text-anchor="end" fill="#333" textLength="176.5" lengthAdjust="spacingAndGlyphs" stroke="#333" stroke-width="0.38">Taurine and hypotaurine metabolism</text>
<line x1="1055" y1="1598.7" x2="1059.2" y2="1598.7" stroke="#333" stroke-width="1.1"/>
<text x="1052" y="1627.36" font-size="9.6" text-anchor="end" fill="#333" textLength="94.93" lengthAdjust="spacingAndGlyphs" stroke="#333" stroke-width="0.38">Carbon metabolism</text>
<line x1="1055" y1="1624" x2="1059.2" y2="1624" stroke="#333" stroke-width="1.1"/>
<text x="1052" y="1652.66" font-size="9.6" text-anchor="end" fill="#333" textLength="155.81" lengthAdjust="spacingAndGlyphs" stroke="#333" stroke-width="0.38">Glycosaminoglycan degradation</text>
<line x1="1055" y1="1649.3" x2="1059.2" y2="1649.3" stroke="#333" stroke-width="1.1"/>
<text x="1052" y="1677.96" font-size="9.6" text-anchor="end" fill="#333" textLength="108.34" lengthAdjust="spacingAndGlyphs" stroke="#333" stroke-width="0.38">Fatty acid degradation</text>
<line x1="1055" y1="1674.6" x2="1059.2" y2="1674.6" stroke="#333" stroke-width="1.1"/>
<text x="1052" y="1703.26" font-size="9.6" text-anchor="end" fill="#333" textLength="214.21" lengthAdjust="spacingAndGlyphs" stroke="#333" stroke-width="0.38">Protein processing in endoplasmic reticulum</text>
<line x1="1055" y1="1699.9" x2="1059.2" y2="1699.9" stroke="#333" stroke-width="1.1"/>
<text x="1052" y="1728.56" font-size="9.6" text-anchor="end" fill="#333" textLength="100.41" lengthAdjust="spacingAndGlyphs" stroke="#333" stroke-width="0.38">Nitrogen metabolism</text>
<line x1="1055" y1="1725.2" x2="1059.2" y2="1725.2" stroke="#333" stroke-width="1.1"/>
<text x="1052" y="1753.86" font-size="9.6" text-anchor="end" fill="#333" textLength="180.76" lengthAdjust="spacingAndGlyphs" stroke="#333" stroke-width="0.38">Cutin, suberine and wax biosynthesis</text>
<line x1="1055" y1="1750.5" x2="1059.2" y2="1750.5" stroke="#333" stroke-width="1.1"/>
<path d="M1163.8 1263.5h19.8l-9.9 17.3z" fill="#c84a5c"/>
<path d="M1121.4 1289.6h19l-9.5 16.5z" fill="#7f93a6"/>
<path d="M1119.9 1315h16.8l-8.4 14z" fill="#78a836"/>
<path d="M1097.95 1341h14.7l-7.35 12.9z" fill="#78a836"/>
<path d="M1113.95 1367h12.7l-6.35 11.5z" fill="#78a836"/>
<path d="M1116.5 1392.4h12l-6 10.7z" fill="#78a836"/>
<path d="M1430.55 1420.1h3.5l-1.75 3z" fill="#78a836"/>
<path d="M1161.9 1444h10l-5 8.8z" fill="#78a836"/>
<path d="M1086.45 1467.3h18.3l-9.15 15.2z" fill="#78a836"/>
<path d="M1093.65 1491.3h17.3l-8.65 15.2z" fill="#78a836"/>
<path d="M1628.25 1521.3h3.5l-1.75 3z" fill="#78a836"/>
<path d="M1628.25 1546.6h3.5l-1.75 3z" fill="#78a836"/>
<path d="M1143.55 1570h12.7l-6.35 10z" fill="#78a836"/>
<path d="M1248.6 1594.7h10l-5 8.5z" fill="#78a836"/>
<path d="M1074.45 1618.2h19.5l-9.75 17z" fill="#6d8d6b"/>
<path d="M1272.85 1647.8h3.5l-1.75 3z" fill="#3a6a90"/>
<path d="M1090.95 1671h12.7l-6.35 9.4z" fill="#1a66b2"/>
<path d="M1078.7 1695h16.2l-8.1 13.3z" fill="#1a66b2"/>
<path d="M1112.9 1722h11l-5.5 8.6z" fill="#1a66b2"/>
<path d="M1233.85 1749h3.5l-1.75 3z" fill="#1a66b2"/>
<text x="1676.3" y="1339.8" font-size="10" font-weight="bold" textLength="41.18" lengthAdjust="spacingAndGlyphs">qvalue</text>
<rect x="1676.3" y="1348.3" width="19.8" height="97.1" fill="url(#qg)"/>
<line x1="1676.3" y1="1369" x2="1680.26" y2="1369" stroke="#fff" stroke-width="1" opacity="0.7"/>
<line x1="1692.14" y1="1369" x2="1696.1" y2="1369" stroke="#fff" stroke-width="1" opacity="0.7"/>
<text x="1702.1" y="1372.78" font-size="10.5" fill="#1a1a1a" textLength="18.97" lengthAdjust="spacingAndGlyphs">0.4</text>
<line x1="1676.3" y1="1388.7" x2="1680.26" y2="1388.7" stroke="#fff" stroke-width="1" opacity="0.7"/>
<line x1="1692.14" y1="1388.7" x2="1696.1" y2="1388.7" stroke="#fff" stroke-width="1" opacity="0.7"/>
<text x="1702.1" y="1392.48" font-size="10.5" fill="#1a1a1a" textLength="18.97" lengthAdjust="spacingAndGlyphs">0.3</text>
<line x1="1676.3" y1="1408.5" x2="1680.26" y2="1408.5" stroke="#fff" stroke-width="1" opacity="0.7"/>
<line x1="1692.14" y1="1408.5" x2="1696.1" y2="1408.5" stroke="#fff" stroke-width="1" opacity="0.7"/>
<text x="1702.1" y="1412.28" font-size="10.5" fill="#1a1a1a" textLength="18.97" lengthAdjust="spacingAndGlyphs">0.2</text>
<line x1="1676.3" y1="1429" x2="1680.26" y2="1429" stroke="#fff" stroke-width="1" opacity="0.7"/>
<line x1="1692.14" y1="1429" x2="1696.1" y2="1429" stroke="#fff" stroke-width="1" opacity="0.7"/>
<text x="1702.1" y="1432.78" font-size="10.5" fill="#1a1a1a" textLength="18.97" lengthAdjust="spacingAndGlyphs">0.1</text>
<text x="1676.3" y="1482.3" font-size="10" font-weight="bold" textLength="85.24" lengthAdjust="spacingAndGlyphs">gene_number</text>
<circle cx="1686.1" cy="1500.4" r="1.7" fill="#000"/>
<text x="1702.1" y="1504.18" font-size="10.5" fill="#1a1a1a" textLength="7.59" lengthAdjust="spacingAndGlyphs">1</text>
<circle cx="1686.1" cy="1519.8" r="4.3" fill="#000"/>
<text x="1702.1" y="1523.58" font-size="10.5" fill="#1a1a1a" textLength="7.59" lengthAdjust="spacingAndGlyphs">2</text>
<circle cx="1686.1" cy="1539" r="5.6" fill="#000"/>
<text x="1702.1" y="1542.78" font-size="10.5" fill="#1a1a1a" textLength="7.59" lengthAdjust="spacingAndGlyphs">3</text>
<circle cx="1686.1" cy="1558.8" r="6" fill="#000"/>
<text x="1702.1" y="1562.58" font-size="10.5" fill="#1a1a1a" textLength="7.59" lengthAdjust="spacingAndGlyphs">4</text>
<circle cx="1686.1" cy="1578.5" r="6.85" fill="#000"/>
<text x="1702.1" y="1582.28" font-size="10.5" fill="#1a1a1a" textLength="7.59" lengthAdjust="spacingAndGlyphs">5</text>
<circle cx="1686.1" cy="1598.3" r="7.3" fill="#000"/>
<text x="1702.1" y="1602.08" font-size="10.5" fill="#1a1a1a" textLength="7.59" lengthAdjust="spacingAndGlyphs">6</text>
<circle cx="1686.1" cy="1618" r="8.15" fill="#000"/>
<text x="1702.1" y="1621.78" font-size="10.5" fill="#1a1a1a" textLength="7.59" lengthAdjust="spacingAndGlyphs">7</text>
<text x="1676.3" y="1662.7" font-size="10" font-weight="bold" textLength="20.82" lengthAdjust="spacingAndGlyphs">Diff</text>
<path d="M1683.35 1678.3h5.5l-2.75 4.4z" fill="none" stroke="#000" stroke-width="1.1"/>
<text x="1702.1" y="1684.46" font-size="11" fill="#1a1a1a" textLength="32.87" lengthAdjust="spacingAndGlyphs">down</text>
<rect x="379.3" y="1844" width="262.5" height="74.1" fill="#fff"/>
<line x1="455.1" y1="1844" x2="455.1" y2="1918.1" stroke="#f4f4f4" stroke-width="1.1"/>
<line x1="574.7" y1="1844" x2="574.7" y2="1918.1" stroke="#f4f4f4" stroke-width="1.1"/>
<line x1="396" y1="1844" x2="396" y2="1918.1" stroke="#ebebeb" stroke-width="1.1"/>
<line x1="514.9" y1="1844" x2="514.9" y2="1918.1" stroke="#ebebeb" stroke-width="1.1"/>
<line x1="633.5" y1="1844" x2="633.5" y2="1918.1" stroke="#ebebeb" stroke-width="1.1"/>
<line x1="379.3" y1="1869.9" x2="641.8" y2="1869.9" stroke="#ebebeb" stroke-width="1.1"/>
<line x1="379.3" y1="1898.1" x2="641.8" y2="1898.1" stroke="#ebebeb" stroke-width="1.1"/>
<rect x="379.3" y="1844" width="262.5" height="74.1" fill="none" stroke="#4d4d4d" stroke-width="1.4"/>
<line x1="396" y1="1918.1" x2="396" y2="1921.1" stroke="#333" stroke-width="1"/>
<line x1="514.9" y1="1918.1" x2="514.9" y2="1921.1" stroke="#333" stroke-width="1"/>
<line x1="633.5" y1="1918.1" x2="633.5" y2="1921.1" stroke="#333" stroke-width="1"/>
<text x="373.3" y="1873.3" font-size="9.7" text-anchor="end" fill="#333" textLength="169" lengthAdjust="spacingAndGlyphs" stroke="#333" stroke-width="0.38">carbohydrate metabolic process</text>
<line x1="375.3" y1="1869.9" x2="379.3" y2="1869.9" stroke="#333" stroke-width="1.1"/>
<text x="373.3" y="1901.49" font-size="9.7" text-anchor="end" fill="#333" textLength="153.08" lengthAdjust="spacingAndGlyphs" stroke="#333" stroke-width="0.38">transcription, DNA-templated</text>
<line x1="375.3" y1="1898.1" x2="379.3" y2="1898.1" stroke="#333" stroke-width="1.1"/>
<path d="M407 1858.2l7.15 17.7h-14.3z" fill="#b07a8a"/>
<path d="M401.7 1891.5l4.3 10h-8.6z" fill="#2a68aa"/>
<text x="646" y="1866.5" font-size="27" font-weight="bold" textLength="30" lengthAdjust="spacingAndGlyphs" transform="rotate(90 646 1866.5)">BP</text>
<rect x="378" y="1930.4" width="263.8" height="125.6" fill="#fff"/>
<line x1="445.1" y1="1930.4" x2="445.1" y2="2056" stroke="#f4f4f4" stroke-width="1.1"/>
<line x1="569.4" y1="1930.4" x2="569.4" y2="2056" stroke="#f4f4f4" stroke-width="1.1"/>
<line x1="382.6" y1="1930.4" x2="382.6" y2="2056" stroke="#ebebeb" stroke-width="1.1"/>
<line x1="507.3" y1="1930.4" x2="507.3" y2="2056" stroke="#ebebeb" stroke-width="1.1"/>
<line x1="631.9" y1="1930.4" x2="631.9" y2="2056" stroke="#ebebeb" stroke-width="1.1"/>
<line x1="378" y1="1954.6" x2="641.8" y2="1954.6" stroke="#ebebeb" stroke-width="1.1"/>
<line x1="378" y1="1990.2" x2="641.8" y2="1990.2" stroke="#ebebeb" stroke-width="1.1"/>
<line x1="378" y1="2029.4" x2="641.8" y2="2029.4" stroke="#ebebeb" stroke-width="1.1"/>
<rect x="378" y="1930.4" width="263.8" height="125.6" fill="none" stroke="#4d4d4d" stroke-width="1.4"/>
<text x="372" y="1957.99" font-size="9.7" text-anchor="end" fill="#333" textLength="155.5" lengthAdjust="spacingAndGlyphs" stroke="#333" stroke-width="0.38">integral component of membrane</text>
<line x1="374" y1="1954.6" x2="378" y2="1954.6" stroke="#333" stroke-width="1.1"/>
<text x="372" y="1993.6" font-size="9.7" text-anchor="end" fill="#333" textLength="47.7" lengthAdjust="spacingAndGlyphs" stroke="#333" stroke-width="0.38">cytoplasm</text>
<line x1="374" y1="1990.2" x2="378" y2="1990.2" stroke="#333" stroke-width="1.1"/>
<text x="372" y="2032.8" font-size="9.7" text-anchor="end" fill="#333" textLength="36.52" lengthAdjust="spacingAndGlyphs" stroke="#333" stroke-width="0.38">nucleus</text>
<line x1="374" y1="2029.4" x2="378" y2="2029.4" stroke="#333" stroke-width="1.1"/>
<path d="M604.1 1942l10.5 19.3h-21z" fill="#c84a5c"/>
<path d="M437.1 1985.5l4.65 7.3h-9.3z" fill="#1a66b2"/>
<path d="M437.1 2025.4l4.65 7.3h-9.3z" fill="#1a66b2"/>
<text x="646" y="1968" font-size="27" font-weight="bold" textLength="33" lengthAdjust="spacingAndGlyphs" transform="rotate(90 646 1968)">CC</text>
<line x1="449.4" y1="2070" x2="449.4" y2="2328" stroke="#f4f4f4" stroke-width="1.1"/>
<line x1="570.2" y1="2070" x2="570.2" y2="2328" stroke="#f4f4f4" stroke-width="1.1"/>
<line x1="388.8" y1="2070" x2="388.8" y2="2328" stroke="#ebebeb" stroke-width="1.1"/>
<line x1="510.4" y1="2070" x2="510.4" y2="2328" stroke="#ebebeb" stroke-width="1.1"/>
<line x1="630.8" y1="2070" x2="630.8" y2="2328" stroke="#ebebeb" stroke-width="1.1"/>
<line x1="378" y1="2088.7" x2="642" y2="2088.7" stroke="#ebebeb" stroke-width="1.1"/>
<line x1="378" y1="2113.8" x2="642" y2="2113.8" stroke="#ebebeb" stroke-width="1.1"/>
<line x1="378" y1="2141.3" x2="642" y2="2141.3" stroke="#ebebeb" stroke-width="1.1"/>
<line x1="378" y1="2167.7" x2="642" y2="2167.7" stroke="#ebebeb" stroke-width="1.1"/>
<line x1="378" y1="2192.4" x2="642" y2="2192.4" stroke="#ebebeb" stroke-width="1.1"/>
<line x1="378" y1="2217.5" x2="642" y2="2217.5" stroke="#ebebeb" stroke-width="1.1"/>
<line x1="378" y1="2244.2" x2="642" y2="2244.2" stroke="#ebebeb" stroke-width="1.1"/>
<line x1="378" y1="2269.7" x2="642" y2="2269.7" stroke="#ebebeb" stroke-width="1.1"/>
<line x1="378" y1="2289.3" x2="642" y2="2289.3" stroke="#ebebeb" stroke-width="1.1"/>
<line x1="378" y1="2313.2" x2="642" y2="2313.2" stroke="#ebebeb" stroke-width="1.1"/>
<line x1="378" y1="2070" x2="642" y2="2070" stroke="#5a5a5a" stroke-width="1.4"/>
<line x1="378" y1="2328" x2="642" y2="2328" stroke="#5a5a5a" stroke-width="1.4"/>
<line x1="388.8" y1="2328" x2="388.8" y2="2331.5" stroke="#333" stroke-width="1"/>
<text x="388.8" y="2342" font-size="10" text-anchor="middle" fill="#333">0</text>
<line x1="510.4" y1="2328" x2="510.4" y2="2331.5" stroke="#333" stroke-width="1"/>
<text x="510.4" y="2342" font-size="10" text-anchor="middle" fill="#333">20</text>
<line x1="630.8" y1="2328" x2="630.8" y2="2331.5" stroke="#333" stroke-width="1"/>
<text x="630.8" y="2342" font-size="10" text-anchor="middle" fill="#333">40</text>
<text x="513.2" y="2361" font-size="10.5" text-anchor="middle" font-weight="bold" fill="#222">Rich factor</text>
<text x="370.8" y="2092.09" font-size="9.7" text-anchor="end" fill="#333" textLength="121.3" lengthAdjust="spacingAndGlyphs" stroke="#333" stroke-width="0.38">oxidoreductase activity</text>
<line x1="373" y1="2088.7" x2="376" y2="2088.7" stroke="#333" stroke-width="1.1"/>
<text x="370.8" y="2117.2" font-size="9.7" text-anchor="end" fill="#333" textLength="98.63" lengthAdjust="spacingAndGlyphs" stroke="#333" stroke-width="0.38">peroxidase activity</text>
<line x1="373" y1="2113.8" x2="376" y2="2113.8" stroke="#333" stroke-width="1.1"/>
<text x="370.8" y="2138.88" font-size="9.7" text-anchor="end" fill="#333" textLength="367.01" lengthAdjust="spacingAndGlyphs" stroke="#333" stroke-width="0.38">oxidoreductase activity, acting on paired donors, with incorporation or</text>
<text x="370.8" y="2150.52" font-size="9.7" text-anchor="end" fill="#333" textLength="159.96" lengthAdjust="spacingAndGlyphs" stroke="#333" stroke-width="0.38">reduction of molecular oxygen</text>
<line x1="373" y1="2141.3" x2="376" y2="2141.3" stroke="#333" stroke-width="1.1"/>
<text x="370.8" y="2171.09" font-size="9.7" text-anchor="end" fill="#333" textLength="283" lengthAdjust="spacingAndGlyphs" stroke="#333" stroke-width="0.38">hydrolase activity, hydrolyzing O-glycosyl compounds</text>
<line x1="373" y1="2167.7" x2="376" y2="2167.7" stroke="#333" stroke-width="1.1"/>
<text x="370.8" y="2195.8" font-size="9.7" text-anchor="end" fill="#333" textLength="81.32" lengthAdjust="spacingAndGlyphs" stroke="#333" stroke-width="0.38">iron ion binding</text>
<line x1="373" y1="2192.4" x2="376" y2="2192.4" stroke="#333" stroke-width="1.1"/>
<text x="370.8" y="2220.89" font-size="9.7" text-anchor="end" fill="#333" textLength="91.96" lengthAdjust="spacingAndGlyphs" stroke="#333" stroke-width="0.38">hydrolase activity</text>
<line x1="373" y1="2217.5" x2="376" y2="2217.5" stroke="#333" stroke-width="1.1"/>
<text x="370.8" y="2247.59" font-size="9.7" text-anchor="end" fill="#333" textLength="75.1" lengthAdjust="spacingAndGlyphs" stroke="#333" stroke-width="0.38">NADP binding</text>
<line x1="373" y1="2244.2" x2="376" y2="2244.2" stroke="#333" stroke-width="1.1"/>
<text x="370.8" y="2273.09" font-size="9.7" text-anchor="end" fill="#333" textLength="97.99" lengthAdjust="spacingAndGlyphs" stroke="#333" stroke-width="0.38">copper ion binding</text>
<line x1="373" y1="2269.7" x2="376" y2="2269.7" stroke="#333" stroke-width="1.1"/>
<text x="370.8" y="2292.7" font-size="9.7" text-anchor="end" fill="#333" textLength="305.68" lengthAdjust="spacingAndGlyphs" stroke="#333" stroke-width="0.38">oxidoreductase activity, acting on CH-OH group of donors</text>
<line x1="373" y1="2289.3" x2="376" y2="2289.3" stroke="#333" stroke-width="1.1"/>
<text x="370.8" y="2316.59" font-size="9.7" text-anchor="end" fill="#333" textLength="65.32" lengthAdjust="spacingAndGlyphs" stroke="#333" stroke-width="0.38">FAD binding</text>
<line x1="373" y1="2313.2" x2="376" y2="2313.2" stroke="#333" stroke-width="1.1"/>
<path d="M404.1 2078l10.5 17h-21z" fill="#4aaac6"/>
<path d="M438.8 2108.6l5.2 9.2h-10.4z" fill="#4cb0c8"/>
<path d="M411.7 2135.8l7 9.9h-14z" fill="#7ab23a"/>
<path d="M409.5 2161.7l6.5 9.9h-13z" fill="#6e9e3e"/>
<path d="M407.5 2185.6l6.5 10.8h-13z" fill="#6e9e3e"/>
<path d="M402.2 2209.5l8.5 13.2h-17z" fill="#6c9a44"/>
<path d="M418.1 2239.8l4.4 7.6h-8.8z" fill="#6c9a44"/>
<path d="M418.1 2265.3l4.4 8h-8.8z" fill="#6c9a44"/>
<path d="M418.9 2285.3l4.4 7.9h-8.8z" fill="#6c9a44"/>
<path d="M406.3 2308l5.5 9.2h-11z" fill="#1a62aa"/>
<text x="646" y="2180" font-size="27" font-weight="bold" textLength="39" lengthAdjust="spacingAndGlyphs" transform="rotate(90 646 2180)">MF</text>
<text x="693.7" y="1927.5" font-size="14" font-weight="bold" textLength="47.45" lengthAdjust="spacingAndGlyphs">qvalue</text>
<rect x="693.4" y="1938.1" width="22.3" height="112.1" fill="url(#qg)"/>
<line x1="693.4" y1="1963.9" x2="697.86" y2="1963.9" stroke="#fff" stroke-width="1" opacity="0.7"/>
<line x1="711.24" y1="1963.9" x2="715.7" y2="1963.9" stroke="#fff" stroke-width="1" opacity="0.7"/>
<text x="724.3" y="1969.12" font-size="14.5" fill="#1a1a1a" textLength="30.19" lengthAdjust="spacingAndGlyphs">0.15</text>
<line x1="693.4" y1="1992.7" x2="697.86" y2="1992.7" stroke="#fff" stroke-width="1" opacity="0.7"/>
<line x1="711.24" y1="1992.7" x2="715.7" y2="1992.7" stroke="#fff" stroke-width="1" opacity="0.7"/>
<text x="724.3" y="1997.92" font-size="14.5" fill="#1a1a1a" textLength="30.19" lengthAdjust="spacingAndGlyphs">0.10</text>
<line x1="693.4" y1="2021" x2="697.86" y2="2021" stroke="#fff" stroke-width="1" opacity="0.7"/>
<line x1="711.24" y1="2021" x2="715.7" y2="2021" stroke="#fff" stroke-width="1" opacity="0.7"/>
<text x="724.3" y="2026.22" font-size="14.5" fill="#1a1a1a" textLength="30.19" lengthAdjust="spacingAndGlyphs">0.05</text>
<text x="693.7" y="2091.4" font-size="14" font-weight="bold" textLength="100.06" lengthAdjust="spacingAndGlyphs">gene_number</text>
<circle cx="704.5" cy="2114.2" r="4.7" fill="#000"/>
<text x="724.3" y="2119.42" font-size="14.5" fill="#1a1a1a" textLength="21.97" lengthAdjust="spacingAndGlyphs">2.5</text>
<circle cx="704.5" cy="2136.9" r="6.85" fill="#000"/>
<text x="724.3" y="2142.12" font-size="14.5" fill="#1a1a1a" textLength="21.97" lengthAdjust="spacingAndGlyphs">5.0</text>
<circle cx="704.5" cy="2159.6" r="7.75" fill="#000"/>
<text x="724.3" y="2164.82" font-size="14.5" fill="#1a1a1a" textLength="21.97" lengthAdjust="spacingAndGlyphs">7.5</text>
<circle cx="704.5" cy="2182.4" r="8.6" fill="#000"/>
<text x="724.3" y="2187.62" font-size="14.5" fill="#1a1a1a" textLength="30.76" lengthAdjust="spacingAndGlyphs">10.0</text>
<text x="693.7" y="2234.8" font-size="14" font-weight="bold" textLength="24.96" lengthAdjust="spacingAndGlyphs">Diff</text>
<path d="M704.5 2248.9l4 6.4h-8z" fill="none" stroke="#000" stroke-width="1.1"/>
<text x="724.3" y="2257.72" font-size="14.5" fill="#1a1a1a" textLength="17.26" lengthAdjust="spacingAndGlyphs">up</text>
<rect x="1092.7" y="1824.5" width="563.8" height="511.5" fill="#fff"/>
<line x1="1223.5" y1="1824.5" x2="1223.5" y2="2336" stroke="#f4f4f4" stroke-width="1.1"/>
<line x1="1394.5" y1="1824.5" x2="1394.5" y2="2336" stroke="#f4f4f4" stroke-width="1.1"/>
<line x1="1565.5" y1="1824.5" x2="1565.5" y2="2336" stroke="#f4f4f4" stroke-width="1.1"/>
<line x1="1138" y1="1824.5" x2="1138" y2="2336" stroke="#ebebeb" stroke-width="1.1"/>
<line x1="1309" y1="1824.5" x2="1309" y2="2336" stroke="#ebebeb" stroke-width="1.1"/>
<line x1="1480" y1="1824.5" x2="1480" y2="2336" stroke="#ebebeb" stroke-width="1.1"/>
<line x1="1651" y1="1824.5" x2="1651" y2="2336" stroke="#ebebeb" stroke-width="1.1"/>
<line x1="1092.7" y1="1840.8" x2="1656.5" y2="1840.8" stroke="#ebebeb" stroke-width="1.1"/>
<line x1="1092.7" y1="1866.1" x2="1656.5" y2="1866.1" stroke="#ebebeb" stroke-width="1.1"/>
<line x1="1092.7" y1="1891.4" x2="1656.5" y2="1891.4" stroke="#ebebeb" stroke-width="1.1"/>
<line x1="1092.7" y1="1916.7" x2="1656.5" y2="1916.7" stroke="#ebebeb" stroke-width="1.1"/>
<line x1="1092.7" y1="1942" x2="1656.5" y2="1942" stroke="#ebebeb" stroke-width="1.1"/>
<line x1="1092.7" y1="1967.3" x2="1656.5" y2="1967.3" stroke="#ebebeb" stroke-width="1.1"/>
<line x1="1092.7" y1="1992.6" x2="1656.5" y2="1992.6" stroke="#ebebeb" stroke-width="1.1"/>
<line x1="1092.7" y1="2017.9" x2="1656.5" y2="2017.9" stroke="#ebebeb" stroke-width="1.1"/>
<line x1="1092.7" y1="2043.2" x2="1656.5" y2="2043.2" stroke="#ebebeb" stroke-width="1.1"/>
<line x1="1092.7" y1="2068.5" x2="1656.5" y2="2068.5" stroke="#ebebeb" stroke-width="1.1"/>
<line x1="1092.7" y1="2093.8" x2="1656.5" y2="2093.8" stroke="#ebebeb" stroke-width="1.1"/>
<line x1="1092.7" y1="2119.1" x2="1656.5" y2="2119.1" stroke="#ebebeb" stroke-width="1.1"/>
<line x1="1092.7" y1="2144.4" x2="1656.5" y2="2144.4" stroke="#ebebeb" stroke-width="1.1"/>
<line x1="1092.7" y1="2169.7" x2="1656.5" y2="2169.7" stroke="#ebebeb" stroke-width="1.1"/>
<line x1="1092.7" y1="2195" x2="1656.5" y2="2195" stroke="#ebebeb" stroke-width="1.1"/>
<line x1="1092.7" y1="2220.3" x2="1656.5" y2="2220.3" stroke="#ebebeb" stroke-width="1.1"/>
<line x1="1092.7" y1="2245.6" x2="1656.5" y2="2245.6" stroke="#ebebeb" stroke-width="1.1"/>
<line x1="1092.7" y1="2270.9" x2="1656.5" y2="2270.9" stroke="#ebebeb" stroke-width="1.1"/>
<line x1="1092.7" y1="2296.2" x2="1656.5" y2="2296.2" stroke="#ebebeb" stroke-width="1.1"/>
<line x1="1092.7" y1="2321.5" x2="1656.5" y2="2321.5" stroke="#ebebeb" stroke-width="1.1"/>
<line x1="1092.7" y1="1824.5" x2="1092.7" y2="2336" stroke="#cdcdcd" stroke-width="1.1"/>
<line x1="1656.5" y1="1824.5" x2="1656.5" y2="2336" stroke="#dedede" stroke-width="1.1"/>
<line x1="1092.1" y1="1824.5" x2="1657.1" y2="1824.5" stroke="#a2a2a2" stroke-width="1.5"/>
<line x1="1092.1" y1="2336" x2="1657.1" y2="2336" stroke="#333" stroke-width="1.5"/>
<line x1="1138" y1="2336" x2="1138" y2="2339.5" stroke="#333" stroke-width="1"/>
<text x="1138" y="2350" font-size="9" text-anchor="middle" fill="#333">2</text>
<line x1="1309" y1="2336" x2="1309" y2="2339.5" stroke="#333" stroke-width="1"/>
<text x="1309" y="2350" font-size="9" text-anchor="middle" fill="#333">4</text>
<line x1="1480" y1="2336" x2="1480" y2="2339.5" stroke="#333" stroke-width="1"/>
<text x="1480" y="2350" font-size="9" text-anchor="middle" fill="#333">6</text>
<line x1="1651" y1="2336" x2="1651" y2="2339.5" stroke="#333" stroke-width="1"/>
<text x="1651" y="2350" font-size="9" text-anchor="middle" fill="#333">8</text>
<text x="1374.7" y="2362.5" font-size="10" text-anchor="middle" font-weight="bold" fill="#222">Rich factor</text>
<text x="1374.7" y="1816.3" font-size="12" text-anchor="middle" font-weight="bold" fill="#111" textLength="196" lengthAdjust="spacingAndGlyphs">Statistics of Pathway Enrichment</text>
<text x="1085.5" y="1844.16" font-size="9.6" text-anchor="end" fill="#333" textLength="126" lengthAdjust="spacingAndGlyphs" stroke="#333" stroke-width="0.38">Phenylalanine metabolism</text>
<line x1="1089" y1="1840.8" x2="1092.7" y2="1840.8" stroke="#333" stroke-width="1.1"/>
<text x="1085.5" y="1869.46" font-size="9.6" text-anchor="end" fill="#333" textLength="201.61" lengthAdjust="spacingAndGlyphs" stroke="#333" stroke-width="0.38">Pentose and glucuronate interconversions</text>
<line x1="1089" y1="1866.1" x2="1092.7" y2="1866.1" stroke="#333" stroke-width="1.1"/>
<text x="1085.5" y="1894.76" font-size="9.6" text-anchor="end" fill="#333" textLength="118.79" lengthAdjust="spacingAndGlyphs" stroke="#333" stroke-width="0.38">beta-Alanine metabolism</text>
<line x1="1089" y1="1891.4" x2="1092.7" y2="1891.4" stroke="#333" stroke-width="1.1"/>
<text x="1085.5" y="1920.06" font-size="9.6" text-anchor="end" fill="#333" textLength="151.18" lengthAdjust="spacingAndGlyphs" stroke="#333" stroke-width="0.38">Starch and sucrose metabolism</text>
<line x1="1089" y1="1916.7" x2="1092.7" y2="1916.7" stroke="#333" stroke-width="1.1"/>
<text x="1085.5" y="1945.36" font-size="9.6" text-anchor="end" fill="#333" textLength="198.59" lengthAdjust="spacingAndGlyphs" stroke="#333" stroke-width="0.38">Glycine, serine and threonine metabolism</text>
<line x1="1089" y1="1942" x2="1092.7" y2="1942" stroke="#333" stroke-width="1.1"/>
<text x="1085.5" y="1970.66" font-size="9.6" text-anchor="end" fill="#333" textLength="106.78" lengthAdjust="spacingAndGlyphs" stroke="#333" stroke-width="0.38">Galactose metabolism</text>
<line x1="1089" y1="1967.3" x2="1092.7" y2="1967.3" stroke="#333" stroke-width="1.1"/>
<text x="1085.5" y="1995.96" font-size="9.6" text-anchor="end" fill="#333" textLength="98.98" lengthAdjust="spacingAndGlyphs" stroke="#333" stroke-width="0.38">Nitrogen metabolism</text>
<line x1="1089" y1="1992.6" x2="1092.7" y2="1992.6" stroke="#333" stroke-width="1.1"/>
<text x="1085.5" y="2021.26" font-size="9.6" text-anchor="end" fill="#333" textLength="98.98" lengthAdjust="spacingAndGlyphs" stroke="#333" stroke-width="0.38">Tyrosine metabolism</text>
<line x1="1089" y1="2017.9" x2="1092.7" y2="2017.9" stroke="#333" stroke-width="1.1"/>
<text x="1085.5" y="2046.56" font-size="9.6" text-anchor="end" fill="#333" textLength="100.19" lengthAdjust="spacingAndGlyphs" stroke="#333" stroke-width="0.38">Methane metabolism</text>
<line x1="1089" y1="2043.2" x2="1092.7" y2="2043.2" stroke="#333" stroke-width="1.1"/>
<text x="1085.5" y="2071.86" font-size="9.6" text-anchor="end" fill="#333" textLength="179.98" lengthAdjust="spacingAndGlyphs" stroke="#333" stroke-width="0.38">Porphyrin and chlorophyll metabolism</text>
<line x1="1089" y1="2068.5" x2="1092.7" y2="2068.5" stroke="#333" stroke-width="1.1"/>
<text x="1085.5" y="2097.16" font-size="9.6" text-anchor="end" fill="#333" textLength="112.39" lengthAdjust="spacingAndGlyphs" stroke="#333" stroke-width="0.38">Tryptophan metabolism</text>
<line x1="1089" y1="2093.8" x2="1092.7" y2="2093.8" stroke="#333" stroke-width="1.1"/>
<text x="1085.5" y="2122.46" font-size="9.6" text-anchor="end" fill="#333" textLength="201.43" lengthAdjust="spacingAndGlyphs" stroke="#333" stroke-width="0.38">Valine, leucine and isoleucine degradation</text>
<line x1="1089" y1="2119.1" x2="1092.7" y2="2119.1" stroke="#333" stroke-width="1.1"/>
<text x="1085.5" y="2147.76" font-size="9.6" text-anchor="end" fill="#333" textLength="106.8" lengthAdjust="spacingAndGlyphs" stroke="#333" stroke-width="0.38">Fatty acid degradation</text>
<line x1="1089" y1="2144.4" x2="1092.7" y2="2144.4" stroke="#333" stroke-width="1.1"/>
<text x="1085.5" y="2173.06" font-size="9.6" text-anchor="end" fill="#333" textLength="258.58" lengthAdjust="spacingAndGlyphs" stroke="#333" stroke-width="0.38">Biosynthesis of various secondary metabolites - part 2</text>
<line x1="1089" y1="2169.7" x2="1092.7" y2="2169.7" stroke="#333" stroke-width="1.1"/>
<text x="1085.5" y="2198.36" font-size="9.6" text-anchor="end" fill="#333" textLength="85.19" lengthAdjust="spacingAndGlyphs" stroke="#333" stroke-width="0.38">Biotin metabolism</text>
<line x1="1089" y1="2195" x2="1092.7" y2="2195" stroke="#333" stroke-width="1.1"/>
<text x="1085.5" y="2223.66" font-size="9.6" text-anchor="end" fill="#333" textLength="142.2" lengthAdjust="spacingAndGlyphs" stroke="#333" stroke-width="0.38">Selenocompound metabolism</text>
<line x1="1089" y1="2220.3" x2="1092.7" y2="2220.3" stroke="#333" stroke-width="1.1"/>
<text x="1085.5" y="2248.96" font-size="9.6" text-anchor="end" fill="#333" textLength="154.2" lengthAdjust="spacingAndGlyphs" stroke="#333" stroke-width="0.38">Arginine and proline metabolism</text>
<line x1="1089" y1="2245.6" x2="1092.7" y2="2245.6" stroke="#333" stroke-width="1.1"/>
<text x="1085.5" y="2274.26" font-size="9.6" text-anchor="end" fill="#333" textLength="168.58" lengthAdjust="spacingAndGlyphs" stroke="#333" stroke-width="0.38">Fructose and mannose metabolism</text>
<line x1="1089" y1="2270.9" x2="1092.7" y2="2270.9" stroke="#333" stroke-width="1.1"/>
<text x="1085.5" y="2299.56" font-size="9.6" text-anchor="end" fill="#333" textLength="221.99" lengthAdjust="spacingAndGlyphs" stroke="#333" stroke-width="0.38">Amino sugar and nucleotide sugar metabolism</text>
<line x1="1089" y1="2296.2" x2="1092.7" y2="2296.2" stroke="#333" stroke-width="1.1"/>
<text x="1085.5" y="2324.86" font-size="9.6" text-anchor="end" fill="#333" textLength="106.18" lengthAdjust="spacingAndGlyphs" stroke="#333" stroke-width="0.38">Ether lipid metabolism</text>
<line x1="1089" y1="2321.5" x2="1092.7" y2="2321.5" stroke="#333" stroke-width="1.1"/>
<path d="M1632 1831.9l8.15 13.4h-16.3z" fill="#c84a5c"/>
<path d="M1505 1855.1l9.45 16.3h-18.9z" fill="#c84a5c"/>
<path d="M1389.3 1882.7l7.25 12.3h-14.5z" fill="#4ea890"/>
<path d="M1202.9 1907l8.7 14.5h-17.4z" fill="#76ae3e"/>
<path d="M1208.2 1932.3l8.7 13.8h-17.4z" fill="#76ae3e"/>
<path d="M1296 1958.4l7 12.7h-14z" fill="#76ae3e"/>
<path d="M1346.6 1986l5.5 9.8h-11z" fill="#76ae3e"/>
<path d="M1237.2 2009.6l6.7 12.7h-13.4z" fill="#76ae3e"/>
<path d="M1248.1 2036.4l6 10.2h-12z" fill="#4a7888"/>
<path d="M1241.3 2067l1.75 3h-3.5z" fill="#1a66b2"/>
<path d="M1133.5 2088.3l5.5 9h-11z" fill="#1a66b2"/>
<path d="M1137.1 2113.7l5.5 9h-11z" fill="#1a66b2"/>
<path d="M1148.3 2139l5 9h-10z" fill="#1a66b2"/>
<path d="M1289.2 2168.2l1.75 3h-3.5z" fill="#1a66b2"/>
<path d="M1309.5 2193.5l1.75 3h-3.5z" fill="#1a66b2"/>
<path d="M1358.1 2218.8l1.75 3h-3.5z" fill="#1a66b2"/>
<path d="M1195.3 2240l5.5 9h-11z" fill="#1a66b2"/>
<path d="M1211 2265.3l5.8 9.5h-11.6z" fill="#1a66b2"/>
<path d="M1117.7 2290.5l5.8 9.5h-11.6z" fill="#1a66b2"/>
<path d="M1216.3 2320l1.75 3h-3.5z" fill="#1a66b2"/>
<text x="1676.3" y="1930" font-size="10" font-weight="bold" textLength="41.18" lengthAdjust="spacingAndGlyphs">qvalue</text>
<rect x="1677.5" y="1938.7" width="18" height="97.1" fill="url(#qg)"/>
<line x1="1677.5" y1="1956.7" x2="1681.1" y2="1956.7" stroke="#fff" stroke-width="1" opacity="0.7"/>
<line x1="1691.9" y1="1956.7" x2="1695.5" y2="1956.7" stroke="#fff" stroke-width="1" opacity="0.7"/>
<text x="1702.1" y="1960.48" font-size="10.5" fill="#1a1a1a" textLength="18.97" lengthAdjust="spacingAndGlyphs">0.5</text>
<line x1="1677.5" y1="1973.5" x2="1681.1" y2="1973.5" stroke="#fff" stroke-width="1" opacity="0.7"/>
<line x1="1691.9" y1="1973.5" x2="1695.5" y2="1973.5" stroke="#fff" stroke-width="1" opacity="0.7"/>
<text x="1702.1" y="1977.28" font-size="10.5" fill="#1a1a1a" textLength="18.97" lengthAdjust="spacingAndGlyphs">0.4</text>
<line x1="1677.5" y1="1989.6" x2="1681.1" y2="1989.6" stroke="#fff" stroke-width="1" opacity="0.7"/>
<line x1="1691.9" y1="1989.6" x2="1695.5" y2="1989.6" stroke="#fff" stroke-width="1" opacity="0.7"/>
<text x="1702.1" y="1993.38" font-size="10.5" fill="#1a1a1a" textLength="18.97" lengthAdjust="spacingAndGlyphs">0.3</text>
<line x1="1677.5" y1="2006.4" x2="1681.1" y2="2006.4" stroke="#fff" stroke-width="1" opacity="0.7"/>
<line x1="1691.9" y1="2006.4" x2="1695.5" y2="2006.4" stroke="#fff" stroke-width="1" opacity="0.7"/>
<text x="1702.1" y="2010.18" font-size="10.5" fill="#1a1a1a" textLength="18.97" lengthAdjust="spacingAndGlyphs">0.2</text>
<line x1="1677.5" y1="2022.6" x2="1681.1" y2="2022.6" stroke="#fff" stroke-width="1" opacity="0.7"/>
<line x1="1691.9" y1="2022.6" x2="1695.5" y2="2022.6" stroke="#fff" stroke-width="1" opacity="0.7"/>
<text x="1702.1" y="2026.38" font-size="10.5" fill="#1a1a1a" textLength="18.97" lengthAdjust="spacingAndGlyphs">0.1</text>
<text x="1676.3" y="2072.5" font-size="10" font-weight="bold" textLength="85.24" lengthAdjust="spacingAndGlyphs">gene_number</text>
<circle cx="1686.1" cy="2091" r="1.7" fill="#000"/>
<text x="1702.1" y="2094.78" font-size="10.5" fill="#1a1a1a" textLength="7.59" lengthAdjust="spacingAndGlyphs">1</text>
<circle cx="1686.1" cy="2110.1" r="4.3" fill="#000"/>
<text x="1702.1" y="2113.88" font-size="10.5" fill="#1a1a1a" textLength="7.59" lengthAdjust="spacingAndGlyphs">2</text>
<circle cx="1686.1" cy="2129.9" r="5.6" fill="#000"/>
<text x="1702.1" y="2133.68" font-size="10.5" fill="#1a1a1a" textLength="7.59" lengthAdjust="spacingAndGlyphs">3</text>
<circle cx="1686.1" cy="2149.7" r="6.5" fill="#000"/>
<text x="1702.1" y="2153.48" font-size="10.5" fill="#1a1a1a" textLength="7.59" lengthAdjust="spacingAndGlyphs">4</text>
<circle cx="1686.1" cy="2169.5" r="7.3" fill="#000"/>
<text x="1702.1" y="2173.28" font-size="10.5" fill="#1a1a1a" textLength="7.59" lengthAdjust="spacingAndGlyphs">5</text>
<text x="1676.3" y="2213.5" font-size="10" font-weight="bold" textLength="20.82" lengthAdjust="spacingAndGlyphs">Diff</text>
<path d="M1686.1 2231.12l2.75 4.4h-5.5z" fill="none" stroke="#000" stroke-width="1.1"/>
<text x="1702.1" y="2237.56" font-size="11" fill="#1a1a1a" textLength="15.29" lengthAdjust="spacingAndGlyphs">up</text>
<text x="76.6" y="46.9" font-size="60" font-family="'Liberation Serif', 'Times New Roman', serif">A</text>
<text x="851.6" y="47.2" font-size="60" font-family="'Liberation Serif', 'Times New Roman', serif">B</text>
<text x="89.2" y="645.2" font-size="62" font-family="'Liberation Serif', 'Times New Roman', serif">C</text>
<text x="17.5" y="1281.5" font-size="64" font-family="'Liberation Serif', 'Times New Roman', serif">D</text>
<text x="781" y="1290.6" font-size="62" font-family="'Liberation Serif', 'Times New Roman', serif">E</text>
<text x="17.4" y="1841.4" font-size="63" font-family="'Liberation Serif', 'Times New Roman', serif">F</text>
<text x="780.2" y="1850.3" font-size="62" font-family="'Liberation Serif', 'Times New Roman', serif">G</text>
</svg>
</body></html>
